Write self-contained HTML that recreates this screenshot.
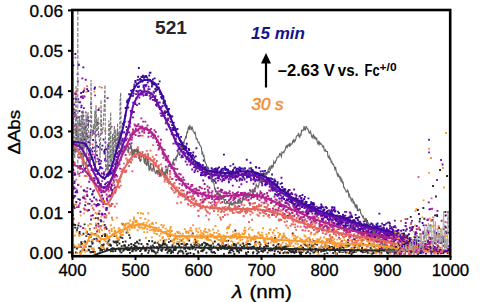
<!DOCTYPE html>
<html><head><meta charset="utf-8"><style>
html,body{margin:0;padding:0;background:#fff;width:480px;height:302px;overflow:hidden}
svg{display:block}
text{font-family:"Liberation Sans",sans-serif;fill:#000}
.tl{stroke:#000;stroke-width:0.3}
</style></head><body>
<svg width="480" height="302" viewBox="0 0 480 302">
<defs><clipPath id="c"><rect x="73" y="11" width="376" height="244"/></clipPath></defs>
<g clip-path="url(#c)">
<path fill="#262626" d="M72.9 223.5h1.9v1.9h-1.9zM73.0 205.5h1.9v1.9h-1.9zM72.9 196.4h1.9v1.9h-1.9zM73.9 246.3h1.9v1.9h-1.9zM74.1 226.7h1.9v1.9h-1.9zM74.3 224.0h1.9v1.9h-1.9zM75.0 251.5h1.9v1.9h-1.9zM75.4 201.1h1.9v1.9h-1.9zM76.0 247.5h1.9v1.9h-1.9zM76.0 229.2h1.9v1.9h-1.9zM76.5 227.2h1.9v1.9h-1.9zM77.1 183.9h1.9v1.9h-1.9zM77.4 224.6h1.9v1.9h-1.9zM77.8 245.9h1.9v1.9h-1.9zM78.6 231.8h1.9v1.9h-1.9zM78.7 230.9h1.9v1.9h-1.9zM78.6 233.3h1.9v1.9h-1.9zM79.5 251.9h1.9v1.9h-1.9zM79.7 250.6h1.9v1.9h-1.9zM80.4 243.2h1.9v1.9h-1.9zM80.3 241.2h1.9v1.9h-1.9zM81.0 242.9h1.9v1.9h-1.9zM81.7 248.7h1.9v1.9h-1.9zM82.5 232.8h1.9v1.9h-1.9zM82.8 247.7h1.9v1.9h-1.9zM83.4 249.0h1.9v1.9h-1.9zM83.6 223.4h1.9v1.9h-1.9zM84.0 240.5h1.9v1.9h-1.9zM84.3 204.3h1.9v1.9h-1.9zM84.5 246.1h1.9v1.9h-1.9zM84.6 241.8h1.9v1.9h-1.9zM85.4 235.2h1.9v1.9h-1.9zM85.9 231.1h1.9v1.9h-1.9zM86.4 195.1h1.9v1.9h-1.9zM86.9 209.5h1.9v1.9h-1.9zM87.2 233.2h1.9v1.9h-1.9zM87.6 248.8h1.9v1.9h-1.9zM88.2 249.3h1.9v1.9h-1.9zM88.2 245.4h1.9v1.9h-1.9zM88.9 228.2h1.9v1.9h-1.9zM89.2 233.8h1.9v1.9h-1.9zM89.6 251.3h1.9v1.9h-1.9zM89.9 245.5h1.9v1.9h-1.9zM90.5 251.1h1.9v1.9h-1.9zM90.8 240.7h1.9v1.9h-1.9zM91.4 242.9h1.9v1.9h-1.9zM91.7 242.1h1.9v1.9h-1.9zM92.1 251.0h1.9v1.9h-1.9zM92.4 250.4h1.9v1.9h-1.9zM93.2 238.2h1.9v1.9h-1.9zM93.8 251.8h1.9v1.9h-1.9zM93.7 251.4h1.9v1.9h-1.9zM93.9 251.2h1.9v1.9h-1.9zM94.4 232.9h1.9v1.9h-1.9zM94.8 217.2h1.9v1.9h-1.9zM95.5 237.7h1.9v1.9h-1.9zM95.9 238.7h1.9v1.9h-1.9zM96.4 239.5h1.9v1.9h-1.9zM97.1 217.3h1.9v1.9h-1.9zM97.4 222.8h1.9v1.9h-1.9zM97.6 229.2h1.9v1.9h-1.9zM98.2 247.0h1.9v1.9h-1.9zM98.6 240.6h1.9v1.9h-1.9zM99.3 249.6h1.9v1.9h-1.9zM99.6 247.8h1.9v1.9h-1.9zM99.6 225.3h1.9v1.9h-1.9zM100.2 220.3h1.9v1.9h-1.9zM101.1 249.1h1.9v1.9h-1.9zM100.9 244.3h1.9v1.9h-1.9zM101.1 235.0h1.9v1.9h-1.9zM102.0 244.2h1.9v1.9h-1.9zM102.3 246.2h1.9v1.9h-1.9zM102.8 243.5h1.9v1.9h-1.9zM102.9 248.2h1.9v1.9h-1.9zM103.7 224.1h1.9v1.9h-1.9zM104.1 235.2h1.9v1.9h-1.9zM104.1 233.3h1.9v1.9h-1.9zM104.8 226.5h1.9v1.9h-1.9zM105.0 234.3h1.9v1.9h-1.9zM105.6 227.8h1.9v1.9h-1.9zM105.7 248.4h1.9v1.9h-1.9zM106.4 247.6h1.9v1.9h-1.9zM106.6 242.5h1.9v1.9h-1.9zM107.5 240.4h1.9v1.9h-1.9zM108.0 243.9h1.9v1.9h-1.9zM108.4 238.7h1.9v1.9h-1.9zM108.5 243.7h1.9v1.9h-1.9zM109.2 243.6h1.9v1.9h-1.9zM109.7 244.9h1.9v1.9h-1.9zM109.9 250.4h1.9v1.9h-1.9zM110.1 244.4h1.9v1.9h-1.9zM110.4 248.3h1.9v1.9h-1.9zM111.2 202.9h1.9v1.9h-1.9zM111.5 247.3h1.9v1.9h-1.9zM111.9 250.3h1.9v1.9h-1.9zM112.0 250.3h1.9v1.9h-1.9zM112.6 240.5h1.9v1.9h-1.9zM113.0 247.4h1.9v1.9h-1.9zM113.4 241.3h1.9v1.9h-1.9zM113.6 235.0h1.9v1.9h-1.9zM114.4 250.1h1.9v1.9h-1.9zM115.2 240.6h1.9v1.9h-1.9zM115.2 240.5h1.9v1.9h-1.9zM115.4 241.9h1.9v1.9h-1.9zM116.2 244.3h1.9v1.9h-1.9zM116.1 241.0h1.9v1.9h-1.9zM116.7 240.6h1.9v1.9h-1.9zM117.6 238.8h1.9v1.9h-1.9zM117.6 247.5h1.9v1.9h-1.9zM118.4 248.8h1.9v1.9h-1.9zM118.4 242.6h1.9v1.9h-1.9zM119.3 250.5h1.9v1.9h-1.9zM119.5 236.3h1.9v1.9h-1.9zM119.8 248.3h1.9v1.9h-1.9zM120.5 251.7h1.9v1.9h-1.9zM120.7 245.3h1.9v1.9h-1.9zM121.4 237.2h1.9v1.9h-1.9zM122.0 240.9h1.9v1.9h-1.9zM121.8 223.3h1.9v1.9h-1.9zM122.3 249.8h1.9v1.9h-1.9zM122.9 244.5h1.9v1.9h-1.9zM123.0 248.9h1.9v1.9h-1.9zM123.9 244.3h1.9v1.9h-1.9zM123.9 245.4h1.9v1.9h-1.9zM124.6 240.5h1.9v1.9h-1.9zM125.1 246.8h1.9v1.9h-1.9zM125.1 248.4h1.9v1.9h-1.9zM125.7 231.6h1.9v1.9h-1.9zM125.9 248.0h1.9v1.9h-1.9zM126.6 246.6h1.9v1.9h-1.9zM127.3 248.7h1.9v1.9h-1.9zM126.9 249.2h1.9v1.9h-1.9zM128.3 234.2h1.9v1.9h-1.9zM127.9 244.3h1.9v1.9h-1.9zM128.6 249.1h1.9v1.9h-1.9zM129.0 251.9h1.9v1.9h-1.9zM129.2 236.8h1.9v1.9h-1.9zM130.3 243.0h1.9v1.9h-1.9zM130.3 247.5h1.9v1.9h-1.9zM130.6 245.7h1.9v1.9h-1.9zM131.1 250.4h1.9v1.9h-1.9zM131.9 249.9h1.9v1.9h-1.9zM132.0 248.0h1.9v1.9h-1.9zM132.8 244.1h1.9v1.9h-1.9zM133.0 247.4h1.9v1.9h-1.9zM133.4 248.3h1.9v1.9h-1.9zM133.8 244.9h1.9v1.9h-1.9zM133.9 246.0h1.9v1.9h-1.9zM134.2 242.3h1.9v1.9h-1.9zM134.8 249.5h1.9v1.9h-1.9zM135.6 245.5h1.9v1.9h-1.9zM135.5 249.3h1.9v1.9h-1.9zM136.0 240.7h1.9v1.9h-1.9zM136.3 241.5h1.9v1.9h-1.9zM137.2 248.1h1.9v1.9h-1.9zM137.9 242.7h1.9v1.9h-1.9zM138.2 246.8h1.9v1.9h-1.9zM138.7 239.3h1.9v1.9h-1.9zM139.2 250.1h1.9v1.9h-1.9zM139.8 249.3h1.9v1.9h-1.9zM140.2 248.4h1.9v1.9h-1.9zM140.5 243.0h1.9v1.9h-1.9zM140.8 252.9h1.9v1.9h-1.9zM142.3 245.5h1.9v1.9h-1.9zM142.0 247.5h1.9v1.9h-1.9zM142.3 245.6h1.9v1.9h-1.9zM143.1 247.7h1.9v1.9h-1.9zM143.6 247.1h1.9v1.9h-1.9zM143.7 247.9h1.9v1.9h-1.9zM144.2 249.7h1.9v1.9h-1.9zM144.6 249.8h1.9v1.9h-1.9zM145.0 246.9h1.9v1.9h-1.9zM145.5 248.7h1.9v1.9h-1.9zM145.9 246.6h1.9v1.9h-1.9zM146.3 243.0h1.9v1.9h-1.9zM146.7 243.6h1.9v1.9h-1.9zM147.3 251.9h1.9v1.9h-1.9zM147.9 249.8h1.9v1.9h-1.9zM148.1 240.0h1.9v1.9h-1.9zM148.6 247.3h1.9v1.9h-1.9zM148.8 247.2h1.9v1.9h-1.9zM149.9 245.4h1.9v1.9h-1.9zM149.9 247.5h1.9v1.9h-1.9zM150.6 248.8h1.9v1.9h-1.9zM151.1 250.3h1.9v1.9h-1.9zM151.3 240.3h1.9v1.9h-1.9zM151.9 244.5h1.9v1.9h-1.9zM152.3 250.4h1.9v1.9h-1.9zM152.6 249.4h1.9v1.9h-1.9zM152.9 245.9h1.9v1.9h-1.9zM153.5 242.2h1.9v1.9h-1.9zM153.7 251.0h1.9v1.9h-1.9zM154.2 241.5h1.9v1.9h-1.9zM154.8 252.5h1.9v1.9h-1.9zM155.9 245.9h1.9v1.9h-1.9zM156.0 247.2h1.9v1.9h-1.9zM156.5 251.3h1.9v1.9h-1.9zM156.7 241.9h1.9v1.9h-1.9zM157.5 247.9h1.9v1.9h-1.9zM157.3 249.2h1.9v1.9h-1.9zM158.0 243.7h1.9v1.9h-1.9zM158.7 243.9h1.9v1.9h-1.9zM158.9 244.5h1.9v1.9h-1.9zM158.9 246.5h1.9v1.9h-1.9zM159.8 245.1h1.9v1.9h-1.9zM160.2 249.1h1.9v1.9h-1.9zM161.1 244.4h1.9v1.9h-1.9zM160.9 249.9h1.9v1.9h-1.9zM161.5 248.1h1.9v1.9h-1.9zM161.8 243.3h1.9v1.9h-1.9zM162.5 241.5h1.9v1.9h-1.9zM162.5 243.7h1.9v1.9h-1.9zM162.7 239.9h1.9v1.9h-1.9zM163.6 243.6h1.9v1.9h-1.9zM163.7 239.4h1.9v1.9h-1.9zM164.2 242.8h1.9v1.9h-1.9zM164.7 249.1h1.9v1.9h-1.9zM165.7 244.2h1.9v1.9h-1.9zM165.9 248.0h1.9v1.9h-1.9zM166.5 251.9h1.9v1.9h-1.9zM166.3 246.0h1.9v1.9h-1.9zM166.9 246.8h1.9v1.9h-1.9zM167.2 250.3h1.9v1.9h-1.9zM168.2 248.6h1.9v1.9h-1.9zM168.0 241.2h1.9v1.9h-1.9zM168.7 250.1h1.9v1.9h-1.9zM169.0 235.2h1.9v1.9h-1.9zM169.7 248.6h1.9v1.9h-1.9zM170.1 252.0h1.9v1.9h-1.9zM170.0 240.1h1.9v1.9h-1.9zM170.7 240.0h1.9v1.9h-1.9zM170.8 250.2h1.9v1.9h-1.9zM171.5 245.8h1.9v1.9h-1.9zM171.6 244.3h1.9v1.9h-1.9zM172.1 251.3h1.9v1.9h-1.9zM172.8 249.1h1.9v1.9h-1.9zM173.2 247.4h1.9v1.9h-1.9zM173.3 238.4h1.9v1.9h-1.9zM174.0 247.6h1.9v1.9h-1.9zM174.4 245.6h1.9v1.9h-1.9zM174.5 249.0h1.9v1.9h-1.9zM175.0 247.7h1.9v1.9h-1.9zM176.1 242.7h1.9v1.9h-1.9zM176.9 252.4h1.9v1.9h-1.9zM177.4 243.1h1.9v1.9h-1.9zM177.8 250.6h1.9v1.9h-1.9zM178.2 244.5h1.9v1.9h-1.9zM178.8 250.7h1.9v1.9h-1.9zM179.1 246.4h1.9v1.9h-1.9zM179.6 249.4h1.9v1.9h-1.9zM179.7 246.4h1.9v1.9h-1.9zM180.5 239.6h1.9v1.9h-1.9zM180.5 243.0h1.9v1.9h-1.9zM181.2 250.3h1.9v1.9h-1.9zM181.6 250.8h1.9v1.9h-1.9zM182.1 242.7h1.9v1.9h-1.9zM182.4 252.5h1.9v1.9h-1.9zM183.3 247.8h1.9v1.9h-1.9zM183.3 243.8h1.9v1.9h-1.9zM184.0 243.8h1.9v1.9h-1.9zM184.1 247.8h1.9v1.9h-1.9zM184.9 250.3h1.9v1.9h-1.9zM184.9 244.5h1.9v1.9h-1.9zM185.7 243.1h1.9v1.9h-1.9zM185.8 253.0h1.9v1.9h-1.9zM186.3 243.2h1.9v1.9h-1.9zM186.5 247.2h1.9v1.9h-1.9zM187.1 252.4h1.9v1.9h-1.9zM187.6 247.5h1.9v1.9h-1.9zM187.5 247.5h1.9v1.9h-1.9zM188.3 239.5h1.9v1.9h-1.9zM188.8 247.9h1.9v1.9h-1.9zM188.8 248.3h1.9v1.9h-1.9zM189.4 252.0h1.9v1.9h-1.9zM189.9 243.7h1.9v1.9h-1.9zM191.1 245.3h1.9v1.9h-1.9zM191.4 247.8h1.9v1.9h-1.9zM191.8 232.6h1.9v1.9h-1.9zM192.1 246.9h1.9v1.9h-1.9zM192.9 246.0h1.9v1.9h-1.9zM192.8 253.0h1.9v1.9h-1.9zM193.5 243.9h1.9v1.9h-1.9zM194.2 239.0h1.9v1.9h-1.9zM194.0 242.0h1.9v1.9h-1.9zM194.5 248.5h1.9v1.9h-1.9zM195.0 241.0h1.9v1.9h-1.9zM195.6 244.2h1.9v1.9h-1.9zM195.6 241.2h1.9v1.9h-1.9zM196.4 243.4h1.9v1.9h-1.9zM196.6 244.4h1.9v1.9h-1.9zM197.1 250.5h1.9v1.9h-1.9zM197.4 251.9h1.9v1.9h-1.9zM197.7 243.6h1.9v1.9h-1.9zM198.4 245.3h1.9v1.9h-1.9zM198.9 246.7h1.9v1.9h-1.9zM198.9 244.2h1.9v1.9h-1.9zM199.8 246.8h1.9v1.9h-1.9zM200.2 250.2h1.9v1.9h-1.9zM201.0 249.5h1.9v1.9h-1.9zM201.1 244.0h1.9v1.9h-1.9zM201.6 250.3h1.9v1.9h-1.9zM201.3 242.9h1.9v1.9h-1.9zM202.4 248.8h1.9v1.9h-1.9zM202.7 249.0h1.9v1.9h-1.9zM203.1 241.7h1.9v1.9h-1.9zM203.4 247.5h1.9v1.9h-1.9zM203.6 246.8h1.9v1.9h-1.9zM204.5 242.3h1.9v1.9h-1.9zM203.9 245.6h1.9v1.9h-1.9zM205.2 244.1h1.9v1.9h-1.9zM205.5 251.8h1.9v1.9h-1.9zM206.3 243.0h1.9v1.9h-1.9zM206.4 237.2h1.9v1.9h-1.9zM206.9 243.7h1.9v1.9h-1.9zM206.9 246.9h1.9v1.9h-1.9zM207.7 247.9h1.9v1.9h-1.9zM208.2 244.6h1.9v1.9h-1.9zM208.1 247.7h1.9v1.9h-1.9zM208.7 248.5h1.9v1.9h-1.9zM209.3 246.2h1.9v1.9h-1.9zM209.9 245.3h1.9v1.9h-1.9zM210.1 244.4h1.9v1.9h-1.9zM210.5 250.8h1.9v1.9h-1.9zM210.4 248.7h1.9v1.9h-1.9zM211.1 246.9h1.9v1.9h-1.9zM211.6 251.7h1.9v1.9h-1.9zM212.1 242.7h1.9v1.9h-1.9zM212.6 245.6h1.9v1.9h-1.9zM213.1 251.1h1.9v1.9h-1.9zM214.2 252.2h1.9v1.9h-1.9zM213.9 240.6h1.9v1.9h-1.9zM214.9 246.4h1.9v1.9h-1.9zM215.6 236.4h1.9v1.9h-1.9zM216.0 247.1h1.9v1.9h-1.9zM216.6 248.3h1.9v1.9h-1.9zM217.1 243.8h1.9v1.9h-1.9zM217.3 249.0h1.9v1.9h-1.9zM217.6 243.2h1.9v1.9h-1.9zM217.7 243.4h1.9v1.9h-1.9zM218.8 244.8h1.9v1.9h-1.9zM219.1 245.5h1.9v1.9h-1.9zM219.5 246.7h1.9v1.9h-1.9zM220.1 247.5h1.9v1.9h-1.9zM220.3 248.1h1.9v1.9h-1.9zM221.2 246.0h1.9v1.9h-1.9zM221.7 242.2h1.9v1.9h-1.9zM221.5 244.1h1.9v1.9h-1.9zM222.2 247.1h1.9v1.9h-1.9zM223.0 245.4h1.9v1.9h-1.9zM223.0 252.9h1.9v1.9h-1.9zM223.5 247.9h1.9v1.9h-1.9zM224.3 247.8h1.9v1.9h-1.9zM224.3 244.6h1.9v1.9h-1.9zM224.4 245.5h1.9v1.9h-1.9zM225.5 244.0h1.9v1.9h-1.9zM225.5 240.1h1.9v1.9h-1.9zM226.3 248.1h1.9v1.9h-1.9zM226.7 246.3h1.9v1.9h-1.9zM227.3 239.8h1.9v1.9h-1.9zM227.5 247.1h1.9v1.9h-1.9zM228.1 245.2h1.9v1.9h-1.9zM227.9 251.9h1.9v1.9h-1.9zM228.6 250.2h1.9v1.9h-1.9zM229.1 246.3h1.9v1.9h-1.9zM229.7 251.7h1.9v1.9h-1.9zM229.6 248.5h1.9v1.9h-1.9zM230.5 249.2h1.9v1.9h-1.9zM230.8 247.0h1.9v1.9h-1.9zM231.6 248.8h1.9v1.9h-1.9zM230.8 244.8h1.9v1.9h-1.9zM232.5 250.7h1.9v1.9h-1.9zM232.2 243.8h1.9v1.9h-1.9zM233.0 242.9h1.9v1.9h-1.9zM233.2 244.5h1.9v1.9h-1.9zM233.4 253.0h1.9v1.9h-1.9zM234.2 247.5h1.9v1.9h-1.9zM234.4 229.6h1.9v1.9h-1.9zM234.9 243.6h1.9v1.9h-1.9zM235.4 245.5h1.9v1.9h-1.9zM235.8 248.6h1.9v1.9h-1.9zM236.3 250.3h1.9v1.9h-1.9zM236.2 249.2h1.9v1.9h-1.9zM237.2 242.4h1.9v1.9h-1.9zM237.6 246.7h1.9v1.9h-1.9zM237.7 249.9h1.9v1.9h-1.9zM238.1 251.7h1.9v1.9h-1.9zM238.7 247.7h1.9v1.9h-1.9zM238.9 248.8h1.9v1.9h-1.9zM239.4 244.3h1.9v1.9h-1.9zM239.8 248.6h1.9v1.9h-1.9zM240.4 249.5h1.9v1.9h-1.9zM241.2 247.1h1.9v1.9h-1.9zM241.0 245.9h1.9v1.9h-1.9zM242.3 242.4h1.9v1.9h-1.9zM242.1 242.7h1.9v1.9h-1.9zM243.0 244.7h1.9v1.9h-1.9zM243.4 246.3h1.9v1.9h-1.9zM243.5 246.9h1.9v1.9h-1.9zM244.9 251.8h1.9v1.9h-1.9zM245.5 253.0h1.9v1.9h-1.9zM245.2 243.9h1.9v1.9h-1.9zM245.6 244.5h1.9v1.9h-1.9zM245.8 246.1h1.9v1.9h-1.9zM246.6 242.7h1.9v1.9h-1.9zM247.2 251.1h1.9v1.9h-1.9zM247.2 248.1h1.9v1.9h-1.9zM248.0 243.1h1.9v1.9h-1.9zM248.0 246.5h1.9v1.9h-1.9zM248.7 246.4h1.9v1.9h-1.9zM249.3 243.4h1.9v1.9h-1.9zM250.1 247.6h1.9v1.9h-1.9zM250.0 246.5h1.9v1.9h-1.9zM250.4 246.4h1.9v1.9h-1.9zM251.6 246.1h1.9v1.9h-1.9zM252.2 247.1h1.9v1.9h-1.9zM252.0 252.3h1.9v1.9h-1.9zM252.4 251.2h1.9v1.9h-1.9zM252.9 245.6h1.9v1.9h-1.9zM253.5 246.5h1.9v1.9h-1.9zM254.1 241.9h1.9v1.9h-1.9zM254.9 247.9h1.9v1.9h-1.9zM254.8 240.7h1.9v1.9h-1.9zM255.9 247.2h1.9v1.9h-1.9zM255.7 249.5h1.9v1.9h-1.9zM256.2 252.7h1.9v1.9h-1.9zM256.8 246.8h1.9v1.9h-1.9zM257.2 250.6h1.9v1.9h-1.9zM257.8 251.3h1.9v1.9h-1.9zM257.8 248.0h1.9v1.9h-1.9zM258.6 241.4h1.9v1.9h-1.9zM259.0 245.8h1.9v1.9h-1.9zM259.1 247.1h1.9v1.9h-1.9zM259.5 243.5h1.9v1.9h-1.9zM259.7 247.5h1.9v1.9h-1.9zM260.5 250.2h1.9v1.9h-1.9zM260.4 249.8h1.9v1.9h-1.9zM261.9 250.9h1.9v1.9h-1.9zM262.6 249.3h1.9v1.9h-1.9zM262.6 249.4h1.9v1.9h-1.9zM263.2 246.0h1.9v1.9h-1.9zM263.7 249.6h1.9v1.9h-1.9zM264.0 247.9h1.9v1.9h-1.9zM264.2 249.0h1.9v1.9h-1.9zM264.7 243.6h1.9v1.9h-1.9zM265.1 244.5h1.9v1.9h-1.9zM265.5 245.5h1.9v1.9h-1.9zM266.7 251.7h1.9v1.9h-1.9zM267.0 245.2h1.9v1.9h-1.9zM267.3 242.4h1.9v1.9h-1.9zM268.0 249.3h1.9v1.9h-1.9zM268.8 237.8h1.9v1.9h-1.9zM269.6 249.6h1.9v1.9h-1.9zM269.3 249.7h1.9v1.9h-1.9zM269.6 247.5h1.9v1.9h-1.9zM270.0 249.3h1.9v1.9h-1.9zM270.7 248.1h1.9v1.9h-1.9zM271.5 239.6h1.9v1.9h-1.9zM271.5 249.3h1.9v1.9h-1.9zM272.5 244.3h1.9v1.9h-1.9zM273.4 247.2h1.9v1.9h-1.9zM273.4 253.0h1.9v1.9h-1.9zM274.1 237.1h1.9v1.9h-1.9zM273.8 250.3h1.9v1.9h-1.9zM274.8 248.4h1.9v1.9h-1.9zM274.8 246.1h1.9v1.9h-1.9zM275.7 245.7h1.9v1.9h-1.9zM276.2 244.8h1.9v1.9h-1.9zM276.7 244.6h1.9v1.9h-1.9zM276.6 247.4h1.9v1.9h-1.9zM277.1 250.7h1.9v1.9h-1.9zM277.6 243.1h1.9v1.9h-1.9zM278.0 246.6h1.9v1.9h-1.9zM278.9 251.4h1.9v1.9h-1.9zM278.9 252.0h1.9v1.9h-1.9zM279.8 246.1h1.9v1.9h-1.9zM279.7 245.2h1.9v1.9h-1.9zM280.3 248.6h1.9v1.9h-1.9zM280.4 248.6h1.9v1.9h-1.9zM281.0 249.0h1.9v1.9h-1.9zM282.0 246.5h1.9v1.9h-1.9zM282.5 252.1h1.9v1.9h-1.9zM282.8 247.2h1.9v1.9h-1.9zM283.5 245.7h1.9v1.9h-1.9zM283.7 245.8h1.9v1.9h-1.9zM283.9 246.6h1.9v1.9h-1.9zM283.9 251.2h1.9v1.9h-1.9zM285.1 245.6h1.9v1.9h-1.9zM285.2 251.5h1.9v1.9h-1.9zM285.9 247.8h1.9v1.9h-1.9zM286.4 251.7h1.9v1.9h-1.9zM286.5 251.5h1.9v1.9h-1.9zM287.2 245.4h1.9v1.9h-1.9zM287.3 251.8h1.9v1.9h-1.9zM287.9 249.1h1.9v1.9h-1.9zM288.4 248.9h1.9v1.9h-1.9zM289.1 250.1h1.9v1.9h-1.9zM289.1 244.8h1.9v1.9h-1.9zM289.4 248.7h1.9v1.9h-1.9zM289.9 250.7h1.9v1.9h-1.9zM290.4 251.4h1.9v1.9h-1.9zM290.8 249.0h1.9v1.9h-1.9zM290.9 249.6h1.9v1.9h-1.9zM291.8 232.6h1.9v1.9h-1.9zM291.9 248.9h1.9v1.9h-1.9zM292.1 251.2h1.9v1.9h-1.9zM293.0 250.7h1.9v1.9h-1.9zM293.5 252.0h1.9v1.9h-1.9zM293.8 247.6h1.9v1.9h-1.9zM294.5 247.7h1.9v1.9h-1.9zM294.6 250.0h1.9v1.9h-1.9zM294.9 248.1h1.9v1.9h-1.9zM295.2 249.0h1.9v1.9h-1.9zM295.5 251.2h1.9v1.9h-1.9zM296.5 247.3h1.9v1.9h-1.9zM297.1 248.2h1.9v1.9h-1.9zM297.3 248.1h1.9v1.9h-1.9zM298.1 250.8h1.9v1.9h-1.9zM298.7 248.6h1.9v1.9h-1.9zM299.8 251.3h1.9v1.9h-1.9zM299.0 252.5h1.9v1.9h-1.9zM300.1 253.0h1.9v1.9h-1.9zM300.0 244.8h1.9v1.9h-1.9zM300.8 246.3h1.9v1.9h-1.9zM301.5 251.0h1.9v1.9h-1.9zM302.1 246.7h1.9v1.9h-1.9zM302.5 249.9h1.9v1.9h-1.9zM303.7 243.6h1.9v1.9h-1.9zM303.7 248.8h1.9v1.9h-1.9zM305.4 244.6h1.9v1.9h-1.9zM305.1 252.2h1.9v1.9h-1.9zM306.5 251.1h1.9v1.9h-1.9zM306.6 244.9h1.9v1.9h-1.9zM306.8 250.8h1.9v1.9h-1.9zM307.0 250.8h1.9v1.9h-1.9zM307.6 246.4h1.9v1.9h-1.9zM308.1 248.5h1.9v1.9h-1.9zM308.4 243.8h1.9v1.9h-1.9zM309.3 247.6h1.9v1.9h-1.9zM309.2 252.5h1.9v1.9h-1.9zM309.8 249.4h1.9v1.9h-1.9zM310.4 246.3h1.9v1.9h-1.9zM310.7 249.9h1.9v1.9h-1.9zM311.1 244.2h1.9v1.9h-1.9zM311.8 244.2h1.9v1.9h-1.9zM312.3 245.5h1.9v1.9h-1.9zM312.5 251.6h1.9v1.9h-1.9zM312.8 239.9h1.9v1.9h-1.9zM313.4 251.3h1.9v1.9h-1.9zM314.6 247.9h1.9v1.9h-1.9zM314.1 242.8h1.9v1.9h-1.9zM314.3 247.7h1.9v1.9h-1.9zM315.2 248.1h1.9v1.9h-1.9zM315.2 250.1h1.9v1.9h-1.9zM316.2 243.7h1.9v1.9h-1.9zM316.4 248.9h1.9v1.9h-1.9zM316.4 249.4h1.9v1.9h-1.9zM317.2 250.8h1.9v1.9h-1.9zM318.1 249.1h1.9v1.9h-1.9zM319.0 248.7h1.9v1.9h-1.9zM319.3 241.2h1.9v1.9h-1.9zM320.4 245.4h1.9v1.9h-1.9zM320.2 250.6h1.9v1.9h-1.9zM320.7 246.4h1.9v1.9h-1.9zM321.8 249.8h1.9v1.9h-1.9zM322.9 250.2h1.9v1.9h-1.9zM323.0 248.7h1.9v1.9h-1.9zM323.1 246.8h1.9v1.9h-1.9zM323.6 246.1h1.9v1.9h-1.9zM323.6 252.9h1.9v1.9h-1.9zM324.3 244.2h1.9v1.9h-1.9zM324.5 249.0h1.9v1.9h-1.9zM325.1 249.7h1.9v1.9h-1.9zM326.4 247.5h1.9v1.9h-1.9zM326.4 252.2h1.9v1.9h-1.9zM327.1 248.4h1.9v1.9h-1.9zM327.4 238.6h1.9v1.9h-1.9zM328.2 247.0h1.9v1.9h-1.9zM328.0 245.2h1.9v1.9h-1.9zM328.8 241.2h1.9v1.9h-1.9zM328.9 246.2h1.9v1.9h-1.9zM329.3 246.2h1.9v1.9h-1.9zM329.7 246.8h1.9v1.9h-1.9zM331.1 246.0h1.9v1.9h-1.9zM331.2 249.2h1.9v1.9h-1.9zM331.6 247.0h1.9v1.9h-1.9zM332.2 252.0h1.9v1.9h-1.9zM332.5 247.4h1.9v1.9h-1.9zM332.8 246.8h1.9v1.9h-1.9zM333.5 247.6h1.9v1.9h-1.9zM334.1 250.4h1.9v1.9h-1.9zM334.2 244.8h1.9v1.9h-1.9zM334.8 252.4h1.9v1.9h-1.9zM335.7 252.8h1.9v1.9h-1.9zM336.1 252.7h1.9v1.9h-1.9zM336.6 248.6h1.9v1.9h-1.9zM336.3 247.8h1.9v1.9h-1.9zM337.7 248.6h1.9v1.9h-1.9zM338.3 250.7h1.9v1.9h-1.9zM338.5 248.6h1.9v1.9h-1.9zM339.0 246.8h1.9v1.9h-1.9zM338.8 251.1h1.9v1.9h-1.9zM339.2 249.2h1.9v1.9h-1.9zM339.4 249.8h1.9v1.9h-1.9zM340.3 248.6h1.9v1.9h-1.9zM341.2 250.8h1.9v1.9h-1.9zM341.3 246.0h1.9v1.9h-1.9zM342.0 250.5h1.9v1.9h-1.9zM342.7 246.9h1.9v1.9h-1.9zM342.6 250.8h1.9v1.9h-1.9zM343.3 249.7h1.9v1.9h-1.9zM344.8 244.9h1.9v1.9h-1.9zM345.0 251.3h1.9v1.9h-1.9zM345.7 249.8h1.9v1.9h-1.9zM345.4 251.5h1.9v1.9h-1.9zM346.8 245.3h1.9v1.9h-1.9zM347.0 241.7h1.9v1.9h-1.9zM348.1 244.5h1.9v1.9h-1.9zM348.3 252.2h1.9v1.9h-1.9zM348.7 243.7h1.9v1.9h-1.9zM349.0 250.9h1.9v1.9h-1.9zM350.2 250.1h1.9v1.9h-1.9zM350.6 253.0h1.9v1.9h-1.9zM350.8 247.6h1.9v1.9h-1.9zM351.5 251.5h1.9v1.9h-1.9zM351.7 246.7h1.9v1.9h-1.9zM351.9 251.6h1.9v1.9h-1.9zM352.8 243.5h1.9v1.9h-1.9zM352.9 246.8h1.9v1.9h-1.9zM353.3 251.0h1.9v1.9h-1.9zM353.9 246.4h1.9v1.9h-1.9zM354.4 251.0h1.9v1.9h-1.9zM354.4 249.7h1.9v1.9h-1.9zM355.0 250.8h1.9v1.9h-1.9zM356.6 248.7h1.9v1.9h-1.9zM356.5 249.4h1.9v1.9h-1.9zM357.2 248.8h1.9v1.9h-1.9zM357.6 247.8h1.9v1.9h-1.9zM357.8 243.4h1.9v1.9h-1.9zM358.6 244.6h1.9v1.9h-1.9zM358.8 245.2h1.9v1.9h-1.9zM359.9 250.4h1.9v1.9h-1.9zM361.0 250.2h1.9v1.9h-1.9zM361.1 247.1h1.9v1.9h-1.9zM361.6 251.4h1.9v1.9h-1.9zM362.1 242.9h1.9v1.9h-1.9zM362.7 250.9h1.9v1.9h-1.9zM363.6 250.5h1.9v1.9h-1.9zM364.4 250.9h1.9v1.9h-1.9zM364.4 249.2h1.9v1.9h-1.9zM365.3 249.6h1.9v1.9h-1.9zM365.7 249.7h1.9v1.9h-1.9zM365.9 250.0h1.9v1.9h-1.9zM367.3 244.6h1.9v1.9h-1.9zM366.8 251.8h1.9v1.9h-1.9zM367.3 249.3h1.9v1.9h-1.9zM368.2 243.7h1.9v1.9h-1.9zM368.6 242.7h1.9v1.9h-1.9zM368.6 243.8h1.9v1.9h-1.9zM369.7 246.9h1.9v1.9h-1.9zM370.0 249.2h1.9v1.9h-1.9zM370.4 248.7h1.9v1.9h-1.9zM371.0 248.7h1.9v1.9h-1.9zM371.3 252.8h1.9v1.9h-1.9zM371.8 250.3h1.9v1.9h-1.9zM372.6 252.0h1.9v1.9h-1.9zM372.6 242.5h1.9v1.9h-1.9zM373.0 245.7h1.9v1.9h-1.9zM373.4 245.7h1.9v1.9h-1.9zM374.8 248.2h1.9v1.9h-1.9zM375.4 251.3h1.9v1.9h-1.9zM375.4 250.2h1.9v1.9h-1.9zM376.1 244.6h1.9v1.9h-1.9zM376.4 250.0h1.9v1.9h-1.9zM377.1 249.1h1.9v1.9h-1.9zM378.0 250.5h1.9v1.9h-1.9zM378.8 243.7h1.9v1.9h-1.9zM379.0 248.3h1.9v1.9h-1.9zM379.0 247.5h1.9v1.9h-1.9zM379.4 252.3h1.9v1.9h-1.9zM380.4 252.1h1.9v1.9h-1.9zM381.0 247.1h1.9v1.9h-1.9zM381.2 245.4h1.9v1.9h-1.9zM381.5 248.6h1.9v1.9h-1.9zM382.1 248.6h1.9v1.9h-1.9zM382.5 249.4h1.9v1.9h-1.9zM384.4 249.0h1.9v1.9h-1.9zM384.7 243.0h1.9v1.9h-1.9zM384.5 247.5h1.9v1.9h-1.9zM384.6 244.4h1.9v1.9h-1.9zM385.5 249.9h1.9v1.9h-1.9zM386.0 240.3h1.9v1.9h-1.9zM386.1 251.6h1.9v1.9h-1.9zM386.5 247.8h1.9v1.9h-1.9zM386.9 249.5h1.9v1.9h-1.9zM387.2 252.3h1.9v1.9h-1.9zM387.9 247.1h1.9v1.9h-1.9zM388.0 247.4h1.9v1.9h-1.9zM388.6 251.1h1.9v1.9h-1.9zM388.7 251.0h1.9v1.9h-1.9zM389.6 248.7h1.9v1.9h-1.9zM389.5 251.0h1.9v1.9h-1.9zM390.1 246.0h1.9v1.9h-1.9zM390.7 245.4h1.9v1.9h-1.9zM391.2 248.5h1.9v1.9h-1.9zM391.8 247.9h1.9v1.9h-1.9zM392.2 245.5h1.9v1.9h-1.9zM392.1 243.4h1.9v1.9h-1.9zM393.0 248.4h1.9v1.9h-1.9zM393.5 252.8h1.9v1.9h-1.9zM393.5 250.7h1.9v1.9h-1.9z"/>
<path fill="#f99b2c" d="M72.5 252.2h1.9v1.9h-1.9zM73.4 244.4h1.9v1.9h-1.9zM73.9 234.5h1.9v1.9h-1.9zM74.8 245.6h1.9v1.9h-1.9zM75.6 230.7h1.9v1.9h-1.9zM76.4 252.0h1.9v1.9h-1.9zM77.8 245.8h1.9v1.9h-1.9zM77.8 243.5h1.9v1.9h-1.9zM78.1 234.1h1.9v1.9h-1.9zM78.4 235.2h1.9v1.9h-1.9zM79.1 245.1h1.9v1.9h-1.9zM79.7 214.5h1.9v1.9h-1.9zM81.3 234.2h1.9v1.9h-1.9zM81.8 244.0h1.9v1.9h-1.9zM82.4 240.9h1.9v1.9h-1.9zM83.1 212.4h1.9v1.9h-1.9zM83.3 246.6h1.9v1.9h-1.9zM84.2 250.8h1.9v1.9h-1.9zM84.3 227.7h1.9v1.9h-1.9zM84.3 246.2h1.9v1.9h-1.9zM85.4 232.0h1.9v1.9h-1.9zM85.6 230.2h1.9v1.9h-1.9zM86.0 250.2h1.9v1.9h-1.9zM86.2 241.8h1.9v1.9h-1.9zM87.2 224.6h1.9v1.9h-1.9zM87.9 235.9h1.9v1.9h-1.9zM88.2 240.1h1.9v1.9h-1.9zM89.0 222.9h1.9v1.9h-1.9zM89.1 228.8h1.9v1.9h-1.9zM90.2 223.2h1.9v1.9h-1.9zM90.5 231.9h1.9v1.9h-1.9zM91.3 238.9h1.9v1.9h-1.9zM90.9 247.8h1.9v1.9h-1.9zM91.8 239.5h1.9v1.9h-1.9zM92.2 248.1h1.9v1.9h-1.9zM92.5 247.3h1.9v1.9h-1.9zM92.7 217.4h1.9v1.9h-1.9zM93.1 248.8h1.9v1.9h-1.9zM93.0 233.9h1.9v1.9h-1.9zM93.9 251.9h1.9v1.9h-1.9zM94.6 212.1h1.9v1.9h-1.9zM95.0 222.4h1.9v1.9h-1.9zM95.4 227.1h1.9v1.9h-1.9zM95.9 224.6h1.9v1.9h-1.9zM95.9 212.9h1.9v1.9h-1.9zM96.9 234.6h1.9v1.9h-1.9zM96.9 239.4h1.9v1.9h-1.9zM97.5 235.4h1.9v1.9h-1.9zM97.8 229.1h1.9v1.9h-1.9zM98.4 231.0h1.9v1.9h-1.9zM99.0 241.9h1.9v1.9h-1.9zM99.6 239.1h1.9v1.9h-1.9zM99.6 227.7h1.9v1.9h-1.9zM100.0 245.6h1.9v1.9h-1.9zM100.3 215.7h1.9v1.9h-1.9zM101.0 229.4h1.9v1.9h-1.9zM102.0 245.9h1.9v1.9h-1.9zM102.3 224.4h1.9v1.9h-1.9zM102.3 233.4h1.9v1.9h-1.9zM102.7 247.3h1.9v1.9h-1.9zM103.6 239.6h1.9v1.9h-1.9zM104.1 228.1h1.9v1.9h-1.9zM104.7 238.2h1.9v1.9h-1.9zM105.0 240.5h1.9v1.9h-1.9zM106.0 235.8h1.9v1.9h-1.9zM106.2 233.7h1.9v1.9h-1.9zM107.0 243.3h1.9v1.9h-1.9zM106.8 235.4h1.9v1.9h-1.9zM107.9 235.6h1.9v1.9h-1.9zM107.9 237.5h1.9v1.9h-1.9zM108.8 235.9h1.9v1.9h-1.9zM108.9 236.0h1.9v1.9h-1.9zM108.8 232.2h1.9v1.9h-1.9zM109.9 224.3h1.9v1.9h-1.9zM110.5 234.7h1.9v1.9h-1.9zM110.7 228.0h1.9v1.9h-1.9zM110.7 230.1h1.9v1.9h-1.9zM111.6 219.0h1.9v1.9h-1.9zM111.8 233.0h1.9v1.9h-1.9zM112.6 233.4h1.9v1.9h-1.9zM112.8 234.3h1.9v1.9h-1.9zM113.2 226.8h1.9v1.9h-1.9zM113.5 230.9h1.9v1.9h-1.9zM114.1 229.8h1.9v1.9h-1.9zM114.4 231.0h1.9v1.9h-1.9zM115.2 235.1h1.9v1.9h-1.9zM115.7 234.3h1.9v1.9h-1.9zM116.0 237.2h1.9v1.9h-1.9zM115.9 216.8h1.9v1.9h-1.9zM116.4 236.5h1.9v1.9h-1.9zM116.8 237.5h1.9v1.9h-1.9zM117.4 238.5h1.9v1.9h-1.9zM117.7 229.8h1.9v1.9h-1.9zM117.8 227.3h1.9v1.9h-1.9zM118.8 232.2h1.9v1.9h-1.9zM119.1 228.5h1.9v1.9h-1.9zM119.5 234.1h1.9v1.9h-1.9zM119.6 231.8h1.9v1.9h-1.9zM120.1 231.6h1.9v1.9h-1.9zM120.5 234.6h1.9v1.9h-1.9zM120.8 222.5h1.9v1.9h-1.9zM121.2 233.9h1.9v1.9h-1.9zM121.9 234.2h1.9v1.9h-1.9zM122.2 230.8h1.9v1.9h-1.9zM122.8 224.1h1.9v1.9h-1.9zM123.5 227.5h1.9v1.9h-1.9zM123.5 225.6h1.9v1.9h-1.9zM124.1 228.4h1.9v1.9h-1.9zM124.5 224.5h1.9v1.9h-1.9zM125.0 227.4h1.9v1.9h-1.9zM124.7 223.1h1.9v1.9h-1.9zM126.1 222.5h1.9v1.9h-1.9zM126.3 230.3h1.9v1.9h-1.9zM126.4 228.9h1.9v1.9h-1.9zM127.1 231.7h1.9v1.9h-1.9zM127.3 225.2h1.9v1.9h-1.9zM127.9 222.4h1.9v1.9h-1.9zM128.7 224.3h1.9v1.9h-1.9zM128.8 228.5h1.9v1.9h-1.9zM129.2 219.5h1.9v1.9h-1.9zM129.9 224.9h1.9v1.9h-1.9zM130.5 223.5h1.9v1.9h-1.9zM130.2 225.4h1.9v1.9h-1.9zM130.9 226.8h1.9v1.9h-1.9zM131.6 223.9h1.9v1.9h-1.9zM131.6 226.4h1.9v1.9h-1.9zM131.9 220.9h1.9v1.9h-1.9zM132.3 222.6h1.9v1.9h-1.9zM133.1 216.6h1.9v1.9h-1.9zM133.0 218.6h1.9v1.9h-1.9zM133.6 226.9h1.9v1.9h-1.9zM134.0 225.5h1.9v1.9h-1.9zM134.9 219.7h1.9v1.9h-1.9zM134.4 221.1h1.9v1.9h-1.9zM135.8 220.1h1.9v1.9h-1.9zM135.3 221.3h1.9v1.9h-1.9zM136.2 224.3h1.9v1.9h-1.9zM136.9 212.1h1.9v1.9h-1.9zM136.7 229.3h1.9v1.9h-1.9zM137.3 222.7h1.9v1.9h-1.9zM137.9 226.0h1.9v1.9h-1.9zM139.0 226.8h1.9v1.9h-1.9zM138.6 224.2h1.9v1.9h-1.9zM138.8 223.8h1.9v1.9h-1.9zM139.6 217.0h1.9v1.9h-1.9zM139.9 212.3h1.9v1.9h-1.9zM140.1 223.3h1.9v1.9h-1.9zM140.7 226.2h1.9v1.9h-1.9zM141.4 223.1h1.9v1.9h-1.9zM141.6 227.6h1.9v1.9h-1.9zM142.0 212.8h1.9v1.9h-1.9zM142.6 221.9h1.9v1.9h-1.9zM143.2 231.2h1.9v1.9h-1.9zM143.5 224.6h1.9v1.9h-1.9zM143.5 227.3h1.9v1.9h-1.9zM144.3 218.0h1.9v1.9h-1.9zM144.5 226.3h1.9v1.9h-1.9zM145.0 236.8h1.9v1.9h-1.9zM145.2 224.3h1.9v1.9h-1.9zM145.8 221.7h1.9v1.9h-1.9zM146.4 228.3h1.9v1.9h-1.9zM146.4 231.2h1.9v1.9h-1.9zM147.3 212.3h1.9v1.9h-1.9zM147.5 219.6h1.9v1.9h-1.9zM148.1 225.7h1.9v1.9h-1.9zM148.7 223.5h1.9v1.9h-1.9zM149.0 226.4h1.9v1.9h-1.9zM149.2 229.2h1.9v1.9h-1.9zM149.7 226.0h1.9v1.9h-1.9zM150.6 228.7h1.9v1.9h-1.9zM151.0 222.9h1.9v1.9h-1.9zM150.9 236.4h1.9v1.9h-1.9zM151.4 221.7h1.9v1.9h-1.9zM152.1 222.8h1.9v1.9h-1.9zM152.5 229.6h1.9v1.9h-1.9zM152.7 228.7h1.9v1.9h-1.9zM153.3 232.2h1.9v1.9h-1.9zM153.8 229.3h1.9v1.9h-1.9zM154.3 226.7h1.9v1.9h-1.9zM154.3 230.1h1.9v1.9h-1.9zM154.7 226.7h1.9v1.9h-1.9zM155.1 221.9h1.9v1.9h-1.9zM155.6 233.1h1.9v1.9h-1.9zM155.6 227.1h1.9v1.9h-1.9zM156.2 232.9h1.9v1.9h-1.9zM156.6 229.7h1.9v1.9h-1.9zM157.4 230.1h1.9v1.9h-1.9zM157.3 240.8h1.9v1.9h-1.9zM157.9 226.8h1.9v1.9h-1.9zM158.7 234.8h1.9v1.9h-1.9zM158.8 229.4h1.9v1.9h-1.9zM159.5 239.2h1.9v1.9h-1.9zM159.8 228.9h1.9v1.9h-1.9zM160.2 232.5h1.9v1.9h-1.9zM160.3 229.9h1.9v1.9h-1.9zM160.5 224.0h1.9v1.9h-1.9zM161.4 237.1h1.9v1.9h-1.9zM161.9 226.3h1.9v1.9h-1.9zM162.2 236.3h1.9v1.9h-1.9zM162.5 231.4h1.9v1.9h-1.9zM162.9 224.4h1.9v1.9h-1.9zM164.1 230.9h1.9v1.9h-1.9zM164.4 239.4h1.9v1.9h-1.9zM164.9 231.7h1.9v1.9h-1.9zM164.7 227.7h1.9v1.9h-1.9zM165.4 238.7h1.9v1.9h-1.9zM165.7 230.8h1.9v1.9h-1.9zM165.8 233.4h1.9v1.9h-1.9zM166.6 229.4h1.9v1.9h-1.9zM166.8 234.0h1.9v1.9h-1.9zM167.0 235.2h1.9v1.9h-1.9zM167.8 230.3h1.9v1.9h-1.9zM168.1 238.0h1.9v1.9h-1.9zM168.6 235.3h1.9v1.9h-1.9zM169.3 231.9h1.9v1.9h-1.9zM169.3 227.8h1.9v1.9h-1.9zM169.6 229.9h1.9v1.9h-1.9zM169.8 226.1h1.9v1.9h-1.9zM171.0 239.5h1.9v1.9h-1.9zM170.9 230.1h1.9v1.9h-1.9zM171.4 233.7h1.9v1.9h-1.9zM171.5 234.2h1.9v1.9h-1.9zM172.4 242.4h1.9v1.9h-1.9zM172.8 239.3h1.9v1.9h-1.9zM173.5 241.8h1.9v1.9h-1.9zM173.8 237.7h1.9v1.9h-1.9zM174.3 232.8h1.9v1.9h-1.9zM174.2 236.1h1.9v1.9h-1.9zM175.1 235.1h1.9v1.9h-1.9zM175.1 236.5h1.9v1.9h-1.9zM175.7 237.0h1.9v1.9h-1.9zM176.4 240.7h1.9v1.9h-1.9zM176.3 230.8h1.9v1.9h-1.9zM176.7 238.0h1.9v1.9h-1.9zM177.0 232.0h1.9v1.9h-1.9zM178.0 231.2h1.9v1.9h-1.9zM178.2 241.1h1.9v1.9h-1.9zM178.6 236.1h1.9v1.9h-1.9zM179.1 238.8h1.9v1.9h-1.9zM179.3 232.7h1.9v1.9h-1.9zM179.8 235.7h1.9v1.9h-1.9zM180.5 235.6h1.9v1.9h-1.9zM180.2 235.5h1.9v1.9h-1.9zM181.5 239.5h1.9v1.9h-1.9zM181.7 235.3h1.9v1.9h-1.9zM181.8 232.8h1.9v1.9h-1.9zM182.3 238.0h1.9v1.9h-1.9zM182.9 242.9h1.9v1.9h-1.9zM183.8 228.2h1.9v1.9h-1.9zM183.3 241.4h1.9v1.9h-1.9zM184.1 236.2h1.9v1.9h-1.9zM184.5 236.6h1.9v1.9h-1.9zM185.0 230.4h1.9v1.9h-1.9zM185.3 231.9h1.9v1.9h-1.9zM185.9 235.4h1.9v1.9h-1.9zM186.1 237.0h1.9v1.9h-1.9zM186.5 238.8h1.9v1.9h-1.9zM186.9 231.1h1.9v1.9h-1.9zM187.7 232.2h1.9v1.9h-1.9zM187.9 237.4h1.9v1.9h-1.9zM188.2 234.8h1.9v1.9h-1.9zM188.7 229.7h1.9v1.9h-1.9zM189.1 235.7h1.9v1.9h-1.9zM189.3 229.4h1.9v1.9h-1.9zM189.7 227.1h1.9v1.9h-1.9zM190.6 229.8h1.9v1.9h-1.9zM190.8 234.0h1.9v1.9h-1.9zM191.4 233.5h1.9v1.9h-1.9zM191.6 235.8h1.9v1.9h-1.9zM192.1 224.2h1.9v1.9h-1.9zM192.7 241.7h1.9v1.9h-1.9zM193.6 239.4h1.9v1.9h-1.9zM193.4 241.9h1.9v1.9h-1.9zM193.8 237.1h1.9v1.9h-1.9zM194.4 236.7h1.9v1.9h-1.9zM194.6 235.9h1.9v1.9h-1.9zM195.3 227.7h1.9v1.9h-1.9zM195.4 229.8h1.9v1.9h-1.9zM196.3 234.3h1.9v1.9h-1.9zM195.8 239.7h1.9v1.9h-1.9zM196.9 236.9h1.9v1.9h-1.9zM197.0 240.3h1.9v1.9h-1.9zM197.2 231.3h1.9v1.9h-1.9zM197.4 243.9h1.9v1.9h-1.9zM198.4 227.4h1.9v1.9h-1.9zM199.3 234.0h1.9v1.9h-1.9zM199.2 236.9h1.9v1.9h-1.9zM199.7 229.7h1.9v1.9h-1.9zM200.1 234.6h1.9v1.9h-1.9zM200.4 231.8h1.9v1.9h-1.9zM201.1 237.0h1.9v1.9h-1.9zM201.2 234.8h1.9v1.9h-1.9zM202.4 236.0h1.9v1.9h-1.9zM202.0 232.4h1.9v1.9h-1.9zM202.5 233.2h1.9v1.9h-1.9zM202.8 233.5h1.9v1.9h-1.9zM203.1 230.3h1.9v1.9h-1.9zM204.2 230.7h1.9v1.9h-1.9zM204.3 228.0h1.9v1.9h-1.9zM204.2 236.8h1.9v1.9h-1.9zM205.1 231.2h1.9v1.9h-1.9zM205.5 238.5h1.9v1.9h-1.9zM206.0 238.0h1.9v1.9h-1.9zM206.5 231.4h1.9v1.9h-1.9zM206.9 234.3h1.9v1.9h-1.9zM207.0 237.7h1.9v1.9h-1.9zM207.4 239.2h1.9v1.9h-1.9zM207.8 228.7h1.9v1.9h-1.9zM208.7 229.9h1.9v1.9h-1.9zM209.1 239.0h1.9v1.9h-1.9zM209.2 233.3h1.9v1.9h-1.9zM210.0 233.8h1.9v1.9h-1.9zM210.1 239.7h1.9v1.9h-1.9zM210.8 235.5h1.9v1.9h-1.9zM210.6 235.6h1.9v1.9h-1.9zM211.8 234.0h1.9v1.9h-1.9zM212.1 241.3h1.9v1.9h-1.9zM212.1 228.5h1.9v1.9h-1.9zM213.1 231.8h1.9v1.9h-1.9zM213.4 237.0h1.9v1.9h-1.9zM213.9 236.5h1.9v1.9h-1.9zM214.5 225.0h1.9v1.9h-1.9zM214.7 236.5h1.9v1.9h-1.9zM215.3 236.5h1.9v1.9h-1.9zM215.6 231.9h1.9v1.9h-1.9zM215.9 244.9h1.9v1.9h-1.9zM216.5 238.4h1.9v1.9h-1.9zM216.9 213.9h1.9v1.9h-1.9zM217.2 229.8h1.9v1.9h-1.9zM217.3 234.5h1.9v1.9h-1.9zM218.2 232.9h1.9v1.9h-1.9zM218.1 239.1h1.9v1.9h-1.9zM219.0 233.7h1.9v1.9h-1.9zM219.4 236.2h1.9v1.9h-1.9zM219.7 239.9h1.9v1.9h-1.9zM220.0 238.5h1.9v1.9h-1.9zM220.7 240.9h1.9v1.9h-1.9zM220.8 236.9h1.9v1.9h-1.9zM221.5 243.1h1.9v1.9h-1.9zM221.8 239.6h1.9v1.9h-1.9zM222.5 238.0h1.9v1.9h-1.9zM222.7 234.4h1.9v1.9h-1.9zM223.1 240.1h1.9v1.9h-1.9zM223.5 239.5h1.9v1.9h-1.9zM224.3 235.5h1.9v1.9h-1.9zM224.1 238.2h1.9v1.9h-1.9zM224.9 236.7h1.9v1.9h-1.9zM225.2 247.3h1.9v1.9h-1.9zM226.1 240.3h1.9v1.9h-1.9zM226.0 227.5h1.9v1.9h-1.9zM226.2 231.8h1.9v1.9h-1.9zM226.9 225.9h1.9v1.9h-1.9zM227.1 243.6h1.9v1.9h-1.9zM227.7 227.1h1.9v1.9h-1.9zM228.0 236.2h1.9v1.9h-1.9zM228.2 225.8h1.9v1.9h-1.9zM229.2 223.8h1.9v1.9h-1.9zM229.2 237.1h1.9v1.9h-1.9zM230.4 240.2h1.9v1.9h-1.9zM230.5 236.6h1.9v1.9h-1.9zM231.0 244.1h1.9v1.9h-1.9zM230.5 234.8h1.9v1.9h-1.9zM231.7 241.0h1.9v1.9h-1.9zM232.3 230.8h1.9v1.9h-1.9zM232.1 234.0h1.9v1.9h-1.9zM232.7 236.6h1.9v1.9h-1.9zM233.6 234.9h1.9v1.9h-1.9zM234.1 233.1h1.9v1.9h-1.9zM233.8 234.8h1.9v1.9h-1.9zM234.6 234.2h1.9v1.9h-1.9zM235.2 234.8h1.9v1.9h-1.9zM235.6 232.6h1.9v1.9h-1.9zM235.8 237.8h1.9v1.9h-1.9zM236.8 241.9h1.9v1.9h-1.9zM236.8 236.2h1.9v1.9h-1.9zM237.0 237.2h1.9v1.9h-1.9zM237.7 241.6h1.9v1.9h-1.9zM237.5 233.5h1.9v1.9h-1.9zM238.1 232.5h1.9v1.9h-1.9zM238.8 234.0h1.9v1.9h-1.9zM239.4 239.3h1.9v1.9h-1.9zM239.1 236.9h1.9v1.9h-1.9zM239.5 234.5h1.9v1.9h-1.9zM240.5 243.2h1.9v1.9h-1.9zM241.5 238.5h1.9v1.9h-1.9zM241.7 236.2h1.9v1.9h-1.9zM241.4 232.6h1.9v1.9h-1.9zM242.1 233.3h1.9v1.9h-1.9zM243.0 229.5h1.9v1.9h-1.9zM243.1 233.0h1.9v1.9h-1.9zM243.1 247.6h1.9v1.9h-1.9zM244.0 231.8h1.9v1.9h-1.9zM243.9 226.8h1.9v1.9h-1.9zM244.6 229.7h1.9v1.9h-1.9zM245.0 244.8h1.9v1.9h-1.9zM245.1 241.4h1.9v1.9h-1.9zM245.4 236.4h1.9v1.9h-1.9zM246.1 240.2h1.9v1.9h-1.9zM246.7 237.8h1.9v1.9h-1.9zM247.4 239.9h1.9v1.9h-1.9zM247.0 240.2h1.9v1.9h-1.9zM247.8 228.2h1.9v1.9h-1.9zM248.0 233.4h1.9v1.9h-1.9zM248.6 235.2h1.9v1.9h-1.9zM249.5 238.5h1.9v1.9h-1.9zM249.3 226.7h1.9v1.9h-1.9zM250.0 239.0h1.9v1.9h-1.9zM250.0 239.8h1.9v1.9h-1.9zM250.7 238.0h1.9v1.9h-1.9zM251.4 229.1h1.9v1.9h-1.9zM251.9 237.9h1.9v1.9h-1.9zM252.7 238.8h1.9v1.9h-1.9zM252.5 236.8h1.9v1.9h-1.9zM253.4 236.0h1.9v1.9h-1.9zM253.9 243.3h1.9v1.9h-1.9zM253.7 234.9h1.9v1.9h-1.9zM254.5 242.4h1.9v1.9h-1.9zM255.2 244.3h1.9v1.9h-1.9zM254.6 238.2h1.9v1.9h-1.9zM255.5 235.5h1.9v1.9h-1.9zM255.8 236.1h1.9v1.9h-1.9zM256.9 241.5h1.9v1.9h-1.9zM256.4 235.8h1.9v1.9h-1.9zM257.2 232.0h1.9v1.9h-1.9zM257.8 231.6h1.9v1.9h-1.9zM257.8 232.5h1.9v1.9h-1.9zM258.5 243.1h1.9v1.9h-1.9zM259.0 236.5h1.9v1.9h-1.9zM259.1 234.1h1.9v1.9h-1.9zM260.4 246.7h1.9v1.9h-1.9zM260.5 237.1h1.9v1.9h-1.9zM260.3 234.7h1.9v1.9h-1.9zM261.0 231.7h1.9v1.9h-1.9zM261.5 234.3h1.9v1.9h-1.9zM261.7 235.6h1.9v1.9h-1.9zM262.1 227.3h1.9v1.9h-1.9zM262.9 239.6h1.9v1.9h-1.9zM263.1 238.2h1.9v1.9h-1.9zM263.4 241.4h1.9v1.9h-1.9zM264.1 239.4h1.9v1.9h-1.9zM264.4 238.4h1.9v1.9h-1.9zM264.6 241.4h1.9v1.9h-1.9zM265.3 233.4h1.9v1.9h-1.9zM265.5 243.2h1.9v1.9h-1.9zM266.0 235.4h1.9v1.9h-1.9zM266.1 235.5h1.9v1.9h-1.9zM266.8 238.3h1.9v1.9h-1.9zM267.7 232.7h1.9v1.9h-1.9zM267.9 232.0h1.9v1.9h-1.9zM269.0 228.8h1.9v1.9h-1.9zM269.4 238.3h1.9v1.9h-1.9zM269.6 228.6h1.9v1.9h-1.9zM269.9 241.5h1.9v1.9h-1.9zM270.0 238.3h1.9v1.9h-1.9zM270.6 236.2h1.9v1.9h-1.9zM271.2 237.2h1.9v1.9h-1.9zM271.8 231.4h1.9v1.9h-1.9zM271.9 239.6h1.9v1.9h-1.9zM272.5 241.5h1.9v1.9h-1.9zM272.3 232.4h1.9v1.9h-1.9zM273.1 229.2h1.9v1.9h-1.9zM273.6 239.1h1.9v1.9h-1.9zM274.1 234.7h1.9v1.9h-1.9zM274.2 240.8h1.9v1.9h-1.9zM274.7 239.0h1.9v1.9h-1.9zM275.5 227.1h1.9v1.9h-1.9zM275.5 237.6h1.9v1.9h-1.9zM275.9 240.8h1.9v1.9h-1.9zM276.9 239.3h1.9v1.9h-1.9zM277.3 231.7h1.9v1.9h-1.9zM277.0 244.9h1.9v1.9h-1.9zM277.8 236.0h1.9v1.9h-1.9zM278.3 239.8h1.9v1.9h-1.9zM278.3 234.3h1.9v1.9h-1.9zM279.1 233.1h1.9v1.9h-1.9zM279.5 250.2h1.9v1.9h-1.9zM280.0 245.4h1.9v1.9h-1.9zM280.4 243.4h1.9v1.9h-1.9zM280.7 237.6h1.9v1.9h-1.9zM281.1 236.6h1.9v1.9h-1.9zM281.8 241.7h1.9v1.9h-1.9zM281.6 235.5h1.9v1.9h-1.9zM282.6 236.5h1.9v1.9h-1.9zM282.8 234.1h1.9v1.9h-1.9zM282.7 232.4h1.9v1.9h-1.9zM283.4 235.5h1.9v1.9h-1.9zM283.9 235.2h1.9v1.9h-1.9zM284.6 250.6h1.9v1.9h-1.9zM285.1 242.7h1.9v1.9h-1.9zM285.1 237.0h1.9v1.9h-1.9zM285.7 237.3h1.9v1.9h-1.9zM286.6 244.3h1.9v1.9h-1.9zM286.8 244.0h1.9v1.9h-1.9zM287.1 226.8h1.9v1.9h-1.9zM288.1 241.3h1.9v1.9h-1.9zM287.7 238.4h1.9v1.9h-1.9zM288.1 244.5h1.9v1.9h-1.9zM288.9 242.5h1.9v1.9h-1.9zM288.8 240.2h1.9v1.9h-1.9zM289.3 245.1h1.9v1.9h-1.9zM290.4 248.3h1.9v1.9h-1.9zM290.2 242.7h1.9v1.9h-1.9zM290.6 242.1h1.9v1.9h-1.9zM291.6 234.6h1.9v1.9h-1.9zM291.7 240.4h1.9v1.9h-1.9zM291.9 240.2h1.9v1.9h-1.9zM292.5 245.1h1.9v1.9h-1.9zM292.7 233.7h1.9v1.9h-1.9zM293.0 237.6h1.9v1.9h-1.9zM294.0 238.9h1.9v1.9h-1.9zM294.2 237.5h1.9v1.9h-1.9zM294.1 234.9h1.9v1.9h-1.9zM294.6 242.5h1.9v1.9h-1.9zM295.3 237.1h1.9v1.9h-1.9zM295.6 239.7h1.9v1.9h-1.9zM296.1 240.5h1.9v1.9h-1.9zM296.5 236.1h1.9v1.9h-1.9zM296.9 243.3h1.9v1.9h-1.9zM297.6 248.4h1.9v1.9h-1.9zM298.3 249.5h1.9v1.9h-1.9zM297.9 246.2h1.9v1.9h-1.9zM298.6 246.3h1.9v1.9h-1.9zM299.5 245.7h1.9v1.9h-1.9zM299.3 237.7h1.9v1.9h-1.9zM299.8 238.4h1.9v1.9h-1.9zM300.5 240.9h1.9v1.9h-1.9zM300.4 245.8h1.9v1.9h-1.9zM301.5 238.9h1.9v1.9h-1.9zM301.7 250.2h1.9v1.9h-1.9zM302.5 243.1h1.9v1.9h-1.9zM302.5 242.2h1.9v1.9h-1.9zM303.1 240.5h1.9v1.9h-1.9zM303.5 234.5h1.9v1.9h-1.9zM303.8 249.2h1.9v1.9h-1.9zM304.2 241.2h1.9v1.9h-1.9zM304.5 235.5h1.9v1.9h-1.9zM304.8 239.1h1.9v1.9h-1.9zM305.4 239.2h1.9v1.9h-1.9zM306.1 243.4h1.9v1.9h-1.9zM305.9 238.6h1.9v1.9h-1.9zM306.5 237.5h1.9v1.9h-1.9zM307.1 246.5h1.9v1.9h-1.9zM307.3 244.6h1.9v1.9h-1.9zM308.0 237.0h1.9v1.9h-1.9zM308.5 236.8h1.9v1.9h-1.9zM308.9 241.9h1.9v1.9h-1.9zM308.9 239.6h1.9v1.9h-1.9zM309.7 233.4h1.9v1.9h-1.9zM311.1 247.0h1.9v1.9h-1.9zM311.3 243.3h1.9v1.9h-1.9zM311.6 238.2h1.9v1.9h-1.9zM312.2 246.4h1.9v1.9h-1.9zM312.9 233.5h1.9v1.9h-1.9zM313.2 240.6h1.9v1.9h-1.9zM313.6 245.5h1.9v1.9h-1.9zM314.3 233.0h1.9v1.9h-1.9zM314.2 241.9h1.9v1.9h-1.9zM315.1 241.0h1.9v1.9h-1.9zM315.2 239.7h1.9v1.9h-1.9zM315.9 250.7h1.9v1.9h-1.9zM316.3 239.5h1.9v1.9h-1.9zM316.2 240.8h1.9v1.9h-1.9zM316.4 238.2h1.9v1.9h-1.9zM317.5 252.8h1.9v1.9h-1.9zM317.7 239.7h1.9v1.9h-1.9zM318.2 246.4h1.9v1.9h-1.9zM318.3 238.4h1.9v1.9h-1.9zM318.6 238.5h1.9v1.9h-1.9zM318.8 248.6h1.9v1.9h-1.9zM319.8 236.6h1.9v1.9h-1.9zM320.3 246.0h1.9v1.9h-1.9zM321.0 240.2h1.9v1.9h-1.9zM321.0 242.8h1.9v1.9h-1.9zM321.5 239.8h1.9v1.9h-1.9zM321.9 241.2h1.9v1.9h-1.9zM322.2 240.7h1.9v1.9h-1.9zM323.1 246.5h1.9v1.9h-1.9zM323.2 236.5h1.9v1.9h-1.9zM323.7 245.0h1.9v1.9h-1.9zM323.9 245.7h1.9v1.9h-1.9zM324.4 241.4h1.9v1.9h-1.9zM324.5 242.9h1.9v1.9h-1.9zM325.5 238.0h1.9v1.9h-1.9zM326.2 230.7h1.9v1.9h-1.9zM326.1 244.6h1.9v1.9h-1.9zM326.4 245.5h1.9v1.9h-1.9zM326.9 238.4h1.9v1.9h-1.9zM327.2 245.4h1.9v1.9h-1.9zM327.9 248.1h1.9v1.9h-1.9zM328.1 239.1h1.9v1.9h-1.9zM328.9 239.1h1.9v1.9h-1.9zM329.0 250.0h1.9v1.9h-1.9zM329.9 248.3h1.9v1.9h-1.9zM329.7 236.5h1.9v1.9h-1.9zM330.5 247.1h1.9v1.9h-1.9zM330.4 240.8h1.9v1.9h-1.9zM330.5 241.0h1.9v1.9h-1.9zM331.5 236.9h1.9v1.9h-1.9zM331.6 243.1h1.9v1.9h-1.9zM332.6 243.5h1.9v1.9h-1.9zM332.6 239.9h1.9v1.9h-1.9zM333.3 243.4h1.9v1.9h-1.9zM333.4 238.2h1.9v1.9h-1.9zM334.1 241.6h1.9v1.9h-1.9zM334.5 245.0h1.9v1.9h-1.9zM335.2 245.4h1.9v1.9h-1.9zM335.4 244.3h1.9v1.9h-1.9zM335.3 252.8h1.9v1.9h-1.9zM335.6 243.7h1.9v1.9h-1.9zM336.4 238.7h1.9v1.9h-1.9zM337.2 243.0h1.9v1.9h-1.9zM337.3 245.8h1.9v1.9h-1.9zM338.1 242.5h1.9v1.9h-1.9zM338.2 244.7h1.9v1.9h-1.9zM338.6 248.8h1.9v1.9h-1.9zM339.1 238.1h1.9v1.9h-1.9zM339.5 245.3h1.9v1.9h-1.9zM339.9 244.3h1.9v1.9h-1.9zM340.5 240.3h1.9v1.9h-1.9zM340.6 250.1h1.9v1.9h-1.9zM341.1 244.6h1.9v1.9h-1.9zM341.7 244.3h1.9v1.9h-1.9zM341.8 250.2h1.9v1.9h-1.9zM342.7 244.2h1.9v1.9h-1.9zM342.9 236.9h1.9v1.9h-1.9zM342.8 236.1h1.9v1.9h-1.9zM343.5 239.2h1.9v1.9h-1.9zM344.4 246.3h1.9v1.9h-1.9zM344.6 245.5h1.9v1.9h-1.9zM344.9 234.9h1.9v1.9h-1.9zM345.2 240.6h1.9v1.9h-1.9zM346.1 250.4h1.9v1.9h-1.9zM346.2 246.2h1.9v1.9h-1.9zM346.8 251.4h1.9v1.9h-1.9zM347.2 243.0h1.9v1.9h-1.9zM347.7 239.8h1.9v1.9h-1.9zM347.7 243.4h1.9v1.9h-1.9zM348.3 235.2h1.9v1.9h-1.9zM349.7 247.5h1.9v1.9h-1.9zM349.5 243.6h1.9v1.9h-1.9zM349.8 239.4h1.9v1.9h-1.9zM350.7 242.5h1.9v1.9h-1.9zM351.4 243.0h1.9v1.9h-1.9zM351.8 247.1h1.9v1.9h-1.9zM352.0 249.1h1.9v1.9h-1.9zM352.7 244.0h1.9v1.9h-1.9zM353.2 242.3h1.9v1.9h-1.9zM353.5 245.0h1.9v1.9h-1.9zM353.8 238.8h1.9v1.9h-1.9zM354.3 242.4h1.9v1.9h-1.9zM355.0 250.7h1.9v1.9h-1.9zM355.2 240.1h1.9v1.9h-1.9zM355.5 243.8h1.9v1.9h-1.9zM356.2 240.8h1.9v1.9h-1.9zM356.3 236.8h1.9v1.9h-1.9zM356.4 246.4h1.9v1.9h-1.9zM357.5 247.1h1.9v1.9h-1.9zM357.8 244.8h1.9v1.9h-1.9zM358.3 247.4h1.9v1.9h-1.9zM358.3 244.5h1.9v1.9h-1.9zM359.0 242.2h1.9v1.9h-1.9zM359.2 238.9h1.9v1.9h-1.9zM359.5 239.1h1.9v1.9h-1.9zM360.3 238.6h1.9v1.9h-1.9zM360.8 240.9h1.9v1.9h-1.9zM360.9 241.5h1.9v1.9h-1.9zM361.5 244.8h1.9v1.9h-1.9zM361.3 238.1h1.9v1.9h-1.9zM362.7 248.8h1.9v1.9h-1.9zM362.7 231.2h1.9v1.9h-1.9zM363.0 231.0h1.9v1.9h-1.9zM363.5 250.1h1.9v1.9h-1.9zM363.8 243.8h1.9v1.9h-1.9zM364.0 247.9h1.9v1.9h-1.9zM364.7 248.9h1.9v1.9h-1.9zM365.3 248.9h1.9v1.9h-1.9zM365.4 247.5h1.9v1.9h-1.9zM366.2 240.1h1.9v1.9h-1.9zM366.6 245.8h1.9v1.9h-1.9zM366.9 244.1h1.9v1.9h-1.9zM367.0 249.3h1.9v1.9h-1.9zM367.6 241.1h1.9v1.9h-1.9zM368.2 244.1h1.9v1.9h-1.9zM368.9 252.2h1.9v1.9h-1.9zM368.9 249.0h1.9v1.9h-1.9zM369.2 244.1h1.9v1.9h-1.9zM369.9 242.6h1.9v1.9h-1.9zM370.1 238.6h1.9v1.9h-1.9zM370.6 244.6h1.9v1.9h-1.9zM371.0 249.3h1.9v1.9h-1.9zM371.6 245.1h1.9v1.9h-1.9zM371.9 250.2h1.9v1.9h-1.9zM373.3 243.1h1.9v1.9h-1.9zM373.1 242.0h1.9v1.9h-1.9zM374.0 250.1h1.9v1.9h-1.9zM374.4 246.8h1.9v1.9h-1.9zM374.2 250.5h1.9v1.9h-1.9zM375.2 248.3h1.9v1.9h-1.9zM374.9 252.0h1.9v1.9h-1.9zM375.7 251.6h1.9v1.9h-1.9zM376.8 243.5h1.9v1.9h-1.9zM377.1 248.0h1.9v1.9h-1.9zM377.5 245.2h1.9v1.9h-1.9zM377.9 246.0h1.9v1.9h-1.9zM378.6 239.7h1.9v1.9h-1.9zM379.4 241.1h1.9v1.9h-1.9zM379.5 252.5h1.9v1.9h-1.9zM379.6 249.4h1.9v1.9h-1.9zM380.1 241.4h1.9v1.9h-1.9zM380.9 240.1h1.9v1.9h-1.9zM381.6 248.6h1.9v1.9h-1.9zM381.2 242.4h1.9v1.9h-1.9zM381.5 249.1h1.9v1.9h-1.9zM382.6 242.3h1.9v1.9h-1.9zM382.4 246.3h1.9v1.9h-1.9zM383.0 242.4h1.9v1.9h-1.9zM383.9 244.3h1.9v1.9h-1.9zM383.9 250.2h1.9v1.9h-1.9zM384.3 245.9h1.9v1.9h-1.9zM384.7 244.0h1.9v1.9h-1.9zM385.0 248.2h1.9v1.9h-1.9zM385.5 236.1h1.9v1.9h-1.9zM386.1 247.1h1.9v1.9h-1.9zM386.8 247.8h1.9v1.9h-1.9zM386.4 244.7h1.9v1.9h-1.9zM387.4 235.7h1.9v1.9h-1.9zM387.4 239.4h1.9v1.9h-1.9zM388.4 237.9h1.9v1.9h-1.9zM388.4 235.9h1.9v1.9h-1.9zM389.3 252.7h1.9v1.9h-1.9zM389.3 252.9h1.9v1.9h-1.9zM390.1 244.0h1.9v1.9h-1.9zM390.4 245.9h1.9v1.9h-1.9zM390.3 243.7h1.9v1.9h-1.9zM391.0 248.1h1.9v1.9h-1.9zM391.5 242.3h1.9v1.9h-1.9zM392.3 234.3h1.9v1.9h-1.9zM392.8 240.9h1.9v1.9h-1.9zM392.6 243.9h1.9v1.9h-1.9zM393.4 244.1h1.9v1.9h-1.9zM393.9 237.9h1.9v1.9h-1.9zM98.7 85.9h1.9v1.9h-1.9zM75.4 91.1h1.9v1.9h-1.9zM72.1 153.0h1.9v1.9h-1.9zM77.8 172.4h1.9v1.9h-1.9zM74.5 100.9h1.9v1.9h-1.9zM93.4 90.7h1.9v1.9h-1.9zM85.5 90.8h1.9v1.9h-1.9zM103.4 200.0h1.9v1.9h-1.9z"/>
<path fill="#e3655f" d="M72.4 144.4h1.9v1.9h-1.9zM72.9 217.8h1.9v1.9h-1.9zM73.1 203.7h1.9v1.9h-1.9zM73.5 161.2h1.9v1.9h-1.9zM73.7 129.0h1.9v1.9h-1.9zM74.5 56.7h1.9v1.9h-1.9zM74.9 203.7h1.9v1.9h-1.9zM75.3 178.7h1.9v1.9h-1.9zM75.7 147.2h1.9v1.9h-1.9zM76.3 128.5h1.9v1.9h-1.9zM76.9 139.2h1.9v1.9h-1.9zM77.2 136.9h1.9v1.9h-1.9zM77.8 222.2h1.9v1.9h-1.9zM77.8 153.2h1.9v1.9h-1.9zM77.7 136.8h1.9v1.9h-1.9zM78.5 175.0h1.9v1.9h-1.9zM79.2 152.1h1.9v1.9h-1.9zM79.3 139.8h1.9v1.9h-1.9zM79.9 144.4h1.9v1.9h-1.9zM80.2 185.7h1.9v1.9h-1.9zM80.7 152.6h1.9v1.9h-1.9zM81.0 157.0h1.9v1.9h-1.9zM81.7 160.9h1.9v1.9h-1.9zM81.9 152.7h1.9v1.9h-1.9zM82.5 143.1h1.9v1.9h-1.9zM83.2 154.0h1.9v1.9h-1.9zM83.5 195.2h1.9v1.9h-1.9zM83.8 174.9h1.9v1.9h-1.9zM84.7 201.2h1.9v1.9h-1.9zM85.3 243.4h1.9v1.9h-1.9zM85.8 209.3h1.9v1.9h-1.9zM85.7 175.2h1.9v1.9h-1.9zM86.6 172.8h1.9v1.9h-1.9zM87.1 169.9h1.9v1.9h-1.9zM87.5 158.6h1.9v1.9h-1.9zM87.9 153.0h1.9v1.9h-1.9zM88.5 156.7h1.9v1.9h-1.9zM88.9 177.9h1.9v1.9h-1.9zM89.2 136.0h1.9v1.9h-1.9zM89.4 157.8h1.9v1.9h-1.9zM90.0 236.1h1.9v1.9h-1.9zM90.7 204.7h1.9v1.9h-1.9zM91.7 143.4h1.9v1.9h-1.9zM91.3 177.9h1.9v1.9h-1.9zM91.8 207.3h1.9v1.9h-1.9zM92.2 180.3h1.9v1.9h-1.9zM92.0 167.9h1.9v1.9h-1.9zM92.9 208.8h1.9v1.9h-1.9zM93.5 227.0h1.9v1.9h-1.9zM93.8 179.6h1.9v1.9h-1.9zM94.2 173.2h1.9v1.9h-1.9zM94.8 153.9h1.9v1.9h-1.9zM95.3 160.8h1.9v1.9h-1.9zM95.7 239.2h1.9v1.9h-1.9zM95.9 150.4h1.9v1.9h-1.9zM96.3 199.7h1.9v1.9h-1.9zM96.8 177.2h1.9v1.9h-1.9zM97.4 204.3h1.9v1.9h-1.9zM97.5 218.6h1.9v1.9h-1.9zM98.3 190.0h1.9v1.9h-1.9zM98.5 210.1h1.9v1.9h-1.9zM99.4 189.5h1.9v1.9h-1.9zM99.9 225.1h1.9v1.9h-1.9zM100.1 186.9h1.9v1.9h-1.9zM100.8 86.7h1.9v1.9h-1.9zM101.2 200.6h1.9v1.9h-1.9zM101.9 199.1h1.9v1.9h-1.9zM101.9 213.7h1.9v1.9h-1.9zM102.2 205.7h1.9v1.9h-1.9zM102.6 220.7h1.9v1.9h-1.9zM103.0 213.5h1.9v1.9h-1.9zM103.7 191.1h1.9v1.9h-1.9zM103.7 226.9h1.9v1.9h-1.9zM104.7 207.3h1.9v1.9h-1.9zM104.3 130.1h1.9v1.9h-1.9zM105.3 214.4h1.9v1.9h-1.9zM105.4 216.6h1.9v1.9h-1.9zM106.0 208.4h1.9v1.9h-1.9zM106.7 203.4h1.9v1.9h-1.9zM106.7 195.6h1.9v1.9h-1.9zM107.6 190.5h1.9v1.9h-1.9zM108.0 212.3h1.9v1.9h-1.9zM108.5 189.6h1.9v1.9h-1.9zM108.2 229.7h1.9v1.9h-1.9zM108.7 205.7h1.9v1.9h-1.9zM108.8 203.8h1.9v1.9h-1.9zM109.7 198.2h1.9v1.9h-1.9zM110.2 205.0h1.9v1.9h-1.9zM110.2 194.3h1.9v1.9h-1.9zM111.2 191.4h1.9v1.9h-1.9zM111.0 216.8h1.9v1.9h-1.9zM111.6 202.9h1.9v1.9h-1.9zM112.5 177.7h1.9v1.9h-1.9zM112.5 182.1h1.9v1.9h-1.9zM113.2 181.0h1.9v1.9h-1.9zM112.9 187.8h1.9v1.9h-1.9zM113.9 205.6h1.9v1.9h-1.9zM114.0 168.6h1.9v1.9h-1.9zM115.0 189.5h1.9v1.9h-1.9zM115.2 179.1h1.9v1.9h-1.9zM115.7 202.7h1.9v1.9h-1.9zM116.2 180.9h1.9v1.9h-1.9zM116.6 185.6h1.9v1.9h-1.9zM116.5 179.4h1.9v1.9h-1.9zM117.3 180.0h1.9v1.9h-1.9zM117.9 185.8h1.9v1.9h-1.9zM118.3 186.7h1.9v1.9h-1.9zM118.3 178.6h1.9v1.9h-1.9zM119.3 180.7h1.9v1.9h-1.9zM119.7 175.9h1.9v1.9h-1.9zM119.9 184.7h1.9v1.9h-1.9zM120.3 174.6h1.9v1.9h-1.9zM120.5 170.7h1.9v1.9h-1.9zM121.0 168.3h1.9v1.9h-1.9zM121.7 170.0h1.9v1.9h-1.9zM122.1 170.1h1.9v1.9h-1.9zM122.8 170.1h1.9v1.9h-1.9zM123.2 166.7h1.9v1.9h-1.9zM123.0 162.7h1.9v1.9h-1.9zM123.4 170.9h1.9v1.9h-1.9zM123.8 171.1h1.9v1.9h-1.9zM125.1 169.9h1.9v1.9h-1.9zM124.8 171.1h1.9v1.9h-1.9zM125.3 157.6h1.9v1.9h-1.9zM125.4 169.4h1.9v1.9h-1.9zM126.4 160.2h1.9v1.9h-1.9zM126.5 161.8h1.9v1.9h-1.9zM127.2 161.8h1.9v1.9h-1.9zM126.8 158.7h1.9v1.9h-1.9zM127.3 161.2h1.9v1.9h-1.9zM128.1 165.1h1.9v1.9h-1.9zM128.7 153.6h1.9v1.9h-1.9zM128.9 160.7h1.9v1.9h-1.9zM129.7 161.1h1.9v1.9h-1.9zM129.6 151.5h1.9v1.9h-1.9zM130.1 161.6h1.9v1.9h-1.9zM131.3 158.8h1.9v1.9h-1.9zM131.4 170.3h1.9v1.9h-1.9zM131.5 149.0h1.9v1.9h-1.9zM131.8 154.5h1.9v1.9h-1.9zM132.6 151.7h1.9v1.9h-1.9zM132.9 153.2h1.9v1.9h-1.9zM132.9 151.6h1.9v1.9h-1.9zM133.8 156.1h1.9v1.9h-1.9zM134.6 155.2h1.9v1.9h-1.9zM134.3 154.1h1.9v1.9h-1.9zM135.2 155.7h1.9v1.9h-1.9zM135.0 156.1h1.9v1.9h-1.9zM135.7 150.5h1.9v1.9h-1.9zM136.2 148.2h1.9v1.9h-1.9zM136.8 146.2h1.9v1.9h-1.9zM137.2 148.2h1.9v1.9h-1.9zM137.5 152.1h1.9v1.9h-1.9zM137.9 157.0h1.9v1.9h-1.9zM138.4 155.1h1.9v1.9h-1.9zM138.7 151.7h1.9v1.9h-1.9zM139.2 151.4h1.9v1.9h-1.9zM139.6 153.2h1.9v1.9h-1.9zM139.9 159.2h1.9v1.9h-1.9zM140.4 155.3h1.9v1.9h-1.9zM140.5 153.0h1.9v1.9h-1.9zM141.6 134.7h1.9v1.9h-1.9zM141.6 151.0h1.9v1.9h-1.9zM142.1 155.4h1.9v1.9h-1.9zM142.6 154.1h1.9v1.9h-1.9zM143.1 154.2h1.9v1.9h-1.9zM143.5 154.8h1.9v1.9h-1.9zM143.7 153.6h1.9v1.9h-1.9zM144.6 153.8h1.9v1.9h-1.9zM144.7 153.8h1.9v1.9h-1.9zM144.8 157.8h1.9v1.9h-1.9zM145.1 162.9h1.9v1.9h-1.9zM145.9 149.9h1.9v1.9h-1.9zM145.9 158.4h1.9v1.9h-1.9zM146.7 157.4h1.9v1.9h-1.9zM147.1 155.1h1.9v1.9h-1.9zM147.2 153.1h1.9v1.9h-1.9zM147.7 160.8h1.9v1.9h-1.9zM147.9 158.3h1.9v1.9h-1.9zM148.4 157.3h1.9v1.9h-1.9zM149.2 157.5h1.9v1.9h-1.9zM149.5 149.7h1.9v1.9h-1.9zM150.2 159.6h1.9v1.9h-1.9zM150.7 163.1h1.9v1.9h-1.9zM151.7 155.8h1.9v1.9h-1.9zM151.5 167.9h1.9v1.9h-1.9zM152.2 163.7h1.9v1.9h-1.9zM152.7 159.2h1.9v1.9h-1.9zM152.2 144.2h1.9v1.9h-1.9zM152.9 159.1h1.9v1.9h-1.9zM153.4 162.5h1.9v1.9h-1.9zM153.5 158.1h1.9v1.9h-1.9zM154.5 165.3h1.9v1.9h-1.9zM155.0 161.9h1.9v1.9h-1.9zM155.2 164.4h1.9v1.9h-1.9zM155.4 154.0h1.9v1.9h-1.9zM155.9 160.0h1.9v1.9h-1.9zM156.9 173.0h1.9v1.9h-1.9zM156.6 171.3h1.9v1.9h-1.9zM157.3 171.7h1.9v1.9h-1.9zM157.6 166.5h1.9v1.9h-1.9zM158.0 164.5h1.9v1.9h-1.9zM158.5 175.2h1.9v1.9h-1.9zM159.2 169.7h1.9v1.9h-1.9zM159.2 171.0h1.9v1.9h-1.9zM159.6 174.5h1.9v1.9h-1.9zM160.1 163.4h1.9v1.9h-1.9zM160.6 172.1h1.9v1.9h-1.9zM161.0 167.2h1.9v1.9h-1.9zM161.1 168.4h1.9v1.9h-1.9zM161.8 171.9h1.9v1.9h-1.9zM162.6 172.1h1.9v1.9h-1.9zM163.2 173.6h1.9v1.9h-1.9zM163.3 176.2h1.9v1.9h-1.9zM163.7 180.7h1.9v1.9h-1.9zM163.8 178.7h1.9v1.9h-1.9zM164.4 175.9h1.9v1.9h-1.9zM164.7 177.9h1.9v1.9h-1.9zM165.4 171.3h1.9v1.9h-1.9zM165.7 174.5h1.9v1.9h-1.9zM165.7 178.5h1.9v1.9h-1.9zM166.2 176.5h1.9v1.9h-1.9zM166.8 177.9h1.9v1.9h-1.9zM166.6 181.0h1.9v1.9h-1.9zM168.0 182.6h1.9v1.9h-1.9zM168.4 178.4h1.9v1.9h-1.9zM168.8 173.4h1.9v1.9h-1.9zM169.2 176.1h1.9v1.9h-1.9zM169.2 181.1h1.9v1.9h-1.9zM169.4 171.7h1.9v1.9h-1.9zM170.3 186.8h1.9v1.9h-1.9zM170.9 178.1h1.9v1.9h-1.9zM171.1 188.2h1.9v1.9h-1.9zM171.7 184.9h1.9v1.9h-1.9zM172.0 183.5h1.9v1.9h-1.9zM172.5 189.7h1.9v1.9h-1.9zM172.4 183.2h1.9v1.9h-1.9zM173.4 185.2h1.9v1.9h-1.9zM173.6 182.1h1.9v1.9h-1.9zM173.4 191.9h1.9v1.9h-1.9zM173.8 186.7h1.9v1.9h-1.9zM174.7 190.9h1.9v1.9h-1.9zM175.3 189.3h1.9v1.9h-1.9zM175.9 186.5h1.9v1.9h-1.9zM176.3 202.3h1.9v1.9h-1.9zM176.6 189.5h1.9v1.9h-1.9zM177.2 195.7h1.9v1.9h-1.9zM177.0 189.7h1.9v1.9h-1.9zM177.9 193.1h1.9v1.9h-1.9zM178.2 187.1h1.9v1.9h-1.9zM178.4 192.0h1.9v1.9h-1.9zM178.9 194.0h1.9v1.9h-1.9zM180.1 189.7h1.9v1.9h-1.9zM180.2 194.4h1.9v1.9h-1.9zM180.0 201.5h1.9v1.9h-1.9zM180.7 192.5h1.9v1.9h-1.9zM180.9 189.2h1.9v1.9h-1.9zM181.6 195.3h1.9v1.9h-1.9zM181.6 194.5h1.9v1.9h-1.9zM182.5 192.9h1.9v1.9h-1.9zM182.7 194.8h1.9v1.9h-1.9zM183.0 192.7h1.9v1.9h-1.9zM184.4 194.2h1.9v1.9h-1.9zM184.1 198.7h1.9v1.9h-1.9zM184.4 196.0h1.9v1.9h-1.9zM185.1 196.7h1.9v1.9h-1.9zM185.4 198.3h1.9v1.9h-1.9zM185.6 193.8h1.9v1.9h-1.9zM186.5 197.6h1.9v1.9h-1.9zM186.8 196.0h1.9v1.9h-1.9zM187.1 202.9h1.9v1.9h-1.9zM187.4 203.9h1.9v1.9h-1.9zM188.0 191.4h1.9v1.9h-1.9zM188.0 199.9h1.9v1.9h-1.9zM189.0 199.4h1.9v1.9h-1.9zM189.1 195.6h1.9v1.9h-1.9zM189.9 204.8h1.9v1.9h-1.9zM190.0 201.9h1.9v1.9h-1.9zM190.5 195.5h1.9v1.9h-1.9zM190.9 196.0h1.9v1.9h-1.9zM190.9 198.0h1.9v1.9h-1.9zM192.0 195.0h1.9v1.9h-1.9zM192.1 198.8h1.9v1.9h-1.9zM192.5 198.8h1.9v1.9h-1.9zM192.5 204.2h1.9v1.9h-1.9zM193.3 192.5h1.9v1.9h-1.9zM193.7 205.7h1.9v1.9h-1.9zM194.6 202.2h1.9v1.9h-1.9zM194.5 200.4h1.9v1.9h-1.9zM194.8 202.4h1.9v1.9h-1.9zM195.4 199.8h1.9v1.9h-1.9zM196.0 203.0h1.9v1.9h-1.9zM196.4 202.8h1.9v1.9h-1.9zM196.9 209.8h1.9v1.9h-1.9zM197.0 203.7h1.9v1.9h-1.9zM197.7 215.1h1.9v1.9h-1.9zM197.8 209.7h1.9v1.9h-1.9zM198.1 203.3h1.9v1.9h-1.9zM199.0 203.0h1.9v1.9h-1.9zM198.8 205.1h1.9v1.9h-1.9zM199.4 207.6h1.9v1.9h-1.9zM199.9 205.9h1.9v1.9h-1.9zM200.2 201.5h1.9v1.9h-1.9zM201.0 207.0h1.9v1.9h-1.9zM201.8 204.7h1.9v1.9h-1.9zM201.8 198.5h1.9v1.9h-1.9zM202.1 205.7h1.9v1.9h-1.9zM202.6 201.2h1.9v1.9h-1.9zM203.3 199.5h1.9v1.9h-1.9zM203.5 193.0h1.9v1.9h-1.9zM203.9 206.5h1.9v1.9h-1.9zM204.7 208.6h1.9v1.9h-1.9zM204.3 206.0h1.9v1.9h-1.9zM205.5 205.5h1.9v1.9h-1.9zM205.2 214.7h1.9v1.9h-1.9zM206.0 205.7h1.9v1.9h-1.9zM205.7 210.2h1.9v1.9h-1.9zM206.6 211.3h1.9v1.9h-1.9zM206.9 211.5h1.9v1.9h-1.9zM207.9 201.4h1.9v1.9h-1.9zM207.9 218.5h1.9v1.9h-1.9zM208.8 212.5h1.9v1.9h-1.9zM208.8 207.4h1.9v1.9h-1.9zM209.1 207.7h1.9v1.9h-1.9zM209.8 205.4h1.9v1.9h-1.9zM210.1 207.0h1.9v1.9h-1.9zM210.6 205.9h1.9v1.9h-1.9zM211.1 204.6h1.9v1.9h-1.9zM211.3 206.1h1.9v1.9h-1.9zM211.9 207.5h1.9v1.9h-1.9zM211.6 200.9h1.9v1.9h-1.9zM213.0 210.0h1.9v1.9h-1.9zM213.1 207.6h1.9v1.9h-1.9zM213.3 206.6h1.9v1.9h-1.9zM214.3 204.9h1.9v1.9h-1.9zM214.4 205.4h1.9v1.9h-1.9zM214.6 204.4h1.9v1.9h-1.9zM215.1 201.9h1.9v1.9h-1.9zM215.7 206.6h1.9v1.9h-1.9zM215.6 203.9h1.9v1.9h-1.9zM216.2 207.6h1.9v1.9h-1.9zM216.7 201.5h1.9v1.9h-1.9zM217.3 210.3h1.9v1.9h-1.9zM217.8 207.5h1.9v1.9h-1.9zM218.3 199.8h1.9v1.9h-1.9zM218.5 208.3h1.9v1.9h-1.9zM218.6 207.1h1.9v1.9h-1.9zM219.4 216.6h1.9v1.9h-1.9zM219.6 202.1h1.9v1.9h-1.9zM220.0 218.6h1.9v1.9h-1.9zM220.1 211.2h1.9v1.9h-1.9zM220.8 208.6h1.9v1.9h-1.9zM221.2 210.2h1.9v1.9h-1.9zM221.6 206.5h1.9v1.9h-1.9zM222.1 216.0h1.9v1.9h-1.9zM223.1 210.9h1.9v1.9h-1.9zM223.2 206.8h1.9v1.9h-1.9zM223.6 208.4h1.9v1.9h-1.9zM223.9 214.0h1.9v1.9h-1.9zM224.6 205.9h1.9v1.9h-1.9zM224.5 209.3h1.9v1.9h-1.9zM225.2 208.8h1.9v1.9h-1.9zM225.8 208.5h1.9v1.9h-1.9zM226.1 208.4h1.9v1.9h-1.9zM226.7 213.6h1.9v1.9h-1.9zM226.7 207.1h1.9v1.9h-1.9zM227.6 206.5h1.9v1.9h-1.9zM227.8 205.3h1.9v1.9h-1.9zM228.0 205.4h1.9v1.9h-1.9zM228.2 202.2h1.9v1.9h-1.9zM229.0 209.9h1.9v1.9h-1.9zM228.9 207.2h1.9v1.9h-1.9zM229.7 207.5h1.9v1.9h-1.9zM230.1 207.7h1.9v1.9h-1.9zM230.8 208.9h1.9v1.9h-1.9zM231.4 210.3h1.9v1.9h-1.9zM231.3 209.5h1.9v1.9h-1.9zM231.8 211.9h1.9v1.9h-1.9zM232.7 212.0h1.9v1.9h-1.9zM232.7 202.7h1.9v1.9h-1.9zM233.5 207.0h1.9v1.9h-1.9zM233.3 208.7h1.9v1.9h-1.9zM234.1 204.8h1.9v1.9h-1.9zM234.5 206.8h1.9v1.9h-1.9zM235.0 208.8h1.9v1.9h-1.9zM235.4 211.2h1.9v1.9h-1.9zM235.8 206.7h1.9v1.9h-1.9zM236.4 205.7h1.9v1.9h-1.9zM236.8 206.0h1.9v1.9h-1.9zM237.1 211.5h1.9v1.9h-1.9zM237.7 205.0h1.9v1.9h-1.9zM237.8 210.9h1.9v1.9h-1.9zM238.4 202.1h1.9v1.9h-1.9zM238.8 211.9h1.9v1.9h-1.9zM239.4 211.5h1.9v1.9h-1.9zM239.7 211.2h1.9v1.9h-1.9zM239.8 209.7h1.9v1.9h-1.9zM240.2 210.4h1.9v1.9h-1.9zM240.8 203.9h1.9v1.9h-1.9zM241.0 210.3h1.9v1.9h-1.9zM241.6 209.3h1.9v1.9h-1.9zM242.3 207.1h1.9v1.9h-1.9zM242.7 215.1h1.9v1.9h-1.9zM242.8 215.3h1.9v1.9h-1.9zM243.4 204.3h1.9v1.9h-1.9zM244.0 210.5h1.9v1.9h-1.9zM244.5 208.8h1.9v1.9h-1.9zM245.0 212.4h1.9v1.9h-1.9zM245.5 209.8h1.9v1.9h-1.9zM245.6 199.1h1.9v1.9h-1.9zM246.2 207.2h1.9v1.9h-1.9zM246.1 209.9h1.9v1.9h-1.9zM246.2 211.2h1.9v1.9h-1.9zM246.7 209.0h1.9v1.9h-1.9zM247.4 207.5h1.9v1.9h-1.9zM248.1 221.1h1.9v1.9h-1.9zM248.6 210.3h1.9v1.9h-1.9zM249.0 204.0h1.9v1.9h-1.9zM249.5 202.5h1.9v1.9h-1.9zM249.4 213.7h1.9v1.9h-1.9zM249.9 210.3h1.9v1.9h-1.9zM250.5 210.3h1.9v1.9h-1.9zM251.1 218.8h1.9v1.9h-1.9zM251.6 211.9h1.9v1.9h-1.9zM251.8 202.7h1.9v1.9h-1.9zM252.2 206.1h1.9v1.9h-1.9zM252.8 208.0h1.9v1.9h-1.9zM253.0 202.4h1.9v1.9h-1.9zM253.8 209.2h1.9v1.9h-1.9zM254.0 202.0h1.9v1.9h-1.9zM253.7 206.1h1.9v1.9h-1.9zM254.8 206.7h1.9v1.9h-1.9zM255.2 207.3h1.9v1.9h-1.9zM256.0 205.9h1.9v1.9h-1.9zM256.0 205.3h1.9v1.9h-1.9zM256.5 213.8h1.9v1.9h-1.9zM256.9 209.7h1.9v1.9h-1.9zM257.1 205.7h1.9v1.9h-1.9zM257.7 214.8h1.9v1.9h-1.9zM258.0 203.6h1.9v1.9h-1.9zM258.6 205.4h1.9v1.9h-1.9zM258.8 211.8h1.9v1.9h-1.9zM259.4 212.4h1.9v1.9h-1.9zM259.7 209.2h1.9v1.9h-1.9zM259.8 205.0h1.9v1.9h-1.9zM260.4 204.3h1.9v1.9h-1.9zM260.8 201.4h1.9v1.9h-1.9zM261.6 196.3h1.9v1.9h-1.9zM261.8 210.5h1.9v1.9h-1.9zM262.3 211.5h1.9v1.9h-1.9zM262.7 214.9h1.9v1.9h-1.9zM262.8 202.3h1.9v1.9h-1.9zM263.6 212.4h1.9v1.9h-1.9zM263.6 206.0h1.9v1.9h-1.9zM264.4 210.2h1.9v1.9h-1.9zM265.0 206.6h1.9v1.9h-1.9zM265.2 213.1h1.9v1.9h-1.9zM265.6 202.2h1.9v1.9h-1.9zM266.1 208.4h1.9v1.9h-1.9zM266.4 205.8h1.9v1.9h-1.9zM267.2 203.8h1.9v1.9h-1.9zM267.1 214.9h1.9v1.9h-1.9zM267.9 213.9h1.9v1.9h-1.9zM268.4 216.4h1.9v1.9h-1.9zM268.1 214.1h1.9v1.9h-1.9zM269.1 208.1h1.9v1.9h-1.9zM269.4 210.0h1.9v1.9h-1.9zM269.9 211.3h1.9v1.9h-1.9zM270.1 210.9h1.9v1.9h-1.9zM271.0 214.1h1.9v1.9h-1.9zM270.9 211.2h1.9v1.9h-1.9zM271.5 210.1h1.9v1.9h-1.9zM271.9 209.2h1.9v1.9h-1.9zM272.6 212.2h1.9v1.9h-1.9zM272.7 210.5h1.9v1.9h-1.9zM273.4 205.0h1.9v1.9h-1.9zM273.4 214.0h1.9v1.9h-1.9zM274.1 211.7h1.9v1.9h-1.9zM274.2 210.8h1.9v1.9h-1.9zM275.1 215.9h1.9v1.9h-1.9zM275.2 208.7h1.9v1.9h-1.9zM275.8 209.4h1.9v1.9h-1.9zM276.3 214.0h1.9v1.9h-1.9zM276.0 202.9h1.9v1.9h-1.9zM276.6 211.3h1.9v1.9h-1.9zM277.3 203.5h1.9v1.9h-1.9zM277.9 218.8h1.9v1.9h-1.9zM278.2 219.6h1.9v1.9h-1.9zM278.9 209.6h1.9v1.9h-1.9zM278.9 218.4h1.9v1.9h-1.9zM279.5 210.7h1.9v1.9h-1.9zM279.3 218.7h1.9v1.9h-1.9zM280.4 219.0h1.9v1.9h-1.9zM280.9 209.3h1.9v1.9h-1.9zM281.2 214.7h1.9v1.9h-1.9zM281.8 216.3h1.9v1.9h-1.9zM281.9 212.0h1.9v1.9h-1.9zM282.3 213.7h1.9v1.9h-1.9zM282.9 217.1h1.9v1.9h-1.9zM282.9 214.9h1.9v1.9h-1.9zM283.8 220.9h1.9v1.9h-1.9zM284.3 217.5h1.9v1.9h-1.9zM284.1 217.6h1.9v1.9h-1.9zM284.8 216.4h1.9v1.9h-1.9zM285.4 224.6h1.9v1.9h-1.9zM286.1 220.4h1.9v1.9h-1.9zM286.3 211.4h1.9v1.9h-1.9zM286.7 215.2h1.9v1.9h-1.9zM287.0 217.2h1.9v1.9h-1.9zM287.4 217.1h1.9v1.9h-1.9zM287.5 215.0h1.9v1.9h-1.9zM288.3 211.5h1.9v1.9h-1.9zM288.4 213.6h1.9v1.9h-1.9zM289.6 224.9h1.9v1.9h-1.9zM289.5 214.5h1.9v1.9h-1.9zM290.2 216.3h1.9v1.9h-1.9zM290.9 216.8h1.9v1.9h-1.9zM290.7 223.3h1.9v1.9h-1.9zM291.5 219.3h1.9v1.9h-1.9zM291.5 214.9h1.9v1.9h-1.9zM292.0 223.4h1.9v1.9h-1.9zM292.4 220.8h1.9v1.9h-1.9zM293.0 215.5h1.9v1.9h-1.9zM293.4 218.4h1.9v1.9h-1.9zM293.7 205.2h1.9v1.9h-1.9zM294.1 226.4h1.9v1.9h-1.9zM294.2 223.6h1.9v1.9h-1.9zM295.4 220.3h1.9v1.9h-1.9zM295.2 228.9h1.9v1.9h-1.9zM295.7 217.0h1.9v1.9h-1.9zM295.9 220.5h1.9v1.9h-1.9zM297.0 214.8h1.9v1.9h-1.9zM296.7 225.6h1.9v1.9h-1.9zM297.8 221.3h1.9v1.9h-1.9zM298.0 221.7h1.9v1.9h-1.9zM298.4 219.1h1.9v1.9h-1.9zM298.4 217.2h1.9v1.9h-1.9zM298.9 221.5h1.9v1.9h-1.9zM299.7 225.8h1.9v1.9h-1.9zM300.0 217.5h1.9v1.9h-1.9zM300.4 217.2h1.9v1.9h-1.9zM300.6 221.4h1.9v1.9h-1.9zM301.5 229.2h1.9v1.9h-1.9zM301.6 220.0h1.9v1.9h-1.9zM301.9 229.3h1.9v1.9h-1.9zM302.8 221.0h1.9v1.9h-1.9zM303.0 222.3h1.9v1.9h-1.9zM303.2 220.2h1.9v1.9h-1.9zM303.6 221.6h1.9v1.9h-1.9zM304.4 229.7h1.9v1.9h-1.9zM304.8 226.8h1.9v1.9h-1.9zM305.2 226.3h1.9v1.9h-1.9zM305.7 220.5h1.9v1.9h-1.9zM306.0 226.8h1.9v1.9h-1.9zM306.2 220.2h1.9v1.9h-1.9zM307.0 225.8h1.9v1.9h-1.9zM306.7 223.0h1.9v1.9h-1.9zM307.7 223.5h1.9v1.9h-1.9zM307.7 230.1h1.9v1.9h-1.9zM308.5 226.1h1.9v1.9h-1.9zM309.0 226.3h1.9v1.9h-1.9zM309.0 239.1h1.9v1.9h-1.9zM309.5 223.6h1.9v1.9h-1.9zM310.0 224.6h1.9v1.9h-1.9zM310.3 231.8h1.9v1.9h-1.9zM311.5 223.2h1.9v1.9h-1.9zM311.5 227.0h1.9v1.9h-1.9zM311.6 218.2h1.9v1.9h-1.9zM312.7 221.3h1.9v1.9h-1.9zM312.9 220.6h1.9v1.9h-1.9zM313.0 229.1h1.9v1.9h-1.9zM313.7 224.8h1.9v1.9h-1.9zM314.3 222.6h1.9v1.9h-1.9zM314.5 220.1h1.9v1.9h-1.9zM314.4 222.5h1.9v1.9h-1.9zM315.4 227.8h1.9v1.9h-1.9zM315.5 231.2h1.9v1.9h-1.9zM315.7 228.5h1.9v1.9h-1.9zM316.6 231.6h1.9v1.9h-1.9zM317.4 217.0h1.9v1.9h-1.9zM317.3 230.2h1.9v1.9h-1.9zM317.6 227.8h1.9v1.9h-1.9zM318.2 230.0h1.9v1.9h-1.9zM318.8 225.7h1.9v1.9h-1.9zM318.7 226.5h1.9v1.9h-1.9zM319.7 227.1h1.9v1.9h-1.9zM319.4 225.7h1.9v1.9h-1.9zM320.4 228.1h1.9v1.9h-1.9zM320.9 225.0h1.9v1.9h-1.9zM320.9 224.2h1.9v1.9h-1.9zM321.9 228.9h1.9v1.9h-1.9zM322.0 232.2h1.9v1.9h-1.9zM322.6 229.4h1.9v1.9h-1.9zM322.8 222.8h1.9v1.9h-1.9zM322.8 226.6h1.9v1.9h-1.9zM323.0 229.6h1.9v1.9h-1.9zM324.2 224.2h1.9v1.9h-1.9zM324.5 233.2h1.9v1.9h-1.9zM324.7 221.5h1.9v1.9h-1.9zM325.8 239.8h1.9v1.9h-1.9zM325.4 232.6h1.9v1.9h-1.9zM326.3 230.3h1.9v1.9h-1.9zM326.3 225.6h1.9v1.9h-1.9zM326.8 228.4h1.9v1.9h-1.9zM327.7 231.1h1.9v1.9h-1.9zM328.3 228.0h1.9v1.9h-1.9zM328.1 221.3h1.9v1.9h-1.9zM328.7 234.9h1.9v1.9h-1.9zM328.7 227.9h1.9v1.9h-1.9zM329.0 233.9h1.9v1.9h-1.9zM329.6 237.6h1.9v1.9h-1.9zM330.6 239.2h1.9v1.9h-1.9zM330.8 229.4h1.9v1.9h-1.9zM331.1 224.8h1.9v1.9h-1.9zM331.4 236.0h1.9v1.9h-1.9zM332.1 228.9h1.9v1.9h-1.9zM332.5 229.7h1.9v1.9h-1.9zM332.9 233.0h1.9v1.9h-1.9zM333.4 228.1h1.9v1.9h-1.9zM333.6 230.3h1.9v1.9h-1.9zM333.4 225.7h1.9v1.9h-1.9zM335.0 230.2h1.9v1.9h-1.9zM334.9 233.4h1.9v1.9h-1.9zM335.3 234.6h1.9v1.9h-1.9zM335.8 230.6h1.9v1.9h-1.9zM336.8 224.5h1.9v1.9h-1.9zM336.3 228.4h1.9v1.9h-1.9zM336.9 231.9h1.9v1.9h-1.9zM337.2 231.2h1.9v1.9h-1.9zM337.6 224.1h1.9v1.9h-1.9zM338.1 233.8h1.9v1.9h-1.9zM338.6 232.6h1.9v1.9h-1.9zM338.8 232.7h1.9v1.9h-1.9zM339.6 227.6h1.9v1.9h-1.9zM340.0 244.5h1.9v1.9h-1.9zM340.6 240.9h1.9v1.9h-1.9zM340.7 234.1h1.9v1.9h-1.9zM340.9 232.8h1.9v1.9h-1.9zM341.9 233.0h1.9v1.9h-1.9zM341.3 239.9h1.9v1.9h-1.9zM342.0 235.4h1.9v1.9h-1.9zM342.3 232.2h1.9v1.9h-1.9zM343.4 235.8h1.9v1.9h-1.9zM343.6 229.2h1.9v1.9h-1.9zM344.5 235.2h1.9v1.9h-1.9zM345.0 234.9h1.9v1.9h-1.9zM345.0 234.1h1.9v1.9h-1.9zM344.8 226.6h1.9v1.9h-1.9zM346.2 229.7h1.9v1.9h-1.9zM346.5 231.1h1.9v1.9h-1.9zM346.8 233.6h1.9v1.9h-1.9zM346.5 229.7h1.9v1.9h-1.9zM347.2 239.6h1.9v1.9h-1.9zM348.1 231.6h1.9v1.9h-1.9zM348.5 237.0h1.9v1.9h-1.9zM348.3 236.0h1.9v1.9h-1.9zM349.2 225.3h1.9v1.9h-1.9zM349.7 233.4h1.9v1.9h-1.9zM349.6 233.5h1.9v1.9h-1.9zM350.7 227.1h1.9v1.9h-1.9zM351.0 229.3h1.9v1.9h-1.9zM351.3 240.7h1.9v1.9h-1.9zM351.5 239.1h1.9v1.9h-1.9zM352.7 234.6h1.9v1.9h-1.9zM352.3 242.3h1.9v1.9h-1.9zM352.8 238.2h1.9v1.9h-1.9zM353.4 233.2h1.9v1.9h-1.9zM353.9 242.5h1.9v1.9h-1.9zM354.1 238.2h1.9v1.9h-1.9zM354.4 239.8h1.9v1.9h-1.9zM355.2 237.1h1.9v1.9h-1.9zM355.6 236.3h1.9v1.9h-1.9zM355.7 241.9h1.9v1.9h-1.9zM356.4 236.7h1.9v1.9h-1.9zM356.8 234.3h1.9v1.9h-1.9zM357.1 239.6h1.9v1.9h-1.9zM357.6 232.4h1.9v1.9h-1.9zM358.1 236.2h1.9v1.9h-1.9zM358.4 236.0h1.9v1.9h-1.9zM358.7 237.1h1.9v1.9h-1.9zM359.1 232.7h1.9v1.9h-1.9zM359.9 236.3h1.9v1.9h-1.9zM360.4 236.0h1.9v1.9h-1.9zM361.0 234.4h1.9v1.9h-1.9zM360.8 239.5h1.9v1.9h-1.9zM360.9 235.2h1.9v1.9h-1.9zM361.8 239.3h1.9v1.9h-1.9zM362.4 234.7h1.9v1.9h-1.9zM362.5 232.3h1.9v1.9h-1.9zM362.7 239.1h1.9v1.9h-1.9zM363.2 234.1h1.9v1.9h-1.9zM364.2 237.1h1.9v1.9h-1.9zM364.0 236.3h1.9v1.9h-1.9zM364.9 235.7h1.9v1.9h-1.9zM365.1 231.6h1.9v1.9h-1.9zM365.4 232.7h1.9v1.9h-1.9zM366.0 234.6h1.9v1.9h-1.9zM366.5 235.0h1.9v1.9h-1.9zM367.0 235.0h1.9v1.9h-1.9zM367.6 239.4h1.9v1.9h-1.9zM367.7 235.8h1.9v1.9h-1.9zM368.1 226.8h1.9v1.9h-1.9zM368.7 235.6h1.9v1.9h-1.9zM369.2 237.7h1.9v1.9h-1.9zM369.5 231.7h1.9v1.9h-1.9zM369.7 239.7h1.9v1.9h-1.9zM370.5 230.3h1.9v1.9h-1.9zM371.1 236.9h1.9v1.9h-1.9zM370.7 235.1h1.9v1.9h-1.9zM371.6 239.8h1.9v1.9h-1.9zM371.5 233.1h1.9v1.9h-1.9zM371.9 231.7h1.9v1.9h-1.9zM372.9 237.2h1.9v1.9h-1.9zM373.1 237.9h1.9v1.9h-1.9zM373.5 240.2h1.9v1.9h-1.9zM374.0 236.9h1.9v1.9h-1.9zM374.0 233.9h1.9v1.9h-1.9zM374.5 240.0h1.9v1.9h-1.9zM375.4 233.1h1.9v1.9h-1.9zM375.3 235.3h1.9v1.9h-1.9zM376.7 238.3h1.9v1.9h-1.9zM376.3 233.4h1.9v1.9h-1.9zM377.0 240.9h1.9v1.9h-1.9zM377.3 240.3h1.9v1.9h-1.9zM377.4 239.4h1.9v1.9h-1.9zM377.9 237.0h1.9v1.9h-1.9zM379.1 235.9h1.9v1.9h-1.9zM379.0 244.2h1.9v1.9h-1.9zM379.7 234.8h1.9v1.9h-1.9zM379.8 241.4h1.9v1.9h-1.9zM380.2 231.8h1.9v1.9h-1.9zM380.6 241.6h1.9v1.9h-1.9zM381.4 239.8h1.9v1.9h-1.9zM381.8 239.3h1.9v1.9h-1.9zM381.6 241.2h1.9v1.9h-1.9zM381.8 239.7h1.9v1.9h-1.9zM382.9 239.0h1.9v1.9h-1.9zM383.6 245.4h1.9v1.9h-1.9zM383.3 237.8h1.9v1.9h-1.9zM384.0 241.2h1.9v1.9h-1.9zM384.5 242.4h1.9v1.9h-1.9zM385.0 237.4h1.9v1.9h-1.9zM385.0 239.1h1.9v1.9h-1.9zM385.8 242.8h1.9v1.9h-1.9zM385.9 234.9h1.9v1.9h-1.9zM386.7 245.7h1.9v1.9h-1.9zM387.0 240.3h1.9v1.9h-1.9zM387.6 246.8h1.9v1.9h-1.9zM388.1 249.0h1.9v1.9h-1.9zM388.4 241.6h1.9v1.9h-1.9zM388.5 240.4h1.9v1.9h-1.9zM388.6 241.8h1.9v1.9h-1.9zM389.9 244.3h1.9v1.9h-1.9zM389.5 250.7h1.9v1.9h-1.9zM390.5 242.9h1.9v1.9h-1.9zM390.7 240.4h1.9v1.9h-1.9zM391.0 236.8h1.9v1.9h-1.9zM391.3 233.8h1.9v1.9h-1.9zM391.9 236.4h1.9v1.9h-1.9zM392.5 241.0h1.9v1.9h-1.9zM393.0 234.1h1.9v1.9h-1.9zM393.3 238.5h1.9v1.9h-1.9zM393.7 246.4h1.9v1.9h-1.9zM393.9 237.2h1.9v1.9h-1.9zM84.7 111.2h1.9v1.9h-1.9zM86.2 85.2h1.9v1.9h-1.9zM104.3 152.3h1.9v1.9h-1.9zM82.8 207.5h1.9v1.9h-1.9zM99.3 122.4h1.9v1.9h-1.9zM103.5 202.7h1.9v1.9h-1.9zM74.1 140.0h1.9v1.9h-1.9zM79.7 156.6h1.9v1.9h-1.9zM89.7 136.7h1.9v1.9h-1.9zM90.2 164.9h1.9v1.9h-1.9zM83.6 87.6h1.9v1.9h-1.9zM76.2 133.2h1.9v1.9h-1.9zM92.5 131.1h1.9v1.9h-1.9zM76.0 89.4h1.9v1.9h-1.9zM92.2 132.1h1.9v1.9h-1.9zM84.5 198.3h1.9v1.9h-1.9zM89.9 115.9h1.9v1.9h-1.9zM76.6 165.0h1.9v1.9h-1.9zM98.0 107.6h1.9v1.9h-1.9zM80.7 110.9h1.9v1.9h-1.9zM73.2 174.2h1.9v1.9h-1.9zM80.2 137.5h1.9v1.9h-1.9z"/>
<path fill="#b3238f" d="M72.0 214.1h1.9v1.9h-1.9zM72.7 188.2h1.9v1.9h-1.9zM73.5 148.3h1.9v1.9h-1.9zM73.6 171.7h1.9v1.9h-1.9zM74.1 124.8h1.9v1.9h-1.9zM74.7 150.5h1.9v1.9h-1.9zM74.5 187.4h1.9v1.9h-1.9zM75.1 190.5h1.9v1.9h-1.9zM76.0 126.3h1.9v1.9h-1.9zM76.2 133.0h1.9v1.9h-1.9zM76.2 145.0h1.9v1.9h-1.9zM77.6 166.8h1.9v1.9h-1.9zM78.3 143.0h1.9v1.9h-1.9zM79.0 202.4h1.9v1.9h-1.9zM79.2 167.9h1.9v1.9h-1.9zM79.1 123.3h1.9v1.9h-1.9zM80.2 96.3h1.9v1.9h-1.9zM80.3 246.2h1.9v1.9h-1.9zM80.9 123.4h1.9v1.9h-1.9zM81.4 144.5h1.9v1.9h-1.9zM81.7 95.3h1.9v1.9h-1.9zM82.5 135.3h1.9v1.9h-1.9zM82.2 227.1h1.9v1.9h-1.9zM82.6 144.3h1.9v1.9h-1.9zM83.8 142.5h1.9v1.9h-1.9zM83.8 208.5h1.9v1.9h-1.9zM84.3 154.8h1.9v1.9h-1.9zM84.4 144.8h1.9v1.9h-1.9zM85.0 139.8h1.9v1.9h-1.9zM84.8 190.5h1.9v1.9h-1.9zM86.1 190.5h1.9v1.9h-1.9zM86.3 119.3h1.9v1.9h-1.9zM86.4 186.9h1.9v1.9h-1.9zM87.0 202.7h1.9v1.9h-1.9zM87.7 147.9h1.9v1.9h-1.9zM88.1 153.8h1.9v1.9h-1.9zM88.3 120.3h1.9v1.9h-1.9zM88.3 156.8h1.9v1.9h-1.9zM89.1 198.4h1.9v1.9h-1.9zM89.5 134.3h1.9v1.9h-1.9zM90.2 214.8h1.9v1.9h-1.9zM89.9 164.9h1.9v1.9h-1.9zM90.5 148.6h1.9v1.9h-1.9zM91.3 200.2h1.9v1.9h-1.9zM91.8 153.4h1.9v1.9h-1.9zM92.7 177.0h1.9v1.9h-1.9zM92.8 180.7h1.9v1.9h-1.9zM93.4 203.3h1.9v1.9h-1.9zM93.7 156.2h1.9v1.9h-1.9zM93.1 181.9h1.9v1.9h-1.9zM93.8 167.5h1.9v1.9h-1.9zM94.8 169.3h1.9v1.9h-1.9zM95.1 224.6h1.9v1.9h-1.9zM95.5 205.4h1.9v1.9h-1.9zM96.0 230.6h1.9v1.9h-1.9zM96.4 122.5h1.9v1.9h-1.9zM97.5 178.5h1.9v1.9h-1.9zM97.2 181.3h1.9v1.9h-1.9zM97.6 179.6h1.9v1.9h-1.9zM97.7 225.5h1.9v1.9h-1.9zM98.3 185.0h1.9v1.9h-1.9zM98.6 213.2h1.9v1.9h-1.9zM99.7 195.6h1.9v1.9h-1.9zM99.5 186.7h1.9v1.9h-1.9zM100.2 160.0h1.9v1.9h-1.9zM100.6 200.3h1.9v1.9h-1.9zM101.2 180.2h1.9v1.9h-1.9zM100.9 189.4h1.9v1.9h-1.9zM102.2 175.9h1.9v1.9h-1.9zM101.9 201.2h1.9v1.9h-1.9zM102.3 197.6h1.9v1.9h-1.9zM103.2 201.0h1.9v1.9h-1.9zM103.1 171.3h1.9v1.9h-1.9zM103.6 216.3h1.9v1.9h-1.9zM104.1 213.1h1.9v1.9h-1.9zM104.8 226.3h1.9v1.9h-1.9zM105.4 208.7h1.9v1.9h-1.9zM105.3 188.1h1.9v1.9h-1.9zM105.7 193.6h1.9v1.9h-1.9zM106.8 181.1h1.9v1.9h-1.9zM106.8 167.6h1.9v1.9h-1.9zM107.5 186.3h1.9v1.9h-1.9zM107.7 181.2h1.9v1.9h-1.9zM108.0 195.7h1.9v1.9h-1.9zM108.7 156.2h1.9v1.9h-1.9zM108.8 186.0h1.9v1.9h-1.9zM109.3 169.0h1.9v1.9h-1.9zM109.7 172.9h1.9v1.9h-1.9zM110.2 186.5h1.9v1.9h-1.9zM110.6 125.7h1.9v1.9h-1.9zM111.1 163.7h1.9v1.9h-1.9zM111.3 167.7h1.9v1.9h-1.9zM111.5 190.2h1.9v1.9h-1.9zM112.5 173.8h1.9v1.9h-1.9zM112.9 169.2h1.9v1.9h-1.9zM113.4 184.2h1.9v1.9h-1.9zM113.8 176.3h1.9v1.9h-1.9zM114.0 174.8h1.9v1.9h-1.9zM114.3 191.5h1.9v1.9h-1.9zM114.9 162.4h1.9v1.9h-1.9zM115.3 159.0h1.9v1.9h-1.9zM115.7 139.1h1.9v1.9h-1.9zM116.2 175.3h1.9v1.9h-1.9zM116.3 161.3h1.9v1.9h-1.9zM116.9 164.7h1.9v1.9h-1.9zM117.2 163.3h1.9v1.9h-1.9zM117.6 163.0h1.9v1.9h-1.9zM118.6 150.0h1.9v1.9h-1.9zM118.3 161.3h1.9v1.9h-1.9zM119.2 167.7h1.9v1.9h-1.9zM119.7 158.9h1.9v1.9h-1.9zM120.0 157.3h1.9v1.9h-1.9zM120.4 156.2h1.9v1.9h-1.9zM120.5 153.3h1.9v1.9h-1.9zM121.0 147.2h1.9v1.9h-1.9zM121.1 153.4h1.9v1.9h-1.9zM121.7 153.0h1.9v1.9h-1.9zM121.9 149.3h1.9v1.9h-1.9zM122.8 151.2h1.9v1.9h-1.9zM123.2 146.6h1.9v1.9h-1.9zM123.8 145.6h1.9v1.9h-1.9zM124.1 146.6h1.9v1.9h-1.9zM124.2 149.4h1.9v1.9h-1.9zM124.6 154.0h1.9v1.9h-1.9zM125.2 139.0h1.9v1.9h-1.9zM125.8 144.4h1.9v1.9h-1.9zM126.4 137.7h1.9v1.9h-1.9zM126.7 145.6h1.9v1.9h-1.9zM126.9 144.4h1.9v1.9h-1.9zM127.6 147.0h1.9v1.9h-1.9zM127.6 146.6h1.9v1.9h-1.9zM128.4 143.1h1.9v1.9h-1.9zM128.8 138.7h1.9v1.9h-1.9zM129.3 134.7h1.9v1.9h-1.9zM129.4 133.9h1.9v1.9h-1.9zM130.2 133.6h1.9v1.9h-1.9zM130.6 142.2h1.9v1.9h-1.9zM130.7 138.8h1.9v1.9h-1.9zM131.2 136.6h1.9v1.9h-1.9zM131.5 131.8h1.9v1.9h-1.9zM132.0 128.5h1.9v1.9h-1.9zM132.6 133.0h1.9v1.9h-1.9zM132.5 130.1h1.9v1.9h-1.9zM133.7 123.6h1.9v1.9h-1.9zM134.1 124.7h1.9v1.9h-1.9zM134.6 129.3h1.9v1.9h-1.9zM134.7 134.1h1.9v1.9h-1.9zM134.9 127.6h1.9v1.9h-1.9zM136.0 125.1h1.9v1.9h-1.9zM135.6 125.2h1.9v1.9h-1.9zM136.1 129.7h1.9v1.9h-1.9zM136.5 124.4h1.9v1.9h-1.9zM137.3 129.7h1.9v1.9h-1.9zM137.5 135.1h1.9v1.9h-1.9zM137.4 123.2h1.9v1.9h-1.9zM138.4 125.5h1.9v1.9h-1.9zM138.4 131.8h1.9v1.9h-1.9zM139.5 125.7h1.9v1.9h-1.9zM139.5 134.7h1.9v1.9h-1.9zM139.7 126.7h1.9v1.9h-1.9zM140.5 127.5h1.9v1.9h-1.9zM140.4 117.4h1.9v1.9h-1.9zM141.2 130.5h1.9v1.9h-1.9zM141.4 125.5h1.9v1.9h-1.9zM142.2 120.7h1.9v1.9h-1.9zM142.5 128.3h1.9v1.9h-1.9zM143.3 129.5h1.9v1.9h-1.9zM143.3 131.8h1.9v1.9h-1.9zM143.3 128.7h1.9v1.9h-1.9zM144.1 127.4h1.9v1.9h-1.9zM144.4 120.7h1.9v1.9h-1.9zM144.6 127.4h1.9v1.9h-1.9zM145.2 126.8h1.9v1.9h-1.9zM145.9 127.5h1.9v1.9h-1.9zM146.4 128.4h1.9v1.9h-1.9zM146.6 124.6h1.9v1.9h-1.9zM146.9 128.7h1.9v1.9h-1.9zM147.5 135.8h1.9v1.9h-1.9zM148.3 129.0h1.9v1.9h-1.9zM147.6 132.0h1.9v1.9h-1.9zM149.3 131.7h1.9v1.9h-1.9zM149.4 130.9h1.9v1.9h-1.9zM149.5 128.9h1.9v1.9h-1.9zM150.3 135.4h1.9v1.9h-1.9zM150.2 127.9h1.9v1.9h-1.9zM151.3 131.8h1.9v1.9h-1.9zM151.4 134.1h1.9v1.9h-1.9zM151.3 132.6h1.9v1.9h-1.9zM152.1 136.9h1.9v1.9h-1.9zM153.0 133.7h1.9v1.9h-1.9zM152.9 135.8h1.9v1.9h-1.9zM153.5 129.3h1.9v1.9h-1.9zM154.1 134.5h1.9v1.9h-1.9zM154.5 137.7h1.9v1.9h-1.9zM154.8 137.4h1.9v1.9h-1.9zM154.8 131.0h1.9v1.9h-1.9zM155.8 141.2h1.9v1.9h-1.9zM156.3 139.0h1.9v1.9h-1.9zM156.4 140.3h1.9v1.9h-1.9zM156.9 144.2h1.9v1.9h-1.9zM157.3 135.5h1.9v1.9h-1.9zM157.6 148.7h1.9v1.9h-1.9zM158.1 147.3h1.9v1.9h-1.9zM158.7 144.3h1.9v1.9h-1.9zM158.6 146.1h1.9v1.9h-1.9zM159.2 146.2h1.9v1.9h-1.9zM159.4 142.3h1.9v1.9h-1.9zM160.0 138.8h1.9v1.9h-1.9zM160.7 146.8h1.9v1.9h-1.9zM160.9 147.8h1.9v1.9h-1.9zM161.7 151.8h1.9v1.9h-1.9zM161.6 152.8h1.9v1.9h-1.9zM161.9 148.6h1.9v1.9h-1.9zM162.5 156.9h1.9v1.9h-1.9zM162.9 153.0h1.9v1.9h-1.9zM163.2 154.9h1.9v1.9h-1.9zM163.7 148.9h1.9v1.9h-1.9zM164.8 159.2h1.9v1.9h-1.9zM164.8 158.5h1.9v1.9h-1.9zM164.9 165.8h1.9v1.9h-1.9zM165.3 157.1h1.9v1.9h-1.9zM166.0 159.5h1.9v1.9h-1.9zM166.7 156.7h1.9v1.9h-1.9zM167.3 161.1h1.9v1.9h-1.9zM167.4 154.9h1.9v1.9h-1.9zM168.0 164.9h1.9v1.9h-1.9zM168.3 161.1h1.9v1.9h-1.9zM168.9 169.9h1.9v1.9h-1.9zM168.9 164.4h1.9v1.9h-1.9zM169.1 165.1h1.9v1.9h-1.9zM170.2 166.8h1.9v1.9h-1.9zM170.3 163.9h1.9v1.9h-1.9zM170.6 167.3h1.9v1.9h-1.9zM171.4 166.0h1.9v1.9h-1.9zM171.5 177.9h1.9v1.9h-1.9zM172.2 161.7h1.9v1.9h-1.9zM172.7 167.1h1.9v1.9h-1.9zM172.9 169.7h1.9v1.9h-1.9zM173.1 163.6h1.9v1.9h-1.9zM173.5 172.7h1.9v1.9h-1.9zM174.1 167.8h1.9v1.9h-1.9zM174.5 175.6h1.9v1.9h-1.9zM174.9 173.6h1.9v1.9h-1.9zM175.3 179.1h1.9v1.9h-1.9zM175.5 175.1h1.9v1.9h-1.9zM176.0 175.9h1.9v1.9h-1.9zM176.3 168.1h1.9v1.9h-1.9zM177.4 178.2h1.9v1.9h-1.9zM177.3 176.8h1.9v1.9h-1.9zM178.2 172.8h1.9v1.9h-1.9zM178.0 176.6h1.9v1.9h-1.9zM178.3 179.0h1.9v1.9h-1.9zM178.6 182.9h1.9v1.9h-1.9zM179.8 173.5h1.9v1.9h-1.9zM180.1 177.7h1.9v1.9h-1.9zM180.3 180.2h1.9v1.9h-1.9zM181.2 184.4h1.9v1.9h-1.9zM181.4 179.5h1.9v1.9h-1.9zM181.7 182.8h1.9v1.9h-1.9zM182.2 176.6h1.9v1.9h-1.9zM182.4 178.9h1.9v1.9h-1.9zM182.6 189.7h1.9v1.9h-1.9zM183.3 178.9h1.9v1.9h-1.9zM183.7 183.4h1.9v1.9h-1.9zM184.1 184.3h1.9v1.9h-1.9zM184.7 185.3h1.9v1.9h-1.9zM184.8 182.7h1.9v1.9h-1.9zM185.3 186.1h1.9v1.9h-1.9zM185.5 187.2h1.9v1.9h-1.9zM186.2 192.4h1.9v1.9h-1.9zM186.4 191.2h1.9v1.9h-1.9zM187.0 196.6h1.9v1.9h-1.9zM187.2 183.0h1.9v1.9h-1.9zM188.0 187.4h1.9v1.9h-1.9zM188.1 186.7h1.9v1.9h-1.9zM188.8 191.6h1.9v1.9h-1.9zM189.1 188.5h1.9v1.9h-1.9zM189.7 185.8h1.9v1.9h-1.9zM189.8 188.6h1.9v1.9h-1.9zM190.5 183.9h1.9v1.9h-1.9zM190.8 190.5h1.9v1.9h-1.9zM191.2 184.8h1.9v1.9h-1.9zM191.4 183.9h1.9v1.9h-1.9zM192.2 192.6h1.9v1.9h-1.9zM192.1 188.7h1.9v1.9h-1.9zM193.1 192.4h1.9v1.9h-1.9zM193.4 197.6h1.9v1.9h-1.9zM193.7 190.6h1.9v1.9h-1.9zM193.7 187.9h1.9v1.9h-1.9zM194.7 192.3h1.9v1.9h-1.9zM194.9 187.9h1.9v1.9h-1.9zM195.4 187.6h1.9v1.9h-1.9zM195.6 189.7h1.9v1.9h-1.9zM196.4 193.5h1.9v1.9h-1.9zM196.5 192.3h1.9v1.9h-1.9zM197.2 189.3h1.9v1.9h-1.9zM197.4 195.0h1.9v1.9h-1.9zM197.4 192.7h1.9v1.9h-1.9zM198.0 189.3h1.9v1.9h-1.9zM198.6 186.1h1.9v1.9h-1.9zM199.3 186.6h1.9v1.9h-1.9zM199.5 191.8h1.9v1.9h-1.9zM199.7 198.9h1.9v1.9h-1.9zM200.8 192.7h1.9v1.9h-1.9zM201.0 187.4h1.9v1.9h-1.9zM201.4 195.5h1.9v1.9h-1.9zM201.8 201.6h1.9v1.9h-1.9zM202.1 200.4h1.9v1.9h-1.9zM202.3 192.0h1.9v1.9h-1.9zM203.1 191.8h1.9v1.9h-1.9zM203.8 188.1h1.9v1.9h-1.9zM203.7 198.1h1.9v1.9h-1.9zM204.4 198.6h1.9v1.9h-1.9zM204.5 191.6h1.9v1.9h-1.9zM204.9 194.7h1.9v1.9h-1.9zM205.4 196.2h1.9v1.9h-1.9zM206.2 197.4h1.9v1.9h-1.9zM206.5 185.6h1.9v1.9h-1.9zM207.0 188.9h1.9v1.9h-1.9zM207.3 190.8h1.9v1.9h-1.9zM207.4 193.6h1.9v1.9h-1.9zM208.1 197.0h1.9v1.9h-1.9zM208.5 186.8h1.9v1.9h-1.9zM208.4 191.6h1.9v1.9h-1.9zM209.7 201.9h1.9v1.9h-1.9zM209.7 194.9h1.9v1.9h-1.9zM210.4 196.4h1.9v1.9h-1.9zM210.7 191.9h1.9v1.9h-1.9zM210.7 194.2h1.9v1.9h-1.9zM211.2 198.0h1.9v1.9h-1.9zM211.4 190.3h1.9v1.9h-1.9zM211.8 195.9h1.9v1.9h-1.9zM213.0 195.8h1.9v1.9h-1.9zM213.3 203.7h1.9v1.9h-1.9zM213.3 199.2h1.9v1.9h-1.9zM213.9 201.3h1.9v1.9h-1.9zM214.2 194.3h1.9v1.9h-1.9zM214.7 198.1h1.9v1.9h-1.9zM214.8 190.3h1.9v1.9h-1.9zM216.2 193.0h1.9v1.9h-1.9zM216.2 196.7h1.9v1.9h-1.9zM216.8 187.0h1.9v1.9h-1.9zM216.4 198.0h1.9v1.9h-1.9zM217.1 198.4h1.9v1.9h-1.9zM217.2 196.8h1.9v1.9h-1.9zM217.9 198.2h1.9v1.9h-1.9zM218.3 190.3h1.9v1.9h-1.9zM219.2 197.5h1.9v1.9h-1.9zM218.9 193.7h1.9v1.9h-1.9zM220.6 191.1h1.9v1.9h-1.9zM220.3 190.5h1.9v1.9h-1.9zM220.7 196.8h1.9v1.9h-1.9zM221.3 189.1h1.9v1.9h-1.9zM221.4 201.0h1.9v1.9h-1.9zM222.0 196.7h1.9v1.9h-1.9zM222.6 192.2h1.9v1.9h-1.9zM222.9 192.3h1.9v1.9h-1.9zM223.2 196.2h1.9v1.9h-1.9zM223.3 192.5h1.9v1.9h-1.9zM223.9 191.3h1.9v1.9h-1.9zM224.4 198.9h1.9v1.9h-1.9zM224.9 192.6h1.9v1.9h-1.9zM225.3 191.5h1.9v1.9h-1.9zM225.9 192.9h1.9v1.9h-1.9zM226.3 201.0h1.9v1.9h-1.9zM226.7 195.1h1.9v1.9h-1.9zM226.9 194.9h1.9v1.9h-1.9zM227.5 192.0h1.9v1.9h-1.9zM227.9 199.3h1.9v1.9h-1.9zM228.1 199.6h1.9v1.9h-1.9zM228.7 190.3h1.9v1.9h-1.9zM229.0 192.7h1.9v1.9h-1.9zM229.4 198.1h1.9v1.9h-1.9zM229.9 196.7h1.9v1.9h-1.9zM230.1 196.5h1.9v1.9h-1.9zM230.7 195.2h1.9v1.9h-1.9zM230.9 195.0h1.9v1.9h-1.9zM231.8 191.8h1.9v1.9h-1.9zM232.3 199.2h1.9v1.9h-1.9zM232.5 197.0h1.9v1.9h-1.9zM232.6 197.2h1.9v1.9h-1.9zM233.2 196.3h1.9v1.9h-1.9zM233.4 198.3h1.9v1.9h-1.9zM233.7 193.0h1.9v1.9h-1.9zM234.5 197.2h1.9v1.9h-1.9zM234.9 195.3h1.9v1.9h-1.9zM235.2 192.7h1.9v1.9h-1.9zM236.0 192.1h1.9v1.9h-1.9zM236.2 195.0h1.9v1.9h-1.9zM236.4 193.5h1.9v1.9h-1.9zM237.4 195.5h1.9v1.9h-1.9zM237.2 191.2h1.9v1.9h-1.9zM238.1 199.0h1.9v1.9h-1.9zM238.5 205.4h1.9v1.9h-1.9zM238.3 186.2h1.9v1.9h-1.9zM238.9 194.6h1.9v1.9h-1.9zM239.4 197.4h1.9v1.9h-1.9zM239.9 192.1h1.9v1.9h-1.9zM240.5 201.7h1.9v1.9h-1.9zM240.9 191.9h1.9v1.9h-1.9zM241.1 193.1h1.9v1.9h-1.9zM241.8 198.3h1.9v1.9h-1.9zM242.2 192.2h1.9v1.9h-1.9zM242.4 196.4h1.9v1.9h-1.9zM243.0 195.0h1.9v1.9h-1.9zM243.3 193.2h1.9v1.9h-1.9zM243.8 191.8h1.9v1.9h-1.9zM244.4 192.2h1.9v1.9h-1.9zM244.4 194.5h1.9v1.9h-1.9zM244.8 197.3h1.9v1.9h-1.9zM245.5 193.6h1.9v1.9h-1.9zM245.8 196.3h1.9v1.9h-1.9zM245.7 193.0h1.9v1.9h-1.9zM247.0 193.1h1.9v1.9h-1.9zM247.3 199.7h1.9v1.9h-1.9zM247.5 192.2h1.9v1.9h-1.9zM247.8 198.8h1.9v1.9h-1.9zM248.4 195.7h1.9v1.9h-1.9zM248.5 202.2h1.9v1.9h-1.9zM249.0 189.3h1.9v1.9h-1.9zM249.6 193.5h1.9v1.9h-1.9zM250.1 197.5h1.9v1.9h-1.9zM250.5 194.0h1.9v1.9h-1.9zM251.0 196.1h1.9v1.9h-1.9zM251.7 189.2h1.9v1.9h-1.9zM252.1 194.7h1.9v1.9h-1.9zM252.1 192.8h1.9v1.9h-1.9zM252.9 196.2h1.9v1.9h-1.9zM252.5 196.3h1.9v1.9h-1.9zM253.6 190.0h1.9v1.9h-1.9zM253.9 190.4h1.9v1.9h-1.9zM254.2 187.2h1.9v1.9h-1.9zM254.1 195.2h1.9v1.9h-1.9zM255.2 194.4h1.9v1.9h-1.9zM255.7 194.0h1.9v1.9h-1.9zM256.2 192.6h1.9v1.9h-1.9zM256.2 196.0h1.9v1.9h-1.9zM256.5 198.0h1.9v1.9h-1.9zM257.1 194.5h1.9v1.9h-1.9zM257.5 195.2h1.9v1.9h-1.9zM258.1 195.5h1.9v1.9h-1.9zM258.6 199.4h1.9v1.9h-1.9zM258.8 193.4h1.9v1.9h-1.9zM259.5 190.5h1.9v1.9h-1.9zM259.4 192.2h1.9v1.9h-1.9zM260.2 197.3h1.9v1.9h-1.9zM260.5 192.0h1.9v1.9h-1.9zM261.3 194.3h1.9v1.9h-1.9zM261.4 194.0h1.9v1.9h-1.9zM261.3 196.2h1.9v1.9h-1.9zM262.1 193.9h1.9v1.9h-1.9zM262.4 195.7h1.9v1.9h-1.9zM263.5 193.0h1.9v1.9h-1.9zM263.6 201.6h1.9v1.9h-1.9zM264.0 210.4h1.9v1.9h-1.9zM264.1 198.9h1.9v1.9h-1.9zM264.5 198.5h1.9v1.9h-1.9zM265.1 196.2h1.9v1.9h-1.9zM265.6 200.0h1.9v1.9h-1.9zM266.1 192.5h1.9v1.9h-1.9zM266.3 191.9h1.9v1.9h-1.9zM266.7 195.0h1.9v1.9h-1.9zM267.3 194.9h1.9v1.9h-1.9zM267.7 208.3h1.9v1.9h-1.9zM268.0 197.5h1.9v1.9h-1.9zM268.3 189.5h1.9v1.9h-1.9zM268.9 198.5h1.9v1.9h-1.9zM269.6 189.9h1.9v1.9h-1.9zM269.9 202.1h1.9v1.9h-1.9zM270.2 197.8h1.9v1.9h-1.9zM270.6 201.6h1.9v1.9h-1.9zM270.8 200.3h1.9v1.9h-1.9zM271.7 213.5h1.9v1.9h-1.9zM271.3 200.6h1.9v1.9h-1.9zM272.0 207.6h1.9v1.9h-1.9zM272.8 200.7h1.9v1.9h-1.9zM273.5 195.9h1.9v1.9h-1.9zM273.5 195.4h1.9v1.9h-1.9zM274.3 208.7h1.9v1.9h-1.9zM274.7 198.4h1.9v1.9h-1.9zM275.0 203.4h1.9v1.9h-1.9zM275.3 203.7h1.9v1.9h-1.9zM275.5 203.5h1.9v1.9h-1.9zM275.8 199.2h1.9v1.9h-1.9zM276.5 201.7h1.9v1.9h-1.9zM277.1 201.7h1.9v1.9h-1.9zM277.0 209.3h1.9v1.9h-1.9zM277.7 207.1h1.9v1.9h-1.9zM278.5 200.4h1.9v1.9h-1.9zM278.4 204.7h1.9v1.9h-1.9zM278.9 201.4h1.9v1.9h-1.9zM279.2 205.2h1.9v1.9h-1.9zM279.7 203.3h1.9v1.9h-1.9zM279.9 204.9h1.9v1.9h-1.9zM280.8 199.8h1.9v1.9h-1.9zM281.0 205.7h1.9v1.9h-1.9zM281.3 205.7h1.9v1.9h-1.9zM281.7 204.2h1.9v1.9h-1.9zM282.2 208.3h1.9v1.9h-1.9zM283.0 204.6h1.9v1.9h-1.9zM282.9 207.2h1.9v1.9h-1.9zM283.7 213.1h1.9v1.9h-1.9zM283.8 206.4h1.9v1.9h-1.9zM284.7 209.3h1.9v1.9h-1.9zM285.0 210.4h1.9v1.9h-1.9zM285.3 204.7h1.9v1.9h-1.9zM285.9 202.0h1.9v1.9h-1.9zM285.8 209.2h1.9v1.9h-1.9zM286.7 214.8h1.9v1.9h-1.9zM287.1 202.7h1.9v1.9h-1.9zM287.5 203.2h1.9v1.9h-1.9zM287.6 208.3h1.9v1.9h-1.9zM288.2 204.2h1.9v1.9h-1.9zM288.7 206.2h1.9v1.9h-1.9zM288.9 212.9h1.9v1.9h-1.9zM289.4 207.6h1.9v1.9h-1.9zM290.0 208.0h1.9v1.9h-1.9zM290.3 209.0h1.9v1.9h-1.9zM291.0 211.7h1.9v1.9h-1.9zM291.1 211.6h1.9v1.9h-1.9zM291.6 212.0h1.9v1.9h-1.9zM291.9 202.1h1.9v1.9h-1.9zM292.3 204.6h1.9v1.9h-1.9zM292.7 206.1h1.9v1.9h-1.9zM293.5 214.6h1.9v1.9h-1.9zM293.4 207.8h1.9v1.9h-1.9zM294.1 205.8h1.9v1.9h-1.9zM294.9 207.8h1.9v1.9h-1.9zM294.9 209.7h1.9v1.9h-1.9zM295.5 219.6h1.9v1.9h-1.9zM295.8 213.1h1.9v1.9h-1.9zM296.0 211.5h1.9v1.9h-1.9zM296.7 208.1h1.9v1.9h-1.9zM297.4 203.4h1.9v1.9h-1.9zM297.1 208.9h1.9v1.9h-1.9zM297.6 214.5h1.9v1.9h-1.9zM298.2 210.5h1.9v1.9h-1.9zM298.8 207.2h1.9v1.9h-1.9zM298.8 218.0h1.9v1.9h-1.9zM299.7 211.0h1.9v1.9h-1.9zM299.8 216.3h1.9v1.9h-1.9zM300.6 212.1h1.9v1.9h-1.9zM301.1 211.2h1.9v1.9h-1.9zM301.2 216.3h1.9v1.9h-1.9zM301.6 219.0h1.9v1.9h-1.9zM301.9 210.8h1.9v1.9h-1.9zM302.4 211.5h1.9v1.9h-1.9zM303.0 216.0h1.9v1.9h-1.9zM303.4 225.4h1.9v1.9h-1.9zM303.9 213.9h1.9v1.9h-1.9zM304.6 211.2h1.9v1.9h-1.9zM304.3 218.5h1.9v1.9h-1.9zM305.3 212.9h1.9v1.9h-1.9zM305.9 214.0h1.9v1.9h-1.9zM306.1 212.4h1.9v1.9h-1.9zM306.2 210.2h1.9v1.9h-1.9zM306.4 211.8h1.9v1.9h-1.9zM307.2 216.9h1.9v1.9h-1.9zM307.5 211.7h1.9v1.9h-1.9zM308.1 210.1h1.9v1.9h-1.9zM308.4 216.4h1.9v1.9h-1.9zM308.6 218.5h1.9v1.9h-1.9zM309.3 218.5h1.9v1.9h-1.9zM310.0 221.7h1.9v1.9h-1.9zM310.3 216.5h1.9v1.9h-1.9zM310.8 220.5h1.9v1.9h-1.9zM310.8 216.8h1.9v1.9h-1.9zM311.2 216.7h1.9v1.9h-1.9zM311.9 217.4h1.9v1.9h-1.9zM311.9 225.7h1.9v1.9h-1.9zM312.3 215.5h1.9v1.9h-1.9zM312.8 219.7h1.9v1.9h-1.9zM313.4 215.6h1.9v1.9h-1.9zM314.0 216.8h1.9v1.9h-1.9zM314.1 219.9h1.9v1.9h-1.9zM315.0 219.2h1.9v1.9h-1.9zM315.5 221.5h1.9v1.9h-1.9zM315.6 214.4h1.9v1.9h-1.9zM315.9 215.7h1.9v1.9h-1.9zM316.5 218.9h1.9v1.9h-1.9zM316.8 214.1h1.9v1.9h-1.9zM316.9 212.5h1.9v1.9h-1.9zM317.6 210.4h1.9v1.9h-1.9zM318.4 222.9h1.9v1.9h-1.9zM318.8 225.0h1.9v1.9h-1.9zM319.1 221.2h1.9v1.9h-1.9zM319.3 223.6h1.9v1.9h-1.9zM319.8 214.5h1.9v1.9h-1.9zM320.4 215.6h1.9v1.9h-1.9zM320.8 220.1h1.9v1.9h-1.9zM321.1 215.2h1.9v1.9h-1.9zM321.0 224.1h1.9v1.9h-1.9zM322.2 220.7h1.9v1.9h-1.9zM322.2 227.2h1.9v1.9h-1.9zM322.4 212.6h1.9v1.9h-1.9zM323.2 225.7h1.9v1.9h-1.9zM323.7 213.5h1.9v1.9h-1.9zM323.9 216.4h1.9v1.9h-1.9zM324.5 225.0h1.9v1.9h-1.9zM324.8 220.3h1.9v1.9h-1.9zM325.5 224.7h1.9v1.9h-1.9zM325.6 216.0h1.9v1.9h-1.9zM326.3 226.4h1.9v1.9h-1.9zM326.5 227.9h1.9v1.9h-1.9zM326.5 222.0h1.9v1.9h-1.9zM327.1 222.1h1.9v1.9h-1.9zM328.1 222.1h1.9v1.9h-1.9zM327.9 226.4h1.9v1.9h-1.9zM328.2 218.9h1.9v1.9h-1.9zM328.9 224.1h1.9v1.9h-1.9zM329.9 224.3h1.9v1.9h-1.9zM330.1 225.8h1.9v1.9h-1.9zM330.0 218.8h1.9v1.9h-1.9zM330.5 220.8h1.9v1.9h-1.9zM331.0 221.6h1.9v1.9h-1.9zM331.2 229.3h1.9v1.9h-1.9zM331.9 226.3h1.9v1.9h-1.9zM332.2 228.4h1.9v1.9h-1.9zM332.6 221.8h1.9v1.9h-1.9zM333.4 225.0h1.9v1.9h-1.9zM333.8 222.6h1.9v1.9h-1.9zM334.0 218.2h1.9v1.9h-1.9zM334.5 215.8h1.9v1.9h-1.9zM334.7 219.0h1.9v1.9h-1.9zM335.6 225.4h1.9v1.9h-1.9zM335.6 224.1h1.9v1.9h-1.9zM336.4 222.9h1.9v1.9h-1.9zM336.8 226.2h1.9v1.9h-1.9zM337.0 223.0h1.9v1.9h-1.9zM337.0 222.5h1.9v1.9h-1.9zM337.9 228.2h1.9v1.9h-1.9zM338.1 236.7h1.9v1.9h-1.9zM338.4 225.5h1.9v1.9h-1.9zM339.2 217.0h1.9v1.9h-1.9zM339.6 219.8h1.9v1.9h-1.9zM340.2 226.8h1.9v1.9h-1.9zM340.7 222.1h1.9v1.9h-1.9zM340.8 219.2h1.9v1.9h-1.9zM341.1 227.5h1.9v1.9h-1.9zM341.7 221.7h1.9v1.9h-1.9zM341.9 224.5h1.9v1.9h-1.9zM342.4 227.0h1.9v1.9h-1.9zM342.2 227.4h1.9v1.9h-1.9zM342.9 229.5h1.9v1.9h-1.9zM343.9 224.9h1.9v1.9h-1.9zM344.1 229.8h1.9v1.9h-1.9zM344.4 229.1h1.9v1.9h-1.9zM345.2 232.0h1.9v1.9h-1.9zM345.1 226.4h1.9v1.9h-1.9zM345.5 229.3h1.9v1.9h-1.9zM346.2 230.7h1.9v1.9h-1.9zM346.8 222.2h1.9v1.9h-1.9zM347.1 228.1h1.9v1.9h-1.9zM347.1 239.1h1.9v1.9h-1.9zM348.0 227.5h1.9v1.9h-1.9zM348.3 227.0h1.9v1.9h-1.9zM348.5 230.8h1.9v1.9h-1.9zM349.2 231.1h1.9v1.9h-1.9zM349.6 235.9h1.9v1.9h-1.9zM350.0 226.9h1.9v1.9h-1.9zM350.7 223.8h1.9v1.9h-1.9zM350.9 228.7h1.9v1.9h-1.9zM351.4 229.7h1.9v1.9h-1.9zM351.4 224.9h1.9v1.9h-1.9zM352.1 230.1h1.9v1.9h-1.9zM352.7 235.5h1.9v1.9h-1.9zM352.7 229.8h1.9v1.9h-1.9zM353.0 226.4h1.9v1.9h-1.9zM353.6 226.7h1.9v1.9h-1.9zM354.2 226.6h1.9v1.9h-1.9zM354.6 228.6h1.9v1.9h-1.9zM354.5 244.3h1.9v1.9h-1.9zM355.5 230.5h1.9v1.9h-1.9zM355.9 224.4h1.9v1.9h-1.9zM356.4 230.2h1.9v1.9h-1.9zM356.6 230.2h1.9v1.9h-1.9zM356.9 226.0h1.9v1.9h-1.9zM357.5 232.1h1.9v1.9h-1.9zM358.1 229.8h1.9v1.9h-1.9zM358.2 230.6h1.9v1.9h-1.9zM358.8 230.6h1.9v1.9h-1.9zM359.2 229.9h1.9v1.9h-1.9zM359.8 236.0h1.9v1.9h-1.9zM359.7 232.7h1.9v1.9h-1.9zM360.6 234.1h1.9v1.9h-1.9zM360.9 232.8h1.9v1.9h-1.9zM361.4 232.3h1.9v1.9h-1.9zM361.9 228.0h1.9v1.9h-1.9zM362.2 230.3h1.9v1.9h-1.9zM362.8 223.4h1.9v1.9h-1.9zM362.7 234.0h1.9v1.9h-1.9zM363.2 231.0h1.9v1.9h-1.9zM364.0 232.4h1.9v1.9h-1.9zM364.3 228.2h1.9v1.9h-1.9zM365.1 229.6h1.9v1.9h-1.9zM365.4 237.9h1.9v1.9h-1.9zM365.6 244.6h1.9v1.9h-1.9zM365.8 235.3h1.9v1.9h-1.9zM366.2 229.7h1.9v1.9h-1.9zM367.1 238.2h1.9v1.9h-1.9zM367.5 236.8h1.9v1.9h-1.9zM367.8 231.1h1.9v1.9h-1.9zM367.9 232.5h1.9v1.9h-1.9zM368.4 233.9h1.9v1.9h-1.9zM369.0 234.2h1.9v1.9h-1.9zM369.4 228.6h1.9v1.9h-1.9zM370.5 235.5h1.9v1.9h-1.9zM370.0 232.3h1.9v1.9h-1.9zM370.8 238.2h1.9v1.9h-1.9zM370.9 229.9h1.9v1.9h-1.9zM371.2 236.6h1.9v1.9h-1.9zM371.6 235.0h1.9v1.9h-1.9zM372.4 236.2h1.9v1.9h-1.9zM372.7 232.2h1.9v1.9h-1.9zM373.1 235.9h1.9v1.9h-1.9zM373.5 236.6h1.9v1.9h-1.9zM373.8 231.2h1.9v1.9h-1.9zM374.4 236.4h1.9v1.9h-1.9zM374.7 238.9h1.9v1.9h-1.9zM374.9 232.8h1.9v1.9h-1.9zM375.7 240.9h1.9v1.9h-1.9zM376.6 235.9h1.9v1.9h-1.9zM376.3 238.5h1.9v1.9h-1.9zM376.9 238.2h1.9v1.9h-1.9zM377.5 235.3h1.9v1.9h-1.9zM377.8 240.4h1.9v1.9h-1.9zM378.4 228.0h1.9v1.9h-1.9zM378.7 234.2h1.9v1.9h-1.9zM378.7 232.1h1.9v1.9h-1.9zM379.1 231.9h1.9v1.9h-1.9zM379.5 235.1h1.9v1.9h-1.9zM380.4 242.3h1.9v1.9h-1.9zM380.5 236.1h1.9v1.9h-1.9zM380.9 229.5h1.9v1.9h-1.9zM381.2 248.0h1.9v1.9h-1.9zM381.8 238.4h1.9v1.9h-1.9zM382.2 237.3h1.9v1.9h-1.9zM382.5 234.8h1.9v1.9h-1.9zM383.0 236.5h1.9v1.9h-1.9zM383.8 233.0h1.9v1.9h-1.9zM384.2 237.1h1.9v1.9h-1.9zM384.7 236.6h1.9v1.9h-1.9zM384.7 233.1h1.9v1.9h-1.9zM385.5 233.2h1.9v1.9h-1.9zM385.6 229.9h1.9v1.9h-1.9zM386.1 240.6h1.9v1.9h-1.9zM386.6 237.0h1.9v1.9h-1.9zM387.1 235.6h1.9v1.9h-1.9zM387.4 231.9h1.9v1.9h-1.9zM387.5 234.6h1.9v1.9h-1.9zM388.4 235.1h1.9v1.9h-1.9zM388.7 234.7h1.9v1.9h-1.9zM388.9 229.5h1.9v1.9h-1.9zM389.7 234.3h1.9v1.9h-1.9zM390.0 240.6h1.9v1.9h-1.9zM390.5 234.7h1.9v1.9h-1.9zM390.6 245.4h1.9v1.9h-1.9zM391.2 238.7h1.9v1.9h-1.9zM391.5 233.3h1.9v1.9h-1.9zM391.5 250.3h1.9v1.9h-1.9zM392.9 237.6h1.9v1.9h-1.9zM393.0 238.7h1.9v1.9h-1.9zM393.3 233.1h1.9v1.9h-1.9zM393.4 230.6h1.9v1.9h-1.9zM393.9 246.2h1.9v1.9h-1.9zM90.5 169.1h1.9v1.9h-1.9zM77.7 206.2h1.9v1.9h-1.9zM86.1 193.8h1.9v1.9h-1.9zM72.7 149.7h1.9v1.9h-1.9zM75.6 137.6h1.9v1.9h-1.9zM78.0 156.5h1.9v1.9h-1.9zM73.4 142.1h1.9v1.9h-1.9zM77.8 172.9h1.9v1.9h-1.9zM75.8 128.7h1.9v1.9h-1.9zM76.1 206.2h1.9v1.9h-1.9zM72.9 108.5h1.9v1.9h-1.9zM100.4 132.7h1.9v1.9h-1.9zM94.1 94.4h1.9v1.9h-1.9zM73.6 162.5h1.9v1.9h-1.9zM74.0 115.5h1.9v1.9h-1.9zM79.0 165.1h1.9v1.9h-1.9zM74.0 92.5h1.9v1.9h-1.9zM79.8 171.7h1.9v1.9h-1.9zM96.9 157.8h1.9v1.9h-1.9zM77.8 204.4h1.9v1.9h-1.9zM77.5 183.8h1.9v1.9h-1.9zM94.7 170.0h1.9v1.9h-1.9z"/>
<path fill="#6e0ea8" d="M72.5 187.1h1.9v1.9h-1.9zM72.5 64.4h1.9v1.9h-1.9zM73.2 103.5h1.9v1.9h-1.9zM73.5 182.2h1.9v1.9h-1.9zM73.8 180.4h1.9v1.9h-1.9zM74.4 113.6h1.9v1.9h-1.9zM74.9 93.2h1.9v1.9h-1.9zM75.0 98.1h1.9v1.9h-1.9zM76.0 189.6h1.9v1.9h-1.9zM76.3 191.4h1.9v1.9h-1.9zM76.9 80.6h1.9v1.9h-1.9zM77.1 135.4h1.9v1.9h-1.9zM77.6 63.6h1.9v1.9h-1.9zM78.1 148.6h1.9v1.9h-1.9zM78.1 101.3h1.9v1.9h-1.9zM78.4 110.1h1.9v1.9h-1.9zM79.6 225.4h1.9v1.9h-1.9zM79.2 101.3h1.9v1.9h-1.9zM80.1 92.1h1.9v1.9h-1.9zM80.2 95.8h1.9v1.9h-1.9zM80.9 153.0h1.9v1.9h-1.9zM81.4 77.4h1.9v1.9h-1.9zM81.2 132.3h1.9v1.9h-1.9zM82.0 97.2h1.9v1.9h-1.9zM82.9 107.2h1.9v1.9h-1.9zM83.2 138.6h1.9v1.9h-1.9zM83.2 189.5h1.9v1.9h-1.9zM83.6 95.6h1.9v1.9h-1.9zM84.3 145.4h1.9v1.9h-1.9zM84.3 162.2h1.9v1.9h-1.9zM84.8 78.8h1.9v1.9h-1.9zM85.1 133.1h1.9v1.9h-1.9zM85.9 118.4h1.9v1.9h-1.9zM86.2 135.2h1.9v1.9h-1.9zM87.1 124.1h1.9v1.9h-1.9zM87.4 136.7h1.9v1.9h-1.9zM88.0 209.0h1.9v1.9h-1.9zM87.9 164.5h1.9v1.9h-1.9zM88.3 180.8h1.9v1.9h-1.9zM88.5 202.9h1.9v1.9h-1.9zM89.5 188.1h1.9v1.9h-1.9zM89.7 131.7h1.9v1.9h-1.9zM90.1 218.6h1.9v1.9h-1.9zM90.3 158.2h1.9v1.9h-1.9zM90.7 200.4h1.9v1.9h-1.9zM91.5 193.4h1.9v1.9h-1.9zM92.0 146.8h1.9v1.9h-1.9zM92.3 129.7h1.9v1.9h-1.9zM91.9 214.3h1.9v1.9h-1.9zM92.9 132.5h1.9v1.9h-1.9zM93.2 189.4h1.9v1.9h-1.9zM93.8 177.7h1.9v1.9h-1.9zM94.4 157.7h1.9v1.9h-1.9zM94.5 153.8h1.9v1.9h-1.9zM94.9 134.5h1.9v1.9h-1.9zM95.3 198.6h1.9v1.9h-1.9zM95.9 144.8h1.9v1.9h-1.9zM96.2 173.2h1.9v1.9h-1.9zM96.7 204.1h1.9v1.9h-1.9zM97.4 133.4h1.9v1.9h-1.9zM97.8 212.6h1.9v1.9h-1.9zM97.8 172.4h1.9v1.9h-1.9zM98.4 203.7h1.9v1.9h-1.9zM98.9 167.4h1.9v1.9h-1.9zM99.3 166.0h1.9v1.9h-1.9zM99.9 184.6h1.9v1.9h-1.9zM99.8 183.1h1.9v1.9h-1.9zM100.8 172.6h1.9v1.9h-1.9zM100.7 148.5h1.9v1.9h-1.9zM101.4 167.4h1.9v1.9h-1.9zM101.9 198.2h1.9v1.9h-1.9zM102.4 203.2h1.9v1.9h-1.9zM102.6 189.8h1.9v1.9h-1.9zM103.2 185.9h1.9v1.9h-1.9zM103.7 178.1h1.9v1.9h-1.9zM104.3 157.9h1.9v1.9h-1.9zM104.5 141.4h1.9v1.9h-1.9zM104.1 159.4h1.9v1.9h-1.9zM105.4 209.1h1.9v1.9h-1.9zM105.3 182.2h1.9v1.9h-1.9zM105.9 197.6h1.9v1.9h-1.9zM106.3 199.6h1.9v1.9h-1.9zM107.1 186.5h1.9v1.9h-1.9zM107.2 188.4h1.9v1.9h-1.9zM107.7 172.1h1.9v1.9h-1.9zM107.9 172.6h1.9v1.9h-1.9zM108.7 194.6h1.9v1.9h-1.9zM108.6 173.9h1.9v1.9h-1.9zM109.9 187.5h1.9v1.9h-1.9zM109.7 195.3h1.9v1.9h-1.9zM110.6 183.4h1.9v1.9h-1.9zM110.4 188.9h1.9v1.9h-1.9zM111.0 192.5h1.9v1.9h-1.9zM111.4 189.0h1.9v1.9h-1.9zM112.1 169.8h1.9v1.9h-1.9zM112.1 160.9h1.9v1.9h-1.9zM112.7 179.4h1.9v1.9h-1.9zM112.8 154.3h1.9v1.9h-1.9zM113.5 172.1h1.9v1.9h-1.9zM114.1 186.4h1.9v1.9h-1.9zM114.6 167.4h1.9v1.9h-1.9zM115.1 174.1h1.9v1.9h-1.9zM115.3 167.4h1.9v1.9h-1.9zM116.1 151.7h1.9v1.9h-1.9zM116.2 162.1h1.9v1.9h-1.9zM115.9 156.1h1.9v1.9h-1.9zM116.9 132.2h1.9v1.9h-1.9zM117.5 154.5h1.9v1.9h-1.9zM117.5 141.0h1.9v1.9h-1.9zM118.1 145.9h1.9v1.9h-1.9zM118.5 151.0h1.9v1.9h-1.9zM118.6 163.4h1.9v1.9h-1.9zM119.5 151.9h1.9v1.9h-1.9zM119.7 143.2h1.9v1.9h-1.9zM120.2 142.3h1.9v1.9h-1.9zM120.7 150.7h1.9v1.9h-1.9zM121.3 150.5h1.9v1.9h-1.9zM121.7 138.5h1.9v1.9h-1.9zM121.9 137.7h1.9v1.9h-1.9zM122.7 140.7h1.9v1.9h-1.9zM123.4 131.3h1.9v1.9h-1.9zM123.4 140.6h1.9v1.9h-1.9zM123.7 146.3h1.9v1.9h-1.9zM124.1 137.5h1.9v1.9h-1.9zM124.5 139.4h1.9v1.9h-1.9zM124.9 133.2h1.9v1.9h-1.9zM125.7 133.9h1.9v1.9h-1.9zM126.0 132.7h1.9v1.9h-1.9zM126.1 129.0h1.9v1.9h-1.9zM126.4 131.3h1.9v1.9h-1.9zM126.4 129.1h1.9v1.9h-1.9zM127.1 127.7h1.9v1.9h-1.9zM127.7 120.7h1.9v1.9h-1.9zM128.3 131.5h1.9v1.9h-1.9zM129.0 125.6h1.9v1.9h-1.9zM129.1 121.2h1.9v1.9h-1.9zM129.3 122.4h1.9v1.9h-1.9zM129.8 109.9h1.9v1.9h-1.9zM130.3 111.5h1.9v1.9h-1.9zM130.8 112.3h1.9v1.9h-1.9zM132.0 116.4h1.9v1.9h-1.9zM131.5 110.6h1.9v1.9h-1.9zM132.1 94.8h1.9v1.9h-1.9zM132.9 111.0h1.9v1.9h-1.9zM132.2 101.8h1.9v1.9h-1.9zM133.5 102.3h1.9v1.9h-1.9zM133.9 101.2h1.9v1.9h-1.9zM134.4 102.5h1.9v1.9h-1.9zM134.2 103.2h1.9v1.9h-1.9zM135.1 93.2h1.9v1.9h-1.9zM135.4 97.9h1.9v1.9h-1.9zM135.6 97.0h1.9v1.9h-1.9zM136.1 104.2h1.9v1.9h-1.9zM136.6 90.7h1.9v1.9h-1.9zM137.3 92.3h1.9v1.9h-1.9zM137.4 93.7h1.9v1.9h-1.9zM138.0 89.9h1.9v1.9h-1.9zM138.3 102.8h1.9v1.9h-1.9zM138.4 96.5h1.9v1.9h-1.9zM139.3 89.5h1.9v1.9h-1.9zM139.8 92.3h1.9v1.9h-1.9zM139.9 93.6h1.9v1.9h-1.9zM140.7 90.1h1.9v1.9h-1.9zM140.8 92.2h1.9v1.9h-1.9zM141.5 80.2h1.9v1.9h-1.9zM141.7 93.1h1.9v1.9h-1.9zM142.4 94.5h1.9v1.9h-1.9zM142.6 86.1h1.9v1.9h-1.9zM143.2 87.3h1.9v1.9h-1.9zM143.3 89.0h1.9v1.9h-1.9zM143.6 89.9h1.9v1.9h-1.9zM144.6 94.0h1.9v1.9h-1.9zM144.6 92.8h1.9v1.9h-1.9zM144.8 85.3h1.9v1.9h-1.9zM145.9 94.1h1.9v1.9h-1.9zM145.9 93.3h1.9v1.9h-1.9zM146.5 91.5h1.9v1.9h-1.9zM147.4 88.2h1.9v1.9h-1.9zM147.0 90.6h1.9v1.9h-1.9zM147.6 85.7h1.9v1.9h-1.9zM148.6 92.4h1.9v1.9h-1.9zM148.6 88.2h1.9v1.9h-1.9zM148.8 94.9h1.9v1.9h-1.9zM149.3 97.8h1.9v1.9h-1.9zM149.8 96.8h1.9v1.9h-1.9zM150.2 93.6h1.9v1.9h-1.9zM150.4 92.4h1.9v1.9h-1.9zM151.0 84.4h1.9v1.9h-1.9zM151.0 85.7h1.9v1.9h-1.9zM151.5 96.1h1.9v1.9h-1.9zM151.9 98.9h1.9v1.9h-1.9zM152.7 90.8h1.9v1.9h-1.9zM153.1 99.1h1.9v1.9h-1.9zM153.2 91.8h1.9v1.9h-1.9zM153.9 96.4h1.9v1.9h-1.9zM154.4 100.2h1.9v1.9h-1.9zM154.6 95.2h1.9v1.9h-1.9zM155.0 103.8h1.9v1.9h-1.9zM155.9 104.8h1.9v1.9h-1.9zM156.2 102.9h1.9v1.9h-1.9zM156.0 99.1h1.9v1.9h-1.9zM156.8 103.7h1.9v1.9h-1.9zM157.1 102.0h1.9v1.9h-1.9zM158.0 101.6h1.9v1.9h-1.9zM157.9 106.3h1.9v1.9h-1.9zM158.9 108.1h1.9v1.9h-1.9zM158.8 101.6h1.9v1.9h-1.9zM159.6 112.4h1.9v1.9h-1.9zM159.5 105.9h1.9v1.9h-1.9zM160.5 106.9h1.9v1.9h-1.9zM160.3 114.9h1.9v1.9h-1.9zM161.4 110.4h1.9v1.9h-1.9zM161.3 112.9h1.9v1.9h-1.9zM161.6 105.1h1.9v1.9h-1.9zM162.1 114.8h1.9v1.9h-1.9zM162.5 112.8h1.9v1.9h-1.9zM162.9 111.7h1.9v1.9h-1.9zM164.0 114.4h1.9v1.9h-1.9zM164.0 110.3h1.9v1.9h-1.9zM164.3 117.1h1.9v1.9h-1.9zM164.8 122.3h1.9v1.9h-1.9zM165.2 119.5h1.9v1.9h-1.9zM165.7 128.5h1.9v1.9h-1.9zM165.8 121.1h1.9v1.9h-1.9zM166.3 118.3h1.9v1.9h-1.9zM167.0 119.1h1.9v1.9h-1.9zM167.3 117.4h1.9v1.9h-1.9zM167.7 124.4h1.9v1.9h-1.9zM167.9 123.4h1.9v1.9h-1.9zM168.3 125.7h1.9v1.9h-1.9zM169.6 127.0h1.9v1.9h-1.9zM169.6 120.9h1.9v1.9h-1.9zM169.9 129.4h1.9v1.9h-1.9zM170.3 130.4h1.9v1.9h-1.9zM170.9 132.6h1.9v1.9h-1.9zM170.8 133.4h1.9v1.9h-1.9zM171.4 132.3h1.9v1.9h-1.9zM172.3 134.1h1.9v1.9h-1.9zM172.5 142.7h1.9v1.9h-1.9zM172.9 134.8h1.9v1.9h-1.9zM173.2 137.2h1.9v1.9h-1.9zM173.4 133.9h1.9v1.9h-1.9zM174.3 140.5h1.9v1.9h-1.9zM174.2 139.4h1.9v1.9h-1.9zM174.9 142.6h1.9v1.9h-1.9zM174.8 141.8h1.9v1.9h-1.9zM176.0 143.3h1.9v1.9h-1.9zM175.7 135.7h1.9v1.9h-1.9zM176.6 149.8h1.9v1.9h-1.9zM176.9 142.6h1.9v1.9h-1.9zM177.6 147.8h1.9v1.9h-1.9zM177.7 144.8h1.9v1.9h-1.9zM178.3 148.1h1.9v1.9h-1.9zM178.5 148.2h1.9v1.9h-1.9zM178.8 153.5h1.9v1.9h-1.9zM180.0 147.9h1.9v1.9h-1.9zM180.1 140.5h1.9v1.9h-1.9zM180.4 145.7h1.9v1.9h-1.9zM180.4 156.4h1.9v1.9h-1.9zM181.1 154.6h1.9v1.9h-1.9zM181.5 143.3h1.9v1.9h-1.9zM181.9 156.2h1.9v1.9h-1.9zM182.8 150.9h1.9v1.9h-1.9zM183.3 145.2h1.9v1.9h-1.9zM183.3 152.3h1.9v1.9h-1.9zM183.6 153.8h1.9v1.9h-1.9zM184.2 152.2h1.9v1.9h-1.9zM184.5 152.2h1.9v1.9h-1.9zM184.7 160.5h1.9v1.9h-1.9zM185.5 157.5h1.9v1.9h-1.9zM185.9 158.1h1.9v1.9h-1.9zM186.2 163.7h1.9v1.9h-1.9zM186.8 156.0h1.9v1.9h-1.9zM186.6 157.7h1.9v1.9h-1.9zM187.7 159.7h1.9v1.9h-1.9zM187.8 154.1h1.9v1.9h-1.9zM188.1 160.7h1.9v1.9h-1.9zM188.5 157.5h1.9v1.9h-1.9zM189.2 153.5h1.9v1.9h-1.9zM189.4 163.9h1.9v1.9h-1.9zM190.1 162.2h1.9v1.9h-1.9zM190.4 162.5h1.9v1.9h-1.9zM191.1 162.2h1.9v1.9h-1.9zM191.2 168.5h1.9v1.9h-1.9zM191.6 154.2h1.9v1.9h-1.9zM192.2 154.9h1.9v1.9h-1.9zM192.3 160.5h1.9v1.9h-1.9zM192.9 166.4h1.9v1.9h-1.9zM193.5 171.2h1.9v1.9h-1.9zM193.8 163.7h1.9v1.9h-1.9zM194.3 166.1h1.9v1.9h-1.9zM194.2 169.6h1.9v1.9h-1.9zM195.3 161.7h1.9v1.9h-1.9zM195.2 167.9h1.9v1.9h-1.9zM195.9 161.6h1.9v1.9h-1.9zM196.5 163.1h1.9v1.9h-1.9zM196.2 167.4h1.9v1.9h-1.9zM197.1 165.9h1.9v1.9h-1.9zM197.7 165.6h1.9v1.9h-1.9zM197.7 167.3h1.9v1.9h-1.9zM198.1 165.5h1.9v1.9h-1.9zM199.1 163.5h1.9v1.9h-1.9zM199.2 169.1h1.9v1.9h-1.9zM199.5 167.6h1.9v1.9h-1.9zM200.3 174.3h1.9v1.9h-1.9zM200.2 171.9h1.9v1.9h-1.9zM201.1 168.9h1.9v1.9h-1.9zM201.4 171.6h1.9v1.9h-1.9zM201.5 163.9h1.9v1.9h-1.9zM202.1 174.2h1.9v1.9h-1.9zM202.3 179.6h1.9v1.9h-1.9zM203.0 170.9h1.9v1.9h-1.9zM203.3 173.5h1.9v1.9h-1.9zM203.7 183.1h1.9v1.9h-1.9zM204.4 169.9h1.9v1.9h-1.9zM204.3 174.8h1.9v1.9h-1.9zM205.0 174.1h1.9v1.9h-1.9zM205.3 166.8h1.9v1.9h-1.9zM206.0 172.3h1.9v1.9h-1.9zM206.2 173.1h1.9v1.9h-1.9zM206.2 169.6h1.9v1.9h-1.9zM207.1 171.6h1.9v1.9h-1.9zM207.7 176.1h1.9v1.9h-1.9zM208.3 169.9h1.9v1.9h-1.9zM208.2 177.3h1.9v1.9h-1.9zM208.8 177.2h1.9v1.9h-1.9zM209.5 174.5h1.9v1.9h-1.9zM209.6 173.4h1.9v1.9h-1.9zM210.4 175.3h1.9v1.9h-1.9zM210.7 177.7h1.9v1.9h-1.9zM211.2 175.9h1.9v1.9h-1.9zM211.3 171.4h1.9v1.9h-1.9zM212.0 168.5h1.9v1.9h-1.9zM212.0 179.0h1.9v1.9h-1.9zM213.2 179.2h1.9v1.9h-1.9zM213.3 174.0h1.9v1.9h-1.9zM213.9 180.2h1.9v1.9h-1.9zM213.8 172.9h1.9v1.9h-1.9zM214.6 168.2h1.9v1.9h-1.9zM214.9 181.8h1.9v1.9h-1.9zM215.1 173.3h1.9v1.9h-1.9zM215.0 167.4h1.9v1.9h-1.9zM216.7 174.9h1.9v1.9h-1.9zM216.6 177.1h1.9v1.9h-1.9zM216.4 169.8h1.9v1.9h-1.9zM217.0 179.7h1.9v1.9h-1.9zM217.8 174.2h1.9v1.9h-1.9zM218.0 175.9h1.9v1.9h-1.9zM218.3 174.9h1.9v1.9h-1.9zM218.7 170.4h1.9v1.9h-1.9zM219.6 178.6h1.9v1.9h-1.9zM220.0 188.8h1.9v1.9h-1.9zM220.4 171.3h1.9v1.9h-1.9zM221.2 180.4h1.9v1.9h-1.9zM221.3 175.9h1.9v1.9h-1.9zM221.2 174.8h1.9v1.9h-1.9zM222.0 178.5h1.9v1.9h-1.9zM222.1 169.6h1.9v1.9h-1.9zM222.6 178.0h1.9v1.9h-1.9zM223.2 179.2h1.9v1.9h-1.9zM223.7 173.1h1.9v1.9h-1.9zM224.2 176.5h1.9v1.9h-1.9zM224.4 172.0h1.9v1.9h-1.9zM224.5 172.4h1.9v1.9h-1.9zM224.8 177.7h1.9v1.9h-1.9zM225.6 168.6h1.9v1.9h-1.9zM226.0 176.4h1.9v1.9h-1.9zM226.6 171.1h1.9v1.9h-1.9zM227.0 171.6h1.9v1.9h-1.9zM227.6 169.9h1.9v1.9h-1.9zM227.7 178.2h1.9v1.9h-1.9zM227.9 173.0h1.9v1.9h-1.9zM228.7 176.7h1.9v1.9h-1.9zM229.1 173.2h1.9v1.9h-1.9zM229.5 164.9h1.9v1.9h-1.9zM229.8 178.6h1.9v1.9h-1.9zM230.2 172.6h1.9v1.9h-1.9zM230.9 172.8h1.9v1.9h-1.9zM231.3 173.0h1.9v1.9h-1.9zM231.7 172.3h1.9v1.9h-1.9zM231.8 184.7h1.9v1.9h-1.9zM232.8 174.2h1.9v1.9h-1.9zM232.8 176.4h1.9v1.9h-1.9zM233.3 167.2h1.9v1.9h-1.9zM233.8 175.8h1.9v1.9h-1.9zM234.4 176.6h1.9v1.9h-1.9zM234.9 172.7h1.9v1.9h-1.9zM234.5 178.0h1.9v1.9h-1.9zM235.3 175.1h1.9v1.9h-1.9zM235.5 169.9h1.9v1.9h-1.9zM236.4 176.2h1.9v1.9h-1.9zM236.7 171.7h1.9v1.9h-1.9zM237.6 170.2h1.9v1.9h-1.9zM237.3 175.0h1.9v1.9h-1.9zM237.9 174.4h1.9v1.9h-1.9zM238.6 178.6h1.9v1.9h-1.9zM238.6 179.7h1.9v1.9h-1.9zM238.9 173.5h1.9v1.9h-1.9zM239.1 177.5h1.9v1.9h-1.9zM239.6 170.3h1.9v1.9h-1.9zM240.4 183.3h1.9v1.9h-1.9zM240.7 178.3h1.9v1.9h-1.9zM241.2 179.0h1.9v1.9h-1.9zM241.5 175.7h1.9v1.9h-1.9zM242.0 173.7h1.9v1.9h-1.9zM242.8 173.6h1.9v1.9h-1.9zM242.8 176.9h1.9v1.9h-1.9zM243.3 172.9h1.9v1.9h-1.9zM243.7 172.2h1.9v1.9h-1.9zM244.6 170.5h1.9v1.9h-1.9zM244.5 174.4h1.9v1.9h-1.9zM245.0 172.3h1.9v1.9h-1.9zM245.8 180.9h1.9v1.9h-1.9zM246.1 170.4h1.9v1.9h-1.9zM245.9 176.5h1.9v1.9h-1.9zM247.3 175.5h1.9v1.9h-1.9zM246.8 173.4h1.9v1.9h-1.9zM247.8 172.5h1.9v1.9h-1.9zM247.8 173.3h1.9v1.9h-1.9zM248.1 172.4h1.9v1.9h-1.9zM248.5 167.6h1.9v1.9h-1.9zM249.0 172.7h1.9v1.9h-1.9zM250.0 177.6h1.9v1.9h-1.9zM250.0 179.3h1.9v1.9h-1.9zM250.8 171.4h1.9v1.9h-1.9zM250.6 169.1h1.9v1.9h-1.9zM251.8 171.3h1.9v1.9h-1.9zM251.6 174.7h1.9v1.9h-1.9zM252.2 178.5h1.9v1.9h-1.9zM252.6 182.8h1.9v1.9h-1.9zM253.0 177.1h1.9v1.9h-1.9zM253.5 178.3h1.9v1.9h-1.9zM253.8 172.0h1.9v1.9h-1.9zM254.2 180.3h1.9v1.9h-1.9zM254.9 165.9h1.9v1.9h-1.9zM254.8 171.7h1.9v1.9h-1.9zM255.4 178.7h1.9v1.9h-1.9zM255.9 176.2h1.9v1.9h-1.9zM256.8 175.1h1.9v1.9h-1.9zM256.4 179.6h1.9v1.9h-1.9zM257.0 172.9h1.9v1.9h-1.9zM257.7 179.3h1.9v1.9h-1.9zM257.8 178.6h1.9v1.9h-1.9zM258.1 175.1h1.9v1.9h-1.9zM258.8 174.7h1.9v1.9h-1.9zM259.4 173.7h1.9v1.9h-1.9zM259.7 180.6h1.9v1.9h-1.9zM260.2 180.9h1.9v1.9h-1.9zM260.5 174.8h1.9v1.9h-1.9zM260.7 180.3h1.9v1.9h-1.9zM261.1 182.4h1.9v1.9h-1.9zM261.7 177.3h1.9v1.9h-1.9zM262.2 178.1h1.9v1.9h-1.9zM262.7 180.3h1.9v1.9h-1.9zM262.9 173.2h1.9v1.9h-1.9zM263.5 175.1h1.9v1.9h-1.9zM263.8 172.9h1.9v1.9h-1.9zM264.6 181.0h1.9v1.9h-1.9zM264.7 184.3h1.9v1.9h-1.9zM265.1 175.9h1.9v1.9h-1.9zM265.6 181.0h1.9v1.9h-1.9zM266.1 179.0h1.9v1.9h-1.9zM266.3 183.0h1.9v1.9h-1.9zM267.0 177.1h1.9v1.9h-1.9zM267.8 180.4h1.9v1.9h-1.9zM267.8 178.8h1.9v1.9h-1.9zM268.6 177.7h1.9v1.9h-1.9zM268.7 185.8h1.9v1.9h-1.9zM268.9 183.1h1.9v1.9h-1.9zM269.6 179.7h1.9v1.9h-1.9zM269.3 184.7h1.9v1.9h-1.9zM270.5 188.3h1.9v1.9h-1.9zM270.7 183.1h1.9v1.9h-1.9zM270.9 181.0h1.9v1.9h-1.9zM271.0 188.6h1.9v1.9h-1.9zM271.5 186.5h1.9v1.9h-1.9zM272.6 183.5h1.9v1.9h-1.9zM273.2 180.5h1.9v1.9h-1.9zM273.1 188.7h1.9v1.9h-1.9zM273.7 182.5h1.9v1.9h-1.9zM274.2 189.9h1.9v1.9h-1.9zM274.1 189.1h1.9v1.9h-1.9zM274.7 183.7h1.9v1.9h-1.9zM275.7 193.8h1.9v1.9h-1.9zM275.6 194.1h1.9v1.9h-1.9zM275.8 191.1h1.9v1.9h-1.9zM276.6 190.4h1.9v1.9h-1.9zM276.7 195.2h1.9v1.9h-1.9zM277.5 190.1h1.9v1.9h-1.9zM277.9 186.7h1.9v1.9h-1.9zM277.8 193.8h1.9v1.9h-1.9zM279.0 204.9h1.9v1.9h-1.9zM279.5 192.4h1.9v1.9h-1.9zM279.1 192.3h1.9v1.9h-1.9zM279.8 194.6h1.9v1.9h-1.9zM280.7 191.6h1.9v1.9h-1.9zM280.5 176.8h1.9v1.9h-1.9zM281.2 196.5h1.9v1.9h-1.9zM281.8 189.2h1.9v1.9h-1.9zM281.6 189.4h1.9v1.9h-1.9zM282.3 195.4h1.9v1.9h-1.9zM282.3 197.4h1.9v1.9h-1.9zM283.2 188.3h1.9v1.9h-1.9zM283.8 193.4h1.9v1.9h-1.9zM283.8 190.1h1.9v1.9h-1.9zM284.4 202.1h1.9v1.9h-1.9zM284.7 199.9h1.9v1.9h-1.9zM285.6 194.8h1.9v1.9h-1.9zM285.8 191.7h1.9v1.9h-1.9zM286.1 199.4h1.9v1.9h-1.9zM287.0 190.2h1.9v1.9h-1.9zM287.6 198.3h1.9v1.9h-1.9zM287.3 192.2h1.9v1.9h-1.9zM288.2 196.5h1.9v1.9h-1.9zM287.9 188.9h1.9v1.9h-1.9zM288.8 198.6h1.9v1.9h-1.9zM289.4 193.1h1.9v1.9h-1.9zM289.7 196.7h1.9v1.9h-1.9zM290.2 196.3h1.9v1.9h-1.9zM289.9 198.5h1.9v1.9h-1.9zM290.6 192.0h1.9v1.9h-1.9zM291.2 202.3h1.9v1.9h-1.9zM291.6 199.1h1.9v1.9h-1.9zM291.5 200.4h1.9v1.9h-1.9zM292.4 197.8h1.9v1.9h-1.9zM292.8 198.9h1.9v1.9h-1.9zM293.1 203.9h1.9v1.9h-1.9zM293.2 188.5h1.9v1.9h-1.9zM294.3 193.5h1.9v1.9h-1.9zM294.7 193.4h1.9v1.9h-1.9zM294.6 197.8h1.9v1.9h-1.9zM295.1 196.5h1.9v1.9h-1.9zM295.5 204.5h1.9v1.9h-1.9zM296.2 198.0h1.9v1.9h-1.9zM296.3 204.9h1.9v1.9h-1.9zM296.9 197.9h1.9v1.9h-1.9zM297.4 203.2h1.9v1.9h-1.9zM297.8 202.6h1.9v1.9h-1.9zM298.4 195.7h1.9v1.9h-1.9zM298.8 204.8h1.9v1.9h-1.9zM298.8 207.8h1.9v1.9h-1.9zM299.8 203.2h1.9v1.9h-1.9zM299.9 202.6h1.9v1.9h-1.9zM300.3 197.1h1.9v1.9h-1.9zM300.8 205.6h1.9v1.9h-1.9zM301.5 200.5h1.9v1.9h-1.9zM301.4 202.6h1.9v1.9h-1.9zM302.0 204.9h1.9v1.9h-1.9zM302.6 202.8h1.9v1.9h-1.9zM303.0 204.3h1.9v1.9h-1.9zM303.4 207.1h1.9v1.9h-1.9zM303.7 202.7h1.9v1.9h-1.9zM304.4 206.9h1.9v1.9h-1.9zM304.6 204.3h1.9v1.9h-1.9zM305.0 205.5h1.9v1.9h-1.9zM305.4 210.2h1.9v1.9h-1.9zM305.9 209.0h1.9v1.9h-1.9zM306.5 212.8h1.9v1.9h-1.9zM306.9 207.7h1.9v1.9h-1.9zM307.0 207.1h1.9v1.9h-1.9zM307.7 207.1h1.9v1.9h-1.9zM307.6 212.6h1.9v1.9h-1.9zM308.2 203.9h1.9v1.9h-1.9zM308.7 209.8h1.9v1.9h-1.9zM308.9 208.9h1.9v1.9h-1.9zM310.0 202.9h1.9v1.9h-1.9zM310.4 203.3h1.9v1.9h-1.9zM310.4 207.8h1.9v1.9h-1.9zM310.9 208.5h1.9v1.9h-1.9zM311.4 212.5h1.9v1.9h-1.9zM311.9 210.2h1.9v1.9h-1.9zM312.2 205.0h1.9v1.9h-1.9zM312.4 206.2h1.9v1.9h-1.9zM312.6 202.2h1.9v1.9h-1.9zM313.2 203.0h1.9v1.9h-1.9zM314.2 209.4h1.9v1.9h-1.9zM314.4 213.0h1.9v1.9h-1.9zM314.6 208.5h1.9v1.9h-1.9zM315.3 208.1h1.9v1.9h-1.9zM315.8 211.3h1.9v1.9h-1.9zM315.7 205.7h1.9v1.9h-1.9zM316.7 211.6h1.9v1.9h-1.9zM316.8 212.9h1.9v1.9h-1.9zM317.4 206.7h1.9v1.9h-1.9zM317.6 212.3h1.9v1.9h-1.9zM318.4 213.4h1.9v1.9h-1.9zM318.3 206.9h1.9v1.9h-1.9zM319.1 212.5h1.9v1.9h-1.9zM319.0 209.8h1.9v1.9h-1.9zM319.7 206.9h1.9v1.9h-1.9zM320.2 206.3h1.9v1.9h-1.9zM320.8 218.1h1.9v1.9h-1.9zM321.1 205.9h1.9v1.9h-1.9zM321.4 214.1h1.9v1.9h-1.9zM321.8 219.3h1.9v1.9h-1.9zM322.1 209.3h1.9v1.9h-1.9zM322.5 217.5h1.9v1.9h-1.9zM323.2 214.3h1.9v1.9h-1.9zM323.7 214.5h1.9v1.9h-1.9zM323.9 213.4h1.9v1.9h-1.9zM324.2 212.2h1.9v1.9h-1.9zM324.5 211.9h1.9v1.9h-1.9zM325.0 206.0h1.9v1.9h-1.9zM325.4 212.0h1.9v1.9h-1.9zM326.7 210.1h1.9v1.9h-1.9zM326.1 216.9h1.9v1.9h-1.9zM327.1 214.2h1.9v1.9h-1.9zM327.3 213.6h1.9v1.9h-1.9zM327.9 212.4h1.9v1.9h-1.9zM328.1 209.6h1.9v1.9h-1.9zM328.8 212.2h1.9v1.9h-1.9zM329.0 216.7h1.9v1.9h-1.9zM329.5 218.2h1.9v1.9h-1.9zM329.8 211.7h1.9v1.9h-1.9zM330.5 213.8h1.9v1.9h-1.9zM331.2 206.8h1.9v1.9h-1.9zM331.1 218.7h1.9v1.9h-1.9zM331.7 210.3h1.9v1.9h-1.9zM331.9 219.3h1.9v1.9h-1.9zM332.3 216.8h1.9v1.9h-1.9zM332.7 222.0h1.9v1.9h-1.9zM333.0 222.9h1.9v1.9h-1.9zM333.5 207.9h1.9v1.9h-1.9zM334.1 225.0h1.9v1.9h-1.9zM334.4 209.8h1.9v1.9h-1.9zM335.1 216.0h1.9v1.9h-1.9zM335.3 220.3h1.9v1.9h-1.9zM335.7 218.3h1.9v1.9h-1.9zM336.0 223.3h1.9v1.9h-1.9zM336.4 215.3h1.9v1.9h-1.9zM336.8 220.9h1.9v1.9h-1.9zM337.3 218.6h1.9v1.9h-1.9zM337.6 221.5h1.9v1.9h-1.9zM338.1 221.0h1.9v1.9h-1.9zM338.2 220.5h1.9v1.9h-1.9zM339.1 220.1h1.9v1.9h-1.9zM339.7 215.8h1.9v1.9h-1.9zM339.5 224.5h1.9v1.9h-1.9zM340.5 223.0h1.9v1.9h-1.9zM340.8 219.1h1.9v1.9h-1.9zM341.0 220.5h1.9v1.9h-1.9zM341.7 216.2h1.9v1.9h-1.9zM341.8 216.1h1.9v1.9h-1.9zM342.1 217.3h1.9v1.9h-1.9zM342.8 221.3h1.9v1.9h-1.9zM343.3 226.4h1.9v1.9h-1.9zM343.5 215.9h1.9v1.9h-1.9zM344.3 218.4h1.9v1.9h-1.9zM344.1 210.9h1.9v1.9h-1.9zM344.8 224.9h1.9v1.9h-1.9zM345.3 210.9h1.9v1.9h-1.9zM346.1 221.1h1.9v1.9h-1.9zM346.5 221.9h1.9v1.9h-1.9zM346.8 219.8h1.9v1.9h-1.9zM347.1 222.3h1.9v1.9h-1.9zM347.7 216.5h1.9v1.9h-1.9zM347.5 221.0h1.9v1.9h-1.9zM348.2 220.3h1.9v1.9h-1.9zM348.9 215.4h1.9v1.9h-1.9zM348.9 211.5h1.9v1.9h-1.9zM349.5 216.7h1.9v1.9h-1.9zM349.7 212.6h1.9v1.9h-1.9zM350.6 222.2h1.9v1.9h-1.9zM350.5 220.4h1.9v1.9h-1.9zM351.5 221.4h1.9v1.9h-1.9zM351.4 220.0h1.9v1.9h-1.9zM352.3 226.3h1.9v1.9h-1.9zM352.6 225.0h1.9v1.9h-1.9zM353.2 218.9h1.9v1.9h-1.9zM353.4 238.2h1.9v1.9h-1.9zM353.4 219.4h1.9v1.9h-1.9zM353.9 220.3h1.9v1.9h-1.9zM354.5 229.2h1.9v1.9h-1.9zM354.7 221.6h1.9v1.9h-1.9zM355.5 225.4h1.9v1.9h-1.9zM356.0 224.9h1.9v1.9h-1.9zM356.7 218.6h1.9v1.9h-1.9zM356.6 229.1h1.9v1.9h-1.9zM356.8 229.4h1.9v1.9h-1.9zM357.9 222.8h1.9v1.9h-1.9zM357.9 221.5h1.9v1.9h-1.9zM358.4 243.9h1.9v1.9h-1.9zM359.0 223.6h1.9v1.9h-1.9zM358.9 220.9h1.9v1.9h-1.9zM359.3 222.3h1.9v1.9h-1.9zM360.2 222.6h1.9v1.9h-1.9zM360.2 228.3h1.9v1.9h-1.9zM360.4 228.4h1.9v1.9h-1.9zM361.6 228.2h1.9v1.9h-1.9zM361.6 224.8h1.9v1.9h-1.9zM362.0 227.9h1.9v1.9h-1.9zM362.8 220.7h1.9v1.9h-1.9zM362.7 227.7h1.9v1.9h-1.9zM363.1 224.0h1.9v1.9h-1.9zM363.5 225.6h1.9v1.9h-1.9zM364.0 227.9h1.9v1.9h-1.9zM364.6 223.5h1.9v1.9h-1.9zM365.2 224.5h1.9v1.9h-1.9zM365.4 230.7h1.9v1.9h-1.9zM365.6 225.5h1.9v1.9h-1.9zM366.0 223.2h1.9v1.9h-1.9zM366.8 230.6h1.9v1.9h-1.9zM367.5 229.0h1.9v1.9h-1.9zM367.6 225.6h1.9v1.9h-1.9zM367.8 234.2h1.9v1.9h-1.9zM368.5 226.1h1.9v1.9h-1.9zM368.4 228.2h1.9v1.9h-1.9zM369.1 235.7h1.9v1.9h-1.9zM369.8 227.1h1.9v1.9h-1.9zM370.5 231.4h1.9v1.9h-1.9zM370.7 226.4h1.9v1.9h-1.9zM371.3 232.5h1.9v1.9h-1.9zM371.6 228.2h1.9v1.9h-1.9zM371.3 230.8h1.9v1.9h-1.9zM371.9 227.5h1.9v1.9h-1.9zM373.0 227.5h1.9v1.9h-1.9zM373.4 225.2h1.9v1.9h-1.9zM373.6 231.4h1.9v1.9h-1.9zM373.7 231.6h1.9v1.9h-1.9zM374.4 226.8h1.9v1.9h-1.9zM374.2 235.7h1.9v1.9h-1.9zM375.3 227.7h1.9v1.9h-1.9zM376.0 229.5h1.9v1.9h-1.9zM376.0 226.7h1.9v1.9h-1.9zM375.8 224.8h1.9v1.9h-1.9zM376.8 226.2h1.9v1.9h-1.9zM377.2 232.3h1.9v1.9h-1.9zM377.7 237.6h1.9v1.9h-1.9zM378.3 225.7h1.9v1.9h-1.9zM378.4 231.9h1.9v1.9h-1.9zM378.9 232.5h1.9v1.9h-1.9zM379.4 229.1h1.9v1.9h-1.9zM380.3 227.7h1.9v1.9h-1.9zM380.3 236.3h1.9v1.9h-1.9zM381.0 234.0h1.9v1.9h-1.9zM381.2 239.3h1.9v1.9h-1.9zM381.2 230.5h1.9v1.9h-1.9zM381.8 230.9h1.9v1.9h-1.9zM382.2 235.1h1.9v1.9h-1.9zM382.9 236.3h1.9v1.9h-1.9zM383.1 227.5h1.9v1.9h-1.9zM383.5 229.9h1.9v1.9h-1.9zM384.3 235.4h1.9v1.9h-1.9zM384.4 233.5h1.9v1.9h-1.9zM385.6 238.5h1.9v1.9h-1.9zM385.6 230.9h1.9v1.9h-1.9zM385.7 234.8h1.9v1.9h-1.9zM386.3 233.7h1.9v1.9h-1.9zM386.8 230.9h1.9v1.9h-1.9zM386.7 235.5h1.9v1.9h-1.9zM387.4 228.9h1.9v1.9h-1.9zM387.8 236.7h1.9v1.9h-1.9zM388.1 232.7h1.9v1.9h-1.9zM388.7 234.2h1.9v1.9h-1.9zM389.0 222.7h1.9v1.9h-1.9zM389.6 232.4h1.9v1.9h-1.9zM390.0 231.7h1.9v1.9h-1.9zM390.4 233.8h1.9v1.9h-1.9zM390.8 231.5h1.9v1.9h-1.9zM391.5 228.1h1.9v1.9h-1.9zM391.6 232.2h1.9v1.9h-1.9zM392.0 233.9h1.9v1.9h-1.9zM392.3 229.0h1.9v1.9h-1.9zM392.6 240.4h1.9v1.9h-1.9zM393.1 240.4h1.9v1.9h-1.9zM393.7 236.7h1.9v1.9h-1.9zM393.9 219.7h1.9v1.9h-1.9zM94.0 86.4h1.9v1.9h-1.9zM97.7 169.3h1.9v1.9h-1.9zM77.4 198.2h1.9v1.9h-1.9zM82.4 114.9h1.9v1.9h-1.9zM97.1 203.1h1.9v1.9h-1.9zM73.7 207.0h1.9v1.9h-1.9zM74.1 173.3h1.9v1.9h-1.9zM83.3 197.3h1.9v1.9h-1.9zM106.6 97.2h1.9v1.9h-1.9zM82.0 196.5h1.9v1.9h-1.9zM80.3 106.4h1.9v1.9h-1.9zM83.0 89.8h1.9v1.9h-1.9zM74.3 194.9h1.9v1.9h-1.9zM98.3 188.8h1.9v1.9h-1.9zM72.4 168.8h1.9v1.9h-1.9zM81.9 170.8h1.9v1.9h-1.9zM78.3 122.5h1.9v1.9h-1.9zM103.1 173.8h1.9v1.9h-1.9zM88.8 150.5h1.9v1.9h-1.9zM77.0 141.2h1.9v1.9h-1.9zM101.1 194.6h1.9v1.9h-1.9zM72.9 186.3h1.9v1.9h-1.9z"/>
<path fill="#3d0a9e" d="M72.3 141.1h1.9v1.9h-1.9zM72.6 97.7h1.9v1.9h-1.9zM73.1 144.0h1.9v1.9h-1.9zM73.7 111.5h1.9v1.9h-1.9zM74.1 146.1h1.9v1.9h-1.9zM74.4 173.7h1.9v1.9h-1.9zM74.4 53.0h1.9v1.9h-1.9zM75.4 130.4h1.9v1.9h-1.9zM75.1 148.4h1.9v1.9h-1.9zM76.2 117.1h1.9v1.9h-1.9zM76.6 73.2h1.9v1.9h-1.9zM77.3 98.3h1.9v1.9h-1.9zM77.7 64.0h1.9v1.9h-1.9zM77.9 116.3h1.9v1.9h-1.9zM78.3 144.2h1.9v1.9h-1.9zM78.9 198.8h1.9v1.9h-1.9zM79.6 146.5h1.9v1.9h-1.9zM79.5 210.8h1.9v1.9h-1.9zM80.1 165.2h1.9v1.9h-1.9zM80.7 139.1h1.9v1.9h-1.9zM80.7 114.9h1.9v1.9h-1.9zM81.1 146.9h1.9v1.9h-1.9zM81.9 134.3h1.9v1.9h-1.9zM82.2 91.1h1.9v1.9h-1.9zM82.4 66.4h1.9v1.9h-1.9zM82.8 189.6h1.9v1.9h-1.9zM83.7 128.7h1.9v1.9h-1.9zM83.8 126.9h1.9v1.9h-1.9zM83.9 138.4h1.9v1.9h-1.9zM84.9 142.8h1.9v1.9h-1.9zM85.2 166.8h1.9v1.9h-1.9zM85.4 132.4h1.9v1.9h-1.9zM85.9 165.0h1.9v1.9h-1.9zM86.2 88.2h1.9v1.9h-1.9zM87.2 116.2h1.9v1.9h-1.9zM87.1 119.8h1.9v1.9h-1.9zM87.5 164.4h1.9v1.9h-1.9zM87.7 171.9h1.9v1.9h-1.9zM88.1 147.7h1.9v1.9h-1.9zM89.0 159.3h1.9v1.9h-1.9zM89.0 158.1h1.9v1.9h-1.9zM89.3 149.5h1.9v1.9h-1.9zM90.2 165.0h1.9v1.9h-1.9zM90.2 103.0h1.9v1.9h-1.9zM90.5 178.9h1.9v1.9h-1.9zM91.3 193.3h1.9v1.9h-1.9zM91.5 150.6h1.9v1.9h-1.9zM92.1 190.5h1.9v1.9h-1.9zM92.2 139.1h1.9v1.9h-1.9zM93.2 196.5h1.9v1.9h-1.9zM93.3 164.0h1.9v1.9h-1.9zM94.2 150.1h1.9v1.9h-1.9zM93.9 156.3h1.9v1.9h-1.9zM94.5 146.5h1.9v1.9h-1.9zM94.9 141.6h1.9v1.9h-1.9zM95.4 204.0h1.9v1.9h-1.9zM96.1 154.4h1.9v1.9h-1.9zM96.1 169.9h1.9v1.9h-1.9zM96.7 181.8h1.9v1.9h-1.9zM97.5 146.0h1.9v1.9h-1.9zM97.6 160.7h1.9v1.9h-1.9zM98.2 163.0h1.9v1.9h-1.9zM98.4 158.8h1.9v1.9h-1.9zM98.9 199.4h1.9v1.9h-1.9zM99.5 162.6h1.9v1.9h-1.9zM99.8 219.3h1.9v1.9h-1.9zM100.3 191.4h1.9v1.9h-1.9zM100.2 166.7h1.9v1.9h-1.9zM101.2 213.5h1.9v1.9h-1.9zM101.1 212.8h1.9v1.9h-1.9zM101.5 144.7h1.9v1.9h-1.9zM101.8 176.7h1.9v1.9h-1.9zM102.6 138.6h1.9v1.9h-1.9zM102.8 172.7h1.9v1.9h-1.9zM103.2 150.6h1.9v1.9h-1.9zM103.9 148.7h1.9v1.9h-1.9zM104.1 183.4h1.9v1.9h-1.9zM104.8 159.9h1.9v1.9h-1.9zM105.2 148.3h1.9v1.9h-1.9zM105.8 207.2h1.9v1.9h-1.9zM105.6 173.5h1.9v1.9h-1.9zM106.4 167.4h1.9v1.9h-1.9zM107.1 174.9h1.9v1.9h-1.9zM107.1 172.8h1.9v1.9h-1.9zM107.5 145.0h1.9v1.9h-1.9zM108.1 164.5h1.9v1.9h-1.9zM108.8 155.4h1.9v1.9h-1.9zM108.9 172.3h1.9v1.9h-1.9zM109.5 170.0h1.9v1.9h-1.9zM109.9 171.2h1.9v1.9h-1.9zM109.9 159.4h1.9v1.9h-1.9zM110.3 164.8h1.9v1.9h-1.9zM110.9 184.6h1.9v1.9h-1.9zM110.8 172.3h1.9v1.9h-1.9zM111.9 165.0h1.9v1.9h-1.9zM112.2 149.7h1.9v1.9h-1.9zM112.7 171.3h1.9v1.9h-1.9zM113.0 172.7h1.9v1.9h-1.9zM113.8 139.2h1.9v1.9h-1.9zM114.0 163.2h1.9v1.9h-1.9zM114.3 155.2h1.9v1.9h-1.9zM114.9 152.3h1.9v1.9h-1.9zM115.1 150.0h1.9v1.9h-1.9zM115.7 161.9h1.9v1.9h-1.9zM116.1 145.1h1.9v1.9h-1.9zM116.4 152.9h1.9v1.9h-1.9zM116.5 143.4h1.9v1.9h-1.9zM117.6 142.0h1.9v1.9h-1.9zM117.4 137.2h1.9v1.9h-1.9zM118.3 150.7h1.9v1.9h-1.9zM118.6 135.8h1.9v1.9h-1.9zM119.5 132.2h1.9v1.9h-1.9zM119.2 133.5h1.9v1.9h-1.9zM119.6 136.9h1.9v1.9h-1.9zM120.5 140.4h1.9v1.9h-1.9zM120.8 139.8h1.9v1.9h-1.9zM121.0 139.9h1.9v1.9h-1.9zM121.9 122.7h1.9v1.9h-1.9zM121.7 131.5h1.9v1.9h-1.9zM122.3 123.2h1.9v1.9h-1.9zM122.7 124.2h1.9v1.9h-1.9zM123.2 121.0h1.9v1.9h-1.9zM123.8 120.8h1.9v1.9h-1.9zM124.1 116.8h1.9v1.9h-1.9zM124.7 107.1h1.9v1.9h-1.9zM124.5 114.6h1.9v1.9h-1.9zM125.5 106.8h1.9v1.9h-1.9zM125.5 126.1h1.9v1.9h-1.9zM126.1 101.4h1.9v1.9h-1.9zM126.3 99.7h1.9v1.9h-1.9zM127.3 106.5h1.9v1.9h-1.9zM127.4 99.3h1.9v1.9h-1.9zM127.5 98.4h1.9v1.9h-1.9zM128.2 93.3h1.9v1.9h-1.9zM128.2 98.2h1.9v1.9h-1.9zM129.2 93.4h1.9v1.9h-1.9zM129.6 93.8h1.9v1.9h-1.9zM130.1 89.7h1.9v1.9h-1.9zM130.7 94.9h1.9v1.9h-1.9zM130.7 94.5h1.9v1.9h-1.9zM131.8 88.9h1.9v1.9h-1.9zM131.4 89.8h1.9v1.9h-1.9zM131.9 90.3h1.9v1.9h-1.9zM132.7 92.5h1.9v1.9h-1.9zM132.7 89.4h1.9v1.9h-1.9zM133.2 85.7h1.9v1.9h-1.9zM133.5 83.7h1.9v1.9h-1.9zM134.4 81.4h1.9v1.9h-1.9zM134.4 79.9h1.9v1.9h-1.9zM134.8 81.4h1.9v1.9h-1.9zM135.5 90.0h1.9v1.9h-1.9zM136.0 83.1h1.9v1.9h-1.9zM136.2 82.9h1.9v1.9h-1.9zM136.7 79.0h1.9v1.9h-1.9zM137.1 86.1h1.9v1.9h-1.9zM137.2 75.8h1.9v1.9h-1.9zM137.9 67.1h1.9v1.9h-1.9zM138.1 85.6h1.9v1.9h-1.9zM138.8 78.5h1.9v1.9h-1.9zM139.3 78.0h1.9v1.9h-1.9zM139.3 77.9h1.9v1.9h-1.9zM140.5 76.0h1.9v1.9h-1.9zM140.4 79.1h1.9v1.9h-1.9zM141.3 80.6h1.9v1.9h-1.9zM141.0 76.0h1.9v1.9h-1.9zM141.9 74.7h1.9v1.9h-1.9zM142.0 75.9h1.9v1.9h-1.9zM142.7 84.5h1.9v1.9h-1.9zM142.7 75.2h1.9v1.9h-1.9zM143.1 76.8h1.9v1.9h-1.9zM143.7 84.2h1.9v1.9h-1.9zM144.1 75.8h1.9v1.9h-1.9zM144.6 78.9h1.9v1.9h-1.9zM145.0 74.9h1.9v1.9h-1.9zM145.4 83.9h1.9v1.9h-1.9zM145.7 76.3h1.9v1.9h-1.9zM146.0 76.4h1.9v1.9h-1.9zM146.8 81.5h1.9v1.9h-1.9zM146.9 78.6h1.9v1.9h-1.9zM147.6 78.4h1.9v1.9h-1.9zM148.0 79.4h1.9v1.9h-1.9zM148.3 74.5h1.9v1.9h-1.9zM148.9 71.8h1.9v1.9h-1.9zM149.2 79.0h1.9v1.9h-1.9zM149.5 71.8h1.9v1.9h-1.9zM150.1 80.2h1.9v1.9h-1.9zM150.4 80.7h1.9v1.9h-1.9zM151.0 82.4h1.9v1.9h-1.9zM151.4 81.6h1.9v1.9h-1.9zM151.9 78.6h1.9v1.9h-1.9zM151.8 83.0h1.9v1.9h-1.9zM152.9 83.7h1.9v1.9h-1.9zM153.3 83.0h1.9v1.9h-1.9zM153.5 82.0h1.9v1.9h-1.9zM153.7 77.4h1.9v1.9h-1.9zM154.4 88.0h1.9v1.9h-1.9zM154.7 90.2h1.9v1.9h-1.9zM155.0 83.2h1.9v1.9h-1.9zM155.6 86.2h1.9v1.9h-1.9zM156.0 88.8h1.9v1.9h-1.9zM156.7 88.4h1.9v1.9h-1.9zM156.9 87.7h1.9v1.9h-1.9zM157.4 83.1h1.9v1.9h-1.9zM157.2 87.2h1.9v1.9h-1.9zM157.9 86.7h1.9v1.9h-1.9zM158.7 80.4h1.9v1.9h-1.9zM158.9 91.0h1.9v1.9h-1.9zM159.3 93.2h1.9v1.9h-1.9zM160.2 93.2h1.9v1.9h-1.9zM160.2 96.3h1.9v1.9h-1.9zM160.6 96.0h1.9v1.9h-1.9zM161.0 97.5h1.9v1.9h-1.9zM161.8 95.0h1.9v1.9h-1.9zM161.6 96.1h1.9v1.9h-1.9zM162.5 95.8h1.9v1.9h-1.9zM162.5 102.3h1.9v1.9h-1.9zM162.7 100.8h1.9v1.9h-1.9zM163.7 104.5h1.9v1.9h-1.9zM163.9 100.1h1.9v1.9h-1.9zM164.2 112.0h1.9v1.9h-1.9zM165.0 105.0h1.9v1.9h-1.9zM165.2 106.4h1.9v1.9h-1.9zM165.7 105.3h1.9v1.9h-1.9zM165.9 111.1h1.9v1.9h-1.9zM167.0 113.4h1.9v1.9h-1.9zM167.3 110.3h1.9v1.9h-1.9zM167.3 110.7h1.9v1.9h-1.9zM167.3 113.9h1.9v1.9h-1.9zM168.0 108.0h1.9v1.9h-1.9zM168.7 113.9h1.9v1.9h-1.9zM168.8 114.1h1.9v1.9h-1.9zM169.7 115.1h1.9v1.9h-1.9zM169.7 117.3h1.9v1.9h-1.9zM169.9 117.6h1.9v1.9h-1.9zM171.3 115.6h1.9v1.9h-1.9zM171.3 124.0h1.9v1.9h-1.9zM171.4 129.1h1.9v1.9h-1.9zM172.1 127.0h1.9v1.9h-1.9zM172.8 121.7h1.9v1.9h-1.9zM172.3 126.7h1.9v1.9h-1.9zM173.3 128.0h1.9v1.9h-1.9zM173.2 129.2h1.9v1.9h-1.9zM173.9 129.1h1.9v1.9h-1.9zM173.9 126.5h1.9v1.9h-1.9zM175.1 134.2h1.9v1.9h-1.9zM174.8 138.1h1.9v1.9h-1.9zM175.6 128.4h1.9v1.9h-1.9zM176.2 133.0h1.9v1.9h-1.9zM176.5 128.1h1.9v1.9h-1.9zM176.8 133.5h1.9v1.9h-1.9zM177.4 133.3h1.9v1.9h-1.9zM178.1 143.3h1.9v1.9h-1.9zM178.6 143.1h1.9v1.9h-1.9zM178.6 138.0h1.9v1.9h-1.9zM179.0 139.4h1.9v1.9h-1.9zM180.1 135.9h1.9v1.9h-1.9zM180.0 140.4h1.9v1.9h-1.9zM180.3 144.1h1.9v1.9h-1.9zM180.8 145.6h1.9v1.9h-1.9zM181.2 148.7h1.9v1.9h-1.9zM181.1 141.7h1.9v1.9h-1.9zM182.2 141.8h1.9v1.9h-1.9zM182.0 147.2h1.9v1.9h-1.9zM182.7 148.4h1.9v1.9h-1.9zM182.8 148.3h1.9v1.9h-1.9zM183.5 145.6h1.9v1.9h-1.9zM184.5 149.0h1.9v1.9h-1.9zM184.3 147.5h1.9v1.9h-1.9zM185.1 145.4h1.9v1.9h-1.9zM185.4 147.1h1.9v1.9h-1.9zM185.8 142.8h1.9v1.9h-1.9zM186.4 152.0h1.9v1.9h-1.9zM186.7 151.4h1.9v1.9h-1.9zM186.7 153.3h1.9v1.9h-1.9zM187.5 151.8h1.9v1.9h-1.9zM187.9 148.0h1.9v1.9h-1.9zM188.2 149.1h1.9v1.9h-1.9zM188.8 153.8h1.9v1.9h-1.9zM189.0 152.3h1.9v1.9h-1.9zM190.2 155.0h1.9v1.9h-1.9zM189.8 152.0h1.9v1.9h-1.9zM190.3 159.1h1.9v1.9h-1.9zM190.6 156.6h1.9v1.9h-1.9zM190.9 155.4h1.9v1.9h-1.9zM191.6 154.3h1.9v1.9h-1.9zM192.3 151.6h1.9v1.9h-1.9zM192.3 163.1h1.9v1.9h-1.9zM192.6 161.4h1.9v1.9h-1.9zM193.4 156.5h1.9v1.9h-1.9zM194.0 164.2h1.9v1.9h-1.9zM194.8 155.4h1.9v1.9h-1.9zM194.6 163.6h1.9v1.9h-1.9zM194.9 162.3h1.9v1.9h-1.9zM195.5 147.3h1.9v1.9h-1.9zM195.9 162.3h1.9v1.9h-1.9zM196.5 165.3h1.9v1.9h-1.9zM196.8 170.4h1.9v1.9h-1.9zM196.9 163.6h1.9v1.9h-1.9zM197.7 163.0h1.9v1.9h-1.9zM197.9 162.1h1.9v1.9h-1.9zM198.1 164.5h1.9v1.9h-1.9zM198.6 164.4h1.9v1.9h-1.9zM199.0 163.9h1.9v1.9h-1.9zM199.9 165.8h1.9v1.9h-1.9zM200.0 174.1h1.9v1.9h-1.9zM200.5 168.6h1.9v1.9h-1.9zM201.2 171.9h1.9v1.9h-1.9zM201.4 166.4h1.9v1.9h-1.9zM201.9 164.4h1.9v1.9h-1.9zM202.0 167.3h1.9v1.9h-1.9zM202.8 159.6h1.9v1.9h-1.9zM203.3 168.3h1.9v1.9h-1.9zM203.4 166.4h1.9v1.9h-1.9zM204.1 172.7h1.9v1.9h-1.9zM204.6 166.2h1.9v1.9h-1.9zM204.6 168.4h1.9v1.9h-1.9zM205.0 172.5h1.9v1.9h-1.9zM205.4 170.7h1.9v1.9h-1.9zM205.8 170.7h1.9v1.9h-1.9zM206.4 167.8h1.9v1.9h-1.9zM207.1 167.6h1.9v1.9h-1.9zM207.5 170.6h1.9v1.9h-1.9zM207.4 172.1h1.9v1.9h-1.9zM208.5 173.0h1.9v1.9h-1.9zM208.2 176.4h1.9v1.9h-1.9zM209.1 172.7h1.9v1.9h-1.9zM209.5 170.0h1.9v1.9h-1.9zM209.2 170.1h1.9v1.9h-1.9zM210.4 172.8h1.9v1.9h-1.9zM210.7 169.6h1.9v1.9h-1.9zM210.6 167.2h1.9v1.9h-1.9zM211.4 170.5h1.9v1.9h-1.9zM212.1 174.5h1.9v1.9h-1.9zM212.4 170.8h1.9v1.9h-1.9zM212.6 174.7h1.9v1.9h-1.9zM212.9 170.3h1.9v1.9h-1.9zM213.6 174.7h1.9v1.9h-1.9zM214.0 167.9h1.9v1.9h-1.9zM214.4 169.5h1.9v1.9h-1.9zM214.6 177.7h1.9v1.9h-1.9zM215.2 169.7h1.9v1.9h-1.9zM215.2 171.4h1.9v1.9h-1.9zM216.1 170.4h1.9v1.9h-1.9zM216.4 168.6h1.9v1.9h-1.9zM216.4 172.4h1.9v1.9h-1.9zM217.0 167.4h1.9v1.9h-1.9zM217.9 177.3h1.9v1.9h-1.9zM218.1 166.4h1.9v1.9h-1.9zM219.0 171.3h1.9v1.9h-1.9zM218.7 172.3h1.9v1.9h-1.9zM219.6 173.8h1.9v1.9h-1.9zM219.3 171.5h1.9v1.9h-1.9zM220.1 170.6h1.9v1.9h-1.9zM220.3 168.8h1.9v1.9h-1.9zM221.4 172.2h1.9v1.9h-1.9zM221.4 167.7h1.9v1.9h-1.9zM221.7 175.5h1.9v1.9h-1.9zM222.2 175.1h1.9v1.9h-1.9zM222.6 167.7h1.9v1.9h-1.9zM223.0 153.7h1.9v1.9h-1.9zM223.9 173.7h1.9v1.9h-1.9zM224.3 167.7h1.9v1.9h-1.9zM224.4 169.2h1.9v1.9h-1.9zM224.2 166.0h1.9v1.9h-1.9zM225.2 167.9h1.9v1.9h-1.9zM225.6 172.6h1.9v1.9h-1.9zM226.1 176.2h1.9v1.9h-1.9zM226.6 169.4h1.9v1.9h-1.9zM227.1 168.7h1.9v1.9h-1.9zM227.9 174.9h1.9v1.9h-1.9zM227.9 180.6h1.9v1.9h-1.9zM227.9 181.3h1.9v1.9h-1.9zM228.5 172.9h1.9v1.9h-1.9zM229.2 171.3h1.9v1.9h-1.9zM229.2 170.6h1.9v1.9h-1.9zM229.8 171.8h1.9v1.9h-1.9zM230.4 175.9h1.9v1.9h-1.9zM230.7 173.3h1.9v1.9h-1.9zM230.9 170.8h1.9v1.9h-1.9zM231.4 176.8h1.9v1.9h-1.9zM232.0 170.0h1.9v1.9h-1.9zM232.2 169.1h1.9v1.9h-1.9zM232.3 163.3h1.9v1.9h-1.9zM233.4 171.5h1.9v1.9h-1.9zM234.1 166.6h1.9v1.9h-1.9zM234.0 172.7h1.9v1.9h-1.9zM234.8 175.3h1.9v1.9h-1.9zM235.1 171.8h1.9v1.9h-1.9zM235.4 169.0h1.9v1.9h-1.9zM235.8 167.7h1.9v1.9h-1.9zM235.8 179.8h1.9v1.9h-1.9zM236.6 167.9h1.9v1.9h-1.9zM236.9 172.6h1.9v1.9h-1.9zM237.2 167.8h1.9v1.9h-1.9zM237.6 172.8h1.9v1.9h-1.9zM238.4 169.4h1.9v1.9h-1.9zM238.3 168.5h1.9v1.9h-1.9zM238.6 166.4h1.9v1.9h-1.9zM239.5 169.4h1.9v1.9h-1.9zM240.0 167.6h1.9v1.9h-1.9zM240.4 170.3h1.9v1.9h-1.9zM240.9 167.4h1.9v1.9h-1.9zM241.1 172.9h1.9v1.9h-1.9zM241.9 174.0h1.9v1.9h-1.9zM242.0 175.7h1.9v1.9h-1.9zM242.5 173.6h1.9v1.9h-1.9zM242.5 168.6h1.9v1.9h-1.9zM243.6 167.3h1.9v1.9h-1.9zM243.7 178.6h1.9v1.9h-1.9zM244.1 167.5h1.9v1.9h-1.9zM244.5 172.9h1.9v1.9h-1.9zM244.8 170.5h1.9v1.9h-1.9zM245.8 158.8h1.9v1.9h-1.9zM246.0 171.5h1.9v1.9h-1.9zM246.1 175.3h1.9v1.9h-1.9zM246.8 169.4h1.9v1.9h-1.9zM247.4 175.1h1.9v1.9h-1.9zM247.1 175.8h1.9v1.9h-1.9zM247.9 170.3h1.9v1.9h-1.9zM248.1 174.2h1.9v1.9h-1.9zM248.8 176.2h1.9v1.9h-1.9zM249.3 174.3h1.9v1.9h-1.9zM249.5 161.8h1.9v1.9h-1.9zM250.3 167.3h1.9v1.9h-1.9zM251.0 169.1h1.9v1.9h-1.9zM250.9 169.3h1.9v1.9h-1.9zM251.5 172.6h1.9v1.9h-1.9zM251.8 169.2h1.9v1.9h-1.9zM252.2 173.9h1.9v1.9h-1.9zM252.4 170.8h1.9v1.9h-1.9zM253.0 176.3h1.9v1.9h-1.9zM253.7 173.9h1.9v1.9h-1.9zM253.7 172.5h1.9v1.9h-1.9zM254.6 173.3h1.9v1.9h-1.9zM255.0 173.1h1.9v1.9h-1.9zM254.8 172.3h1.9v1.9h-1.9zM255.3 166.5h1.9v1.9h-1.9zM256.4 176.5h1.9v1.9h-1.9zM256.3 175.8h1.9v1.9h-1.9zM256.6 172.6h1.9v1.9h-1.9zM256.8 172.3h1.9v1.9h-1.9zM257.7 173.6h1.9v1.9h-1.9zM258.2 175.9h1.9v1.9h-1.9zM258.3 167.1h1.9v1.9h-1.9zM258.2 178.3h1.9v1.9h-1.9zM259.7 170.6h1.9v1.9h-1.9zM259.4 174.7h1.9v1.9h-1.9zM260.1 179.2h1.9v1.9h-1.9zM260.8 173.3h1.9v1.9h-1.9zM261.3 184.3h1.9v1.9h-1.9zM261.7 176.6h1.9v1.9h-1.9zM261.9 170.2h1.9v1.9h-1.9zM262.3 178.3h1.9v1.9h-1.9zM262.7 172.4h1.9v1.9h-1.9zM262.8 172.9h1.9v1.9h-1.9zM263.2 173.9h1.9v1.9h-1.9zM264.0 169.9h1.9v1.9h-1.9zM264.2 183.6h1.9v1.9h-1.9zM264.7 179.8h1.9v1.9h-1.9zM264.9 183.1h1.9v1.9h-1.9zM265.7 172.1h1.9v1.9h-1.9zM266.1 172.2h1.9v1.9h-1.9zM266.6 179.8h1.9v1.9h-1.9zM266.8 180.1h1.9v1.9h-1.9zM266.7 179.8h1.9v1.9h-1.9zM268.1 177.6h1.9v1.9h-1.9zM267.8 170.9h1.9v1.9h-1.9zM268.8 182.9h1.9v1.9h-1.9zM269.1 180.3h1.9v1.9h-1.9zM270.1 177.5h1.9v1.9h-1.9zM269.6 183.1h1.9v1.9h-1.9zM270.6 186.3h1.9v1.9h-1.9zM270.6 181.2h1.9v1.9h-1.9zM271.1 173.5h1.9v1.9h-1.9zM271.4 178.3h1.9v1.9h-1.9zM271.9 189.5h1.9v1.9h-1.9zM272.2 187.2h1.9v1.9h-1.9zM272.7 186.5h1.9v1.9h-1.9zM273.6 178.6h1.9v1.9h-1.9zM273.3 181.1h1.9v1.9h-1.9zM274.4 180.0h1.9v1.9h-1.9zM274.2 193.3h1.9v1.9h-1.9zM275.0 187.5h1.9v1.9h-1.9zM275.4 187.6h1.9v1.9h-1.9zM275.2 183.4h1.9v1.9h-1.9zM276.1 184.2h1.9v1.9h-1.9zM276.6 182.6h1.9v1.9h-1.9zM276.7 181.2h1.9v1.9h-1.9zM277.6 189.6h1.9v1.9h-1.9zM277.4 185.8h1.9v1.9h-1.9zM277.5 193.0h1.9v1.9h-1.9zM278.4 197.5h1.9v1.9h-1.9zM279.1 188.7h1.9v1.9h-1.9zM279.6 182.9h1.9v1.9h-1.9zM279.9 189.5h1.9v1.9h-1.9zM280.4 197.7h1.9v1.9h-1.9zM281.0 182.2h1.9v1.9h-1.9zM281.1 186.1h1.9v1.9h-1.9zM281.4 186.0h1.9v1.9h-1.9zM282.1 188.4h1.9v1.9h-1.9zM282.5 188.4h1.9v1.9h-1.9zM283.5 190.4h1.9v1.9h-1.9zM283.2 198.0h1.9v1.9h-1.9zM284.0 188.2h1.9v1.9h-1.9zM284.0 188.3h1.9v1.9h-1.9zM284.4 188.5h1.9v1.9h-1.9zM285.3 191.5h1.9v1.9h-1.9zM285.5 194.4h1.9v1.9h-1.9zM285.9 198.4h1.9v1.9h-1.9zM286.5 215.2h1.9v1.9h-1.9zM286.8 199.7h1.9v1.9h-1.9zM287.1 198.4h1.9v1.9h-1.9zM287.3 190.7h1.9v1.9h-1.9zM288.0 193.7h1.9v1.9h-1.9zM288.6 189.2h1.9v1.9h-1.9zM288.7 200.9h1.9v1.9h-1.9zM288.7 197.2h1.9v1.9h-1.9zM289.1 198.2h1.9v1.9h-1.9zM289.9 199.4h1.9v1.9h-1.9zM290.4 201.1h1.9v1.9h-1.9zM290.7 201.7h1.9v1.9h-1.9zM291.6 196.9h1.9v1.9h-1.9zM291.3 193.2h1.9v1.9h-1.9zM291.4 199.5h1.9v1.9h-1.9zM292.4 197.2h1.9v1.9h-1.9zM292.6 203.3h1.9v1.9h-1.9zM293.7 209.8h1.9v1.9h-1.9zM293.7 199.2h1.9v1.9h-1.9zM294.2 202.9h1.9v1.9h-1.9zM294.4 198.7h1.9v1.9h-1.9zM295.5 206.1h1.9v1.9h-1.9zM295.6 194.7h1.9v1.9h-1.9zM295.7 201.7h1.9v1.9h-1.9zM295.9 199.6h1.9v1.9h-1.9zM296.8 202.8h1.9v1.9h-1.9zM297.1 204.6h1.9v1.9h-1.9zM297.4 208.3h1.9v1.9h-1.9zM297.7 203.2h1.9v1.9h-1.9zM297.8 200.9h1.9v1.9h-1.9zM298.7 199.5h1.9v1.9h-1.9zM299.2 194.9h1.9v1.9h-1.9zM299.8 201.7h1.9v1.9h-1.9zM300.4 197.0h1.9v1.9h-1.9zM300.7 199.2h1.9v1.9h-1.9zM300.9 200.6h1.9v1.9h-1.9zM301.1 206.2h1.9v1.9h-1.9zM301.5 194.0h1.9v1.9h-1.9zM301.9 199.5h1.9v1.9h-1.9zM302.4 203.4h1.9v1.9h-1.9zM303.1 203.6h1.9v1.9h-1.9zM303.2 198.0h1.9v1.9h-1.9zM304.0 195.9h1.9v1.9h-1.9zM304.5 200.7h1.9v1.9h-1.9zM304.4 202.1h1.9v1.9h-1.9zM305.6 201.1h1.9v1.9h-1.9zM305.3 202.9h1.9v1.9h-1.9zM306.0 204.0h1.9v1.9h-1.9zM306.7 212.4h1.9v1.9h-1.9zM306.4 206.0h1.9v1.9h-1.9zM307.1 204.7h1.9v1.9h-1.9zM307.5 197.4h1.9v1.9h-1.9zM308.0 204.0h1.9v1.9h-1.9zM308.2 207.3h1.9v1.9h-1.9zM308.8 207.0h1.9v1.9h-1.9zM309.3 204.0h1.9v1.9h-1.9zM310.1 210.7h1.9v1.9h-1.9zM310.3 209.6h1.9v1.9h-1.9zM310.2 201.3h1.9v1.9h-1.9zM310.8 205.4h1.9v1.9h-1.9zM311.5 207.4h1.9v1.9h-1.9zM311.7 202.0h1.9v1.9h-1.9zM312.0 203.1h1.9v1.9h-1.9zM312.8 207.5h1.9v1.9h-1.9zM312.8 204.1h1.9v1.9h-1.9zM313.8 209.6h1.9v1.9h-1.9zM314.0 206.3h1.9v1.9h-1.9zM314.6 212.1h1.9v1.9h-1.9zM315.0 208.9h1.9v1.9h-1.9zM315.2 208.2h1.9v1.9h-1.9zM315.5 209.1h1.9v1.9h-1.9zM316.2 211.8h1.9v1.9h-1.9zM315.9 211.9h1.9v1.9h-1.9zM316.6 208.9h1.9v1.9h-1.9zM317.4 209.7h1.9v1.9h-1.9zM317.2 207.1h1.9v1.9h-1.9zM318.3 212.3h1.9v1.9h-1.9zM319.1 206.4h1.9v1.9h-1.9zM318.9 206.9h1.9v1.9h-1.9zM319.8 206.4h1.9v1.9h-1.9zM320.1 207.7h1.9v1.9h-1.9zM320.5 214.5h1.9v1.9h-1.9zM320.3 203.5h1.9v1.9h-1.9zM320.9 205.5h1.9v1.9h-1.9zM321.3 229.4h1.9v1.9h-1.9zM322.0 213.9h1.9v1.9h-1.9zM322.6 206.6h1.9v1.9h-1.9zM323.0 209.4h1.9v1.9h-1.9zM323.0 211.9h1.9v1.9h-1.9zM323.6 208.7h1.9v1.9h-1.9zM323.6 215.9h1.9v1.9h-1.9zM324.5 213.3h1.9v1.9h-1.9zM324.6 215.7h1.9v1.9h-1.9zM324.7 215.5h1.9v1.9h-1.9zM325.6 215.9h1.9v1.9h-1.9zM325.8 207.1h1.9v1.9h-1.9zM325.9 211.0h1.9v1.9h-1.9zM326.6 215.3h1.9v1.9h-1.9zM326.9 218.1h1.9v1.9h-1.9zM327.8 219.6h1.9v1.9h-1.9zM328.1 213.6h1.9v1.9h-1.9zM328.9 216.7h1.9v1.9h-1.9zM329.5 210.3h1.9v1.9h-1.9zM330.0 214.4h1.9v1.9h-1.9zM330.0 214.7h1.9v1.9h-1.9zM330.6 209.1h1.9v1.9h-1.9zM330.7 211.5h1.9v1.9h-1.9zM331.3 213.7h1.9v1.9h-1.9zM331.4 206.3h1.9v1.9h-1.9zM331.6 212.9h1.9v1.9h-1.9zM332.2 216.2h1.9v1.9h-1.9zM332.9 209.1h1.9v1.9h-1.9zM333.5 206.4h1.9v1.9h-1.9zM333.6 218.2h1.9v1.9h-1.9zM334.1 210.5h1.9v1.9h-1.9zM334.8 218.8h1.9v1.9h-1.9zM335.0 217.9h1.9v1.9h-1.9zM335.4 216.4h1.9v1.9h-1.9zM336.2 218.7h1.9v1.9h-1.9zM336.1 214.8h1.9v1.9h-1.9zM336.5 214.4h1.9v1.9h-1.9zM336.9 210.7h1.9v1.9h-1.9zM337.6 223.5h1.9v1.9h-1.9zM338.0 212.0h1.9v1.9h-1.9zM338.4 222.5h1.9v1.9h-1.9zM338.7 217.0h1.9v1.9h-1.9zM339.2 215.1h1.9v1.9h-1.9zM339.2 218.2h1.9v1.9h-1.9zM340.2 221.8h1.9v1.9h-1.9zM340.6 221.7h1.9v1.9h-1.9zM340.7 215.7h1.9v1.9h-1.9zM341.2 216.8h1.9v1.9h-1.9zM341.7 216.3h1.9v1.9h-1.9zM342.0 213.7h1.9v1.9h-1.9zM342.3 215.1h1.9v1.9h-1.9zM343.0 224.8h1.9v1.9h-1.9zM343.4 217.3h1.9v1.9h-1.9zM343.8 217.3h1.9v1.9h-1.9zM344.7 223.0h1.9v1.9h-1.9zM344.3 214.7h1.9v1.9h-1.9zM345.0 224.8h1.9v1.9h-1.9zM345.1 221.7h1.9v1.9h-1.9zM345.8 217.1h1.9v1.9h-1.9zM346.1 218.2h1.9v1.9h-1.9zM346.8 217.3h1.9v1.9h-1.9zM347.0 224.5h1.9v1.9h-1.9zM347.3 217.5h1.9v1.9h-1.9zM348.1 218.7h1.9v1.9h-1.9zM348.4 219.7h1.9v1.9h-1.9zM348.9 218.6h1.9v1.9h-1.9zM349.4 220.7h1.9v1.9h-1.9zM349.4 224.3h1.9v1.9h-1.9zM349.8 225.7h1.9v1.9h-1.9zM350.3 215.8h1.9v1.9h-1.9zM350.5 214.4h1.9v1.9h-1.9zM351.1 216.0h1.9v1.9h-1.9zM351.9 220.3h1.9v1.9h-1.9zM351.9 219.5h1.9v1.9h-1.9zM352.3 227.4h1.9v1.9h-1.9zM353.1 221.1h1.9v1.9h-1.9zM353.2 228.0h1.9v1.9h-1.9zM353.9 221.0h1.9v1.9h-1.9zM354.2 222.1h1.9v1.9h-1.9zM354.7 213.9h1.9v1.9h-1.9zM355.0 217.1h1.9v1.9h-1.9zM355.2 224.7h1.9v1.9h-1.9zM355.8 225.0h1.9v1.9h-1.9zM356.5 217.1h1.9v1.9h-1.9zM356.9 209.2h1.9v1.9h-1.9zM356.9 219.4h1.9v1.9h-1.9zM357.6 227.5h1.9v1.9h-1.9zM358.2 216.2h1.9v1.9h-1.9zM358.7 229.2h1.9v1.9h-1.9zM358.8 220.7h1.9v1.9h-1.9zM359.5 224.7h1.9v1.9h-1.9zM359.3 228.1h1.9v1.9h-1.9zM359.5 224.6h1.9v1.9h-1.9zM360.4 226.5h1.9v1.9h-1.9zM360.7 231.4h1.9v1.9h-1.9zM361.2 224.1h1.9v1.9h-1.9zM361.7 225.2h1.9v1.9h-1.9zM362.4 230.1h1.9v1.9h-1.9zM363.0 226.0h1.9v1.9h-1.9zM362.8 224.1h1.9v1.9h-1.9zM363.4 223.3h1.9v1.9h-1.9zM363.7 226.3h1.9v1.9h-1.9zM364.1 224.5h1.9v1.9h-1.9zM364.3 220.2h1.9v1.9h-1.9zM365.0 225.1h1.9v1.9h-1.9zM366.0 221.0h1.9v1.9h-1.9zM366.1 219.9h1.9v1.9h-1.9zM366.7 223.6h1.9v1.9h-1.9zM366.7 231.5h1.9v1.9h-1.9zM367.7 233.7h1.9v1.9h-1.9zM367.3 223.2h1.9v1.9h-1.9zM367.5 233.1h1.9v1.9h-1.9zM369.0 225.0h1.9v1.9h-1.9zM369.1 224.3h1.9v1.9h-1.9zM369.6 231.5h1.9v1.9h-1.9zM369.8 227.7h1.9v1.9h-1.9zM369.9 226.0h1.9v1.9h-1.9zM370.2 222.6h1.9v1.9h-1.9zM371.0 230.4h1.9v1.9h-1.9zM371.5 223.3h1.9v1.9h-1.9zM372.1 229.0h1.9v1.9h-1.9zM371.9 224.3h1.9v1.9h-1.9zM372.6 229.3h1.9v1.9h-1.9zM372.4 230.8h1.9v1.9h-1.9zM373.8 226.8h1.9v1.9h-1.9zM374.0 236.0h1.9v1.9h-1.9zM374.5 225.9h1.9v1.9h-1.9zM375.2 231.7h1.9v1.9h-1.9zM375.5 223.6h1.9v1.9h-1.9zM375.5 229.8h1.9v1.9h-1.9zM376.3 225.6h1.9v1.9h-1.9zM376.6 222.6h1.9v1.9h-1.9zM377.3 229.5h1.9v1.9h-1.9zM377.5 229.4h1.9v1.9h-1.9zM378.1 234.3h1.9v1.9h-1.9zM377.9 225.7h1.9v1.9h-1.9zM378.4 212.7h1.9v1.9h-1.9zM379.3 229.9h1.9v1.9h-1.9zM379.2 229.2h1.9v1.9h-1.9zM379.7 225.3h1.9v1.9h-1.9zM379.9 228.4h1.9v1.9h-1.9zM380.7 227.5h1.9v1.9h-1.9zM381.0 235.5h1.9v1.9h-1.9zM381.1 222.7h1.9v1.9h-1.9zM381.9 234.7h1.9v1.9h-1.9zM382.7 223.9h1.9v1.9h-1.9zM382.6 226.5h1.9v1.9h-1.9zM382.9 232.4h1.9v1.9h-1.9zM383.7 224.1h1.9v1.9h-1.9zM384.3 238.9h1.9v1.9h-1.9zM384.4 230.4h1.9v1.9h-1.9zM385.4 228.8h1.9v1.9h-1.9zM385.4 222.7h1.9v1.9h-1.9zM385.9 227.6h1.9v1.9h-1.9zM386.3 230.6h1.9v1.9h-1.9zM387.1 221.7h1.9v1.9h-1.9zM386.6 234.4h1.9v1.9h-1.9zM387.2 229.8h1.9v1.9h-1.9zM387.8 234.8h1.9v1.9h-1.9zM388.3 221.6h1.9v1.9h-1.9zM389.1 227.3h1.9v1.9h-1.9zM388.9 224.8h1.9v1.9h-1.9zM389.6 237.0h1.9v1.9h-1.9zM390.2 227.3h1.9v1.9h-1.9zM390.7 226.3h1.9v1.9h-1.9zM390.9 231.7h1.9v1.9h-1.9zM391.5 250.7h1.9v1.9h-1.9zM391.6 229.4h1.9v1.9h-1.9zM391.6 230.4h1.9v1.9h-1.9zM392.9 226.1h1.9v1.9h-1.9zM392.7 236.0h1.9v1.9h-1.9zM393.0 231.6h1.9v1.9h-1.9zM393.6 225.8h1.9v1.9h-1.9zM394.0 225.3h1.9v1.9h-1.9zM87.3 90.1h1.9v1.9h-1.9zM87.4 141.1h1.9v1.9h-1.9zM74.6 191.4h1.9v1.9h-1.9zM93.4 169.2h1.9v1.9h-1.9zM80.6 104.7h1.9v1.9h-1.9zM72.1 197.2h1.9v1.9h-1.9zM82.5 147.0h1.9v1.9h-1.9zM77.0 138.3h1.9v1.9h-1.9zM88.6 141.5h1.9v1.9h-1.9zM97.5 109.1h1.9v1.9h-1.9zM73.3 194.9h1.9v1.9h-1.9zM74.7 124.1h1.9v1.9h-1.9zM93.6 87.8h1.9v1.9h-1.9zM84.3 126.0h1.9v1.9h-1.9zM103.6 152.5h1.9v1.9h-1.9zM84.1 167.8h1.9v1.9h-1.9zM96.6 122.0h1.9v1.9h-1.9zM72.1 160.7h1.9v1.9h-1.9zM81.7 111.6h1.9v1.9h-1.9zM92.7 179.5h1.9v1.9h-1.9zM105.9 207.1h1.9v1.9h-1.9zM75.5 134.1h1.9v1.9h-1.9z"/>
<path fill="none" stroke="#666" stroke-width="1.15" d="M124.5 148.5 L125.2 151.0 L125.8 145.9 L126.4 149.1 L127.0 149.7 L127.7 150.6 L128.3 153.1 L128.9 148.3 L129.6 148.5 L130.2 148.7 L130.8 143.5 L131.5 148.4 L132.1 156.6 L132.7 153.5 L133.3 149.5 L134.0 156.2 L134.6 149.0 L135.2 151.4 L135.9 150.1 L136.5 152.2 L137.1 148.9 L137.8 155.4 L138.4 149.8 L139.0 154.6 L139.6 159.4 L140.3 161.8 L140.9 158.9 L141.5 155.5 L142.2 153.6 L142.8 155.2 L143.4 155.7 L144.1 161.7 L144.7 163.8 L145.3 155.6 L145.9 160.6 L146.6 165.5 L147.2 165.2 L147.8 157.6 L148.5 164.7 L149.1 170.3 L149.7 169.8 L150.4 162.9 L151.0 168.9 L151.6 170.8 L152.2 170.9 L152.9 171.0 L153.5 164.8 L154.1 168.2 L154.8 170.8 L155.4 173.3 L156.0 173.5 L156.7 170.2 L157.3 170.2 L157.9 173.7 L158.5 170.3 L159.2 171.9 L159.8 176.1 L160.4 171.2 L161.1 176.5 L161.7 169.6 L162.3 170.0 L163.0 172.7 L163.6 175.6 L164.2 171.5 L164.8 177.9 L165.5 174.2 L166.1 168.9 L166.7 169.5 L167.4 174.2 L168.0 166.5 L168.6 164.8 L169.3 165.8 L169.9 162.9 L170.5 163.6 L171.1 165.3 L171.8 167.4 L172.4 163.2 L173.0 162.7 L173.7 159.2 L174.3 159.5 L174.9 160.1 L175.6 158.0 L176.2 159.5 L176.8 155.4 L177.4 157.1 L178.1 151.9 L178.7 153.4 L179.3 152.7 L180.0 152.7 L180.6 147.0 L181.2 148.3 L181.9 148.8 L182.5 145.1 L183.1 146.5 L183.7 144.8 L184.4 140.0 L185.0 139.5 L185.6 136.8 L186.3 137.6 L186.9 131.6 L187.5 133.3 L188.2 127.9 L188.8 126.8 L189.4 129.8 L190.0 126.0 L190.7 127.9 L191.3 130.1 L191.9 126.5 L192.6 128.5 L193.2 131.7 L193.8 132.0 L194.5 133.4 L195.1 132.4 L195.7 135.8 L196.3 139.1 L197.0 138.8 L197.6 140.9 L198.2 142.6 L198.9 142.2 L199.5 144.6 L200.1 145.4 L200.8 146.7 L201.4 147.4 L202.0 153.5 L202.6 152.5 L203.3 156.3 L203.9 155.5 L204.5 159.5 L205.2 162.1 L205.8 163.8 L206.4 164.5 L207.1 168.9 L207.7 166.3 L208.3 171.1 L208.9 169.7 L209.6 173.5 L210.2 172.7 L210.8 174.9 L211.5 181.1 L212.1 182.1 L212.7 180.2 L213.4 182.1 L214.0 183.8 L214.6 189.1 L215.2 188.5 L215.9 191.5 L216.5 191.4 L217.1 193.3 L217.8 191.0 L218.4 195.1 L219.0 193.8 L219.7 196.5 L220.3 194.9 L220.9 196.7 L221.5 199.9 L222.2 196.9 L222.8 198.0 L223.4 199.2 L224.1 199.4 L224.7 203.1 L225.3 203.7 L226.0 203.7 L226.6 201.9 L227.2 203.1 L227.8 203.0 L228.5 203.5 L229.1 203.6 L229.7 205.3 L230.4 204.0 L231.0 200.9 L231.6 204.7 L232.3 203.8 L232.9 205.0 L233.5 202.6 L234.1 201.9 L234.8 203.3 L235.4 201.7 L236.0 203.4 L236.7 203.0 L237.3 203.5 L237.9 199.7 L238.6 203.3 L239.2 199.5 L239.8 201.0 L240.4 200.3 L241.1 202.8 L241.7 201.4 L242.3 201.6 L243.0 197.8 L243.6 198.5 L244.2 200.0 L244.9 199.4 L245.5 197.6 L246.1 196.6 L246.7 194.9 L247.4 195.9 L248.0 197.1 L248.6 195.9 L249.3 195.9 L249.9 194.2 L250.5 191.0 L251.2 190.8 L251.8 191.4 L252.4 193.2 L253.0 190.4 L253.7 192.1 L254.3 189.0 L254.9 189.6 L255.6 188.7 L256.2 184.4 L256.8 185.9 L257.5 185.9 L258.1 187.3 L258.7 185.6 L259.3 181.9 L260.0 181.4 L260.6 181.6 L261.2 180.2 L261.9 179.5 L262.5 179.7 L263.1 176.2 L263.8 177.4 L264.4 174.7 L265.0 173.6 L265.6 177.0 L266.3 172.0 L266.9 174.2 L267.5 173.9 L268.2 169.4 L268.8 168.5 L269.4 167.3 L270.1 170.8 L270.7 167.8 L271.3 165.2 L271.9 168.6 L272.6 165.8 L273.2 166.4 L273.8 161.4 L274.5 163.1 L275.1 163.2 L275.7 160.8 L276.4 160.3 L277.0 157.2 L277.6 157.2 L278.2 156.7 L278.9 156.9 L279.5 153.9 L280.1 153.5 L280.8 155.4 L281.4 156.7 L282.0 152.2 L282.7 152.9 L283.3 152.0 L283.9 152.7 L284.5 150.8 L285.2 149.9 L285.8 146.8 L286.4 146.0 L287.1 147.6 L287.7 145.3 L288.3 145.7 L289.0 144.2 L289.6 146.9 L290.2 143.7 L290.8 144.9 L291.5 144.0 L292.1 143.9 L292.7 141.1 L293.4 139.9 L294.0 142.9 L294.6 140.3 L295.3 140.8 L295.9 138.7 L296.5 135.9 L297.1 135.7 L297.8 135.2 L298.4 133.9 L299.0 136.7 L299.7 137.3 L300.3 133.6 L300.9 135.7 L301.6 130.2 L302.2 130.4 L302.8 130.7 L303.4 130.0 L304.1 126.0 L304.7 129.9 L305.3 130.1 L306.0 126.5 L306.6 126.8 L307.2 129.2 L307.9 128.9 L308.5 130.4 L309.1 133.1 L309.7 133.0 L310.4 131.2 L311.0 133.1 L311.6 136.6 L312.3 137.7 L312.9 135.2 L313.5 134.7 L314.2 139.1 L314.8 136.8 L315.4 137.6 L316.0 139.3 L316.7 138.3 L317.3 142.1 L317.9 143.8 L318.6 141.8 L319.2 144.3 L319.8 142.3 L320.5 144.2 L321.1 143.8 L321.7 144.3 L322.3 146.0 L323.0 147.2 L323.6 146.2 L324.2 150.2 L324.9 151.0 L325.5 149.9 L326.1 151.5 L326.8 151.5 L327.4 151.5 L328.0 156.9 L328.6 157.7 L329.3 156.2 L329.9 159.1 L330.5 158.6 L331.2 162.1 L331.8 161.5 L332.4 164.1 L333.1 163.8 L333.7 165.1 L334.3 166.8 L334.9 169.2 L335.6 166.9 L336.2 171.3 L336.8 172.6 L337.5 175.5 L338.1 173.4 L338.7 176.5 L339.4 176.1 L340.0 178.5 L340.6 176.6 L341.2 182.1 L341.9 180.0 L342.5 182.8 L343.1 182.3 L343.8 187.6 L344.4 187.6 L345.0 189.5 L345.7 190.2 L346.3 192.1 L346.9 192.0 L347.5 190.2 L348.2 191.3 L348.8 195.9 L349.4 194.6 L350.1 197.9 L350.7 197.6 L351.3 200.8 L352.0 199.1 L352.6 198.8 L353.2 203.6 L353.8 201.8 L354.5 203.2 L355.1 206.1 L355.7 204.2 L356.4 208.7 L357.0 204.8 L357.6 209.4 L358.3 210.7 L358.9 210.4 L359.5 209.0 L360.1 209.3 L360.8 213.6 L361.4 214.3 L362.0 215.4 L362.7 217.2 L363.3 216.2 L363.9 218.8 L364.6 219.9 L365.2 218.7 L365.8 220.6 L366.4 218.4 L367.1 223.7 L367.7 222.1 L368.3 223.1 L369.0 225.1 L369.6 227.0 L370.2 225.0 L370.9 228.4 L371.5 229.8 L372.1 228.5 L372.7 229.7 L373.4 232.9 L374.0 230.9 L374.6 234.1 L375.3 235.4 L375.9 233.4 L376.5 234.0 L377.2 234.1 L377.8 235.0 L378.4 239.2 L379.0 237.0 L379.7 237.8 L380.3 240.5 L380.9 239.4 L381.6 240.2 L382.2 244.3 L382.8 245.3 L383.5 244.8 L384.1 245.6 L384.7 244.1 L385.3 244.6 L386.0 247.5 L386.6 246.5 L387.2 245.3 L387.9 246.3 L388.5 248.7 L389.1 247.2 L389.8 249.6 L390.4 246.6 L391.0 245.6 L391.6 246.5 L392.3 246.4 L392.9 246.9 L393.5 251.1 L394.2 249.5 L394.8 248.5 L395.4 247.1 L396.1 250.7 L396.7 249.9 L397.3 248.0 L397.9 249.2 L398.6 251.2 L399.2 251.9 L399.8 251.9 L400.5 250.1 L401.1 249.8 L401.7 249.3 L402.4 247.3 L403.0 248.8 L403.6 251.6 L404.2 249.3 L404.9 250.9 L405.5 252.6 L406.1 251.7 L406.8 249.3 L407.4 248.9 L408.0 252.5 L408.7 248.9 L409.3 251.5 L409.9 251.2 L410.5 250.8 L411.2 249.5 L411.8 253.0 L412.4 252.0 L413.1 250.2 L413.7 248.9 L414.3 250.2 L415.0 248.4 L415.6 249.1 L416.2 249.4 L416.8 249.1 L417.5 251.1 L418.1 249.1 L418.7 248.8 L419.4 248.7"/>
<path fill="none" stroke="#767676" stroke-width="1.1" stroke-dasharray="3.2 1.4" d="M73.5 107.8 L74.1 139.8 L74.8 158.3 L75.4 133.7 L76.0 85.4 L76.6 151.5 L77.8 120.0 L77.8 120.0 L78.5 146.0 L79.2 121.9 L79.8 116.1 L80.4 157.7 L81.1 121.9 L81.7 114.9 L82.3 166.7 L82.9 110.2 L83.6 167.9 L84.2 119.0 L84.8 127.4 L85.5 142.9 L86.1 112.0 L86.7 167.0 L87.4 121.1 L88.0 112.1 L88.6 127.2 L89.2 144.6 L89.9 165.4 L90.5 158.8 L91.0 80.0 L91.8 128.9 L92.4 136.1 L93.0 133.7 L93.7 123.8 L94.3 129.5 L94.9 110.5 L95.5 166.3 L96.0 105.0 L96.8 131.6 L97.4 130.5 L98.1 117.1 L98.7 136.8 L99.3 136.2 L100.0 158.0 L100.6 142.1 L101.0 100.0 L101.8 133.8 L102.5 132.3 L103.1 127.6 L103.7 115.7 L104.4 101.4 L105.0 85.0 L105.6 172.5 L106.3 165.2 L106.9 169.6 L107.5 143.7 L108.1 172.0 L108.8 120.6 L109.4 124.0 L110.0 163.5 L110.7 112.0 L111.3 168.3 L111.9 159.8 L112.6 134.0 L113.2 158.7 L113.8 133.7 L114.4 126.1 L115.1 164.7 L115.7 129.6 L116.3 153.3 L117.0 144.1 L117.6 123.2 L118.2 148.8 L118.9 134.4 L119.5 149.1 L120.1 99.5 L120.7 92.7 L121.4 161.1 L122.0 144.5 L122.6 150.3 L123.3 142.8 L123.9 153.2 L124.5 148.5 L125.2 151.0 L125.8 145.9"/>
<path fill="none" stroke="#8c8c8c" stroke-width="1.3" stroke-dasharray="4 1.5" d="M77.8 11V175"/>
<path fill="none" stroke="#262626" stroke-width="2" d="M93.0 256.0 L94.0 255.5 L95.0 255.1 L96.0 254.6 L97.0 254.2 L98.0 253.8 L99.0 253.4 L100.0 253.0 L101.0 252.6 L102.0 252.3 L103.0 251.9 L104.0 251.6 L105.0 251.2 L106.0 250.8 L107.0 250.5 L108.0 250.2 L109.0 249.9 L110.0 249.7 L111.0 249.4 L112.0 249.2 L113.0 249.1 L114.0 249.0 L115.0 248.9 L116.0 248.9 L117.0 248.8 L118.0 248.7 L119.0 248.7 L120.0 248.6 L121.0 248.6 L122.0 248.5 L123.0 248.5 L124.0 248.4 L125.0 248.4 L126.0 248.4 L127.0 248.3 L128.0 248.3 L129.0 248.3 L130.0 248.2 L131.0 248.2 L132.0 248.2 L133.0 248.2 L134.0 248.1 L135.0 248.1 L136.0 248.1 L137.0 248.1 L138.0 248.0 L139.0 248.0 L140.0 248.0 L141.0 248.0 L142.0 248.0 L143.0 247.9 L144.0 247.9 L145.0 247.9 L146.0 247.9 L147.0 247.8 L148.0 247.8 L149.0 247.8 L150.0 247.8 L151.0 247.8 L152.0 247.7 L153.0 247.7 L154.0 247.7 L155.0 247.7 L156.0 247.7 L157.0 247.6 L158.0 247.6 L159.0 247.6 L160.0 247.6 L161.0 247.6 L162.0 247.6 L163.0 247.6 L164.0 247.5 L165.0 247.5 L166.0 247.5 L167.0 247.5 L168.0 247.5 L169.0 247.5 L170.0 247.5 L171.0 247.5 L172.0 247.5 L173.0 247.5 L174.0 247.5 L175.0 247.5 L176.0 247.5 L177.0 247.5 L178.0 247.5 L179.0 247.5 L180.0 247.5 L181.0 247.5 L182.0 247.5 L183.0 247.5 L184.0 247.5 L185.0 247.5 L186.0 247.5 L187.0 247.5 L188.0 247.6 L189.0 247.6 L190.0 247.6 L191.0 247.6 L192.0 247.6 L193.0 247.6 L194.0 247.6 L195.0 247.6 L196.0 247.6 L197.0 247.6 L198.0 247.6 L199.0 247.6 L200.0 247.7 L201.0 247.7 L202.0 247.7 L203.0 247.7 L204.0 247.7 L205.0 247.7 L206.0 247.7 L207.0 247.7 L208.0 247.7 L209.0 247.8 L210.0 247.8 L211.0 247.8 L212.0 247.8 L213.0 247.8 L214.0 247.8 L215.0 247.8 L216.0 247.8 L217.0 247.9 L218.0 247.9 L219.0 247.9 L220.0 247.9 L221.0 247.9 L222.0 247.9 L223.0 247.9 L224.0 248.0 L225.0 248.0 L226.0 248.0 L227.0 248.0 L228.0 248.0 L229.0 248.0 L230.0 248.0 L231.0 248.1 L232.0 248.1 L233.0 248.1 L234.0 248.1 L235.0 248.1 L236.0 248.1 L237.0 248.2 L238.0 248.2 L239.0 248.2 L240.0 248.2 L241.0 248.2 L242.0 248.2 L243.0 248.2 L244.0 248.3 L245.0 248.3 L246.0 248.3 L247.0 248.3 L248.0 248.3 L249.0 248.3 L250.0 248.4 L251.0 248.4 L252.0 248.4 L253.0 248.4 L254.0 248.4 L255.0 248.4 L256.0 248.4 L257.0 248.5 L258.0 248.5 L259.0 248.5 L260.0 248.5 L261.0 248.5 L262.0 248.5 L263.0 248.5 L264.0 248.6 L265.0 248.6 L266.0 248.6 L267.0 248.6 L268.0 248.6 L269.0 248.6 L270.0 248.7 L271.0 248.7 L272.0 248.7 L273.0 248.7 L274.0 248.7 L275.0 248.7 L276.0 248.8 L277.0 248.8 L278.0 248.8 L279.0 248.8 L280.0 248.8 L281.0 248.9 L282.0 248.9 L283.0 248.9 L284.0 248.9 L285.0 248.9 L286.0 249.0 L287.0 249.0 L288.0 249.0 L289.0 249.0 L290.0 249.0 L291.0 249.1 L292.0 249.1 L293.0 249.1 L294.0 249.1 L295.0 249.1 L296.0 249.2 L297.0 249.2 L298.0 249.2 L299.0 249.2 L300.0 249.2 L301.0 249.3 L302.0 249.3 L303.0 249.3 L304.0 249.3 L305.0 249.3 L306.0 249.4 L307.0 249.4 L308.0 249.4 L309.0 249.4 L310.0 249.4 L311.0 249.5 L312.0 249.5 L313.0 249.5 L314.0 249.5 L315.0 249.6 L316.0 249.6 L317.0 249.6 L318.0 249.6 L319.0 249.6 L320.0 249.7 L321.0 249.7 L322.0 249.7 L323.0 249.7 L324.0 249.7 L325.0 249.7 L326.0 249.8 L327.0 249.8 L328.0 249.8 L329.0 249.8 L330.0 249.8 L331.0 249.9 L332.0 249.9 L333.0 249.9 L334.0 249.9 L335.0 249.9 L336.0 249.9 L337.0 250.0 L338.0 250.0 L339.0 250.0 L340.0 250.0 L341.0 250.0 L342.0 250.0 L343.0 250.0 L344.0 250.1 L345.0 250.1 L346.0 250.1 L347.0 250.1 L348.0 250.1 L349.0 250.1 L350.0 250.1 L351.0 250.1 L352.0 250.2 L353.0 250.2 L354.0 250.2 L355.0 250.2 L356.0 250.2 L357.0 250.2 L358.0 250.2 L359.0 250.2 L360.0 250.3 L361.0 250.3 L362.0 250.3 L363.0 250.3 L364.0 250.3 L365.0 250.3 L366.0 250.3 L367.0 250.3 L368.0 250.3 L369.0 250.3 L370.0 250.4 L371.0 250.4 L372.0 250.4 L373.0 250.4 L374.0 250.4 L375.0 250.4 L376.0 250.4 L377.0 250.4 L378.0 250.4 L379.0 250.4 L380.0 250.5 L381.0 250.5 L382.0 250.5 L383.0 250.5 L384.0 250.5 L385.0 250.5 L386.0 250.5 L387.0 250.5 L388.0 250.5 L389.0 250.5 L390.0 250.6 L391.0 250.6 L392.0 250.6 L393.0 250.6 L394.0 250.6 L395.0 250.6 L396.0 250.6 L397.0 250.6 L398.0 250.7 L399.0 250.7 L400.0 250.7 L401.0 250.7 L402.0 250.7 L403.0 250.7 L404.0 250.7 L405.0 250.7 L406.0 250.8 L407.0 250.8 L408.0 250.8 L409.0 250.8 L410.0 250.8 L411.0 250.8 L412.0 250.9 L413.0 250.9 L414.0 250.9 L415.0 250.9 L416.0 250.9 L417.0 250.9 L418.0 251.0 L419.0 251.0 L420.0 251.0 L421.0 251.0 L422.0 251.0 L423.0 251.1 L424.0 251.1 L425.0 251.1 L426.0 251.1 L427.0 251.2 L428.0 251.2 L429.0 251.2 L430.0 251.3 L431.0 251.3 L432.0 251.3 L433.0 251.4 L434.0 251.4 L435.0 251.4 L436.0 251.5 L437.0 251.5 L438.0 251.5 L439.0 251.6 L440.0 251.6 L441.0 251.6 L442.0 251.7 L443.0 251.7 L444.0 251.8 L445.0 251.8 L446.0 251.8 L447.0 251.9 L448.0 251.9 L449.0 252.0 L450.0 252.0"/>
<path fill="none" stroke="#f99b2c" stroke-width="2" d="M80.0 255.0 L81.0 253.0 L82.0 251.1 L83.0 249.2 L84.0 247.4 L85.0 245.7 L86.0 244.0 L87.0 242.3 L88.0 240.4 L89.0 238.5 L90.0 236.8 L91.0 235.3 L92.0 234.4 L93.0 234.0 L94.0 234.1 L95.0 234.5 L96.0 235.1 L97.0 235.8 L98.0 236.5 L99.0 237.2 L100.0 237.9 L101.0 238.5 L102.0 238.9 L103.0 239.0 L104.0 238.9 L105.0 238.8 L106.0 238.5 L107.0 238.2 L108.0 237.7 L109.0 237.2 L110.0 236.7 L111.0 236.1 L112.0 235.5 L113.0 234.9 L114.0 234.3 L115.0 233.6 L116.0 233.0 L117.0 232.4 L118.0 231.9 L119.0 231.4 L120.0 231.0 L121.0 230.6 L122.0 230.2 L123.0 229.8 L124.0 229.3 L125.0 228.9 L126.0 228.5 L127.0 228.0 L128.0 227.6 L129.0 227.2 L130.0 226.8 L131.0 226.4 L132.0 226.0 L133.0 225.7 L134.0 225.4 L135.0 225.2 L136.0 224.9 L137.0 224.7 L138.0 224.6 L139.0 224.5 L140.0 224.5 L141.0 224.5 L142.0 224.6 L143.0 224.8 L144.0 224.9 L145.0 225.2 L146.0 225.4 L147.0 225.7 L148.0 226.0 L149.0 226.2 L150.0 226.5 L151.0 226.8 L152.0 227.1 L153.0 227.5 L154.0 228.0 L155.0 228.4 L156.0 228.9 L157.0 229.4 L158.0 229.9 L159.0 230.4 L160.0 230.9 L161.0 231.4 L162.0 231.8 L163.0 232.3 L164.0 232.7 L165.0 233.0 L166.0 233.3 L167.0 233.7 L168.0 234.0 L169.0 234.3 L170.0 234.6 L171.0 234.9 L172.0 235.2 L173.0 235.5 L174.0 235.7 L175.0 235.8 L176.0 235.9 L177.0 236.0 L178.0 236.0 L179.0 236.1 L180.0 236.1 L181.0 236.1 L182.0 236.1 L183.0 236.1 L184.0 236.1 L185.0 236.2 L186.0 236.2 L187.0 236.2 L188.0 236.2 L189.0 236.2 L190.0 236.2 L191.0 236.2 L192.0 236.2 L193.0 236.3 L194.0 236.3 L195.0 236.3 L196.0 236.3 L197.0 236.3 L198.0 236.3 L199.0 236.3 L200.0 236.3 L201.0 236.3 L202.0 236.3 L203.0 236.3 L204.0 236.3 L205.0 236.3 L206.0 236.3 L207.0 236.4 L208.0 236.4 L209.0 236.4 L210.0 236.4 L211.0 236.4 L212.0 236.4 L213.0 236.4 L214.0 236.4 L215.0 236.4 L216.0 236.4 L217.0 236.5 L218.0 236.5 L219.0 236.5 L220.0 236.5 L221.0 236.5 L222.0 236.5 L223.0 236.6 L224.0 236.6 L225.0 236.6 L226.0 236.6 L227.0 236.6 L228.0 236.7 L229.0 236.7 L230.0 236.7 L231.0 236.8 L232.0 236.8 L233.0 236.8 L234.0 236.8 L235.0 236.9 L236.0 236.9 L237.0 236.9 L238.0 237.0 L239.0 237.0 L240.0 237.1 L241.0 237.1 L242.0 237.1 L243.0 237.2 L244.0 237.2 L245.0 237.3 L246.0 237.3 L247.0 237.3 L248.0 237.4 L249.0 237.4 L250.0 237.5 L251.0 237.5 L252.0 237.6 L253.0 237.6 L254.0 237.7 L255.0 237.7 L256.0 237.8 L257.0 237.8 L258.0 237.9 L259.0 237.9 L260.0 238.0 L261.0 238.1 L262.0 238.1 L263.0 238.2 L264.0 238.3 L265.0 238.4 L266.0 238.5 L267.0 238.6 L268.0 238.7 L269.0 238.9 L270.0 239.0 L271.0 239.1 L272.0 239.2 L273.0 239.3 L274.0 239.4 L275.0 239.6 L276.0 239.7 L277.0 239.8 L278.0 239.8 L279.0 239.9 L280.0 240.0 L281.0 240.1 L282.0 240.1 L283.0 240.2 L284.0 240.2 L285.0 240.3 L286.0 240.3 L287.0 240.4 L288.0 240.4 L289.0 240.5 L290.0 240.5 L291.0 240.6 L292.0 240.6 L293.0 240.7 L294.0 240.7 L295.0 240.8 L296.0 240.8 L297.0 240.8 L298.0 240.9 L299.0 240.9 L300.0 241.0 L301.0 241.1 L302.0 241.1 L303.0 241.2 L304.0 241.2 L305.0 241.3 L306.0 241.3 L307.0 241.4 L308.0 241.5 L309.0 241.5 L310.0 241.6 L311.0 241.7 L312.0 241.7 L313.0 241.8 L314.0 241.9 L315.0 241.9 L316.0 242.0 L317.0 242.1 L318.0 242.1 L319.0 242.2 L320.0 242.2 L321.0 242.3 L322.0 242.4 L323.0 242.4 L324.0 242.5 L325.0 242.6 L326.0 242.6 L327.0 242.7 L328.0 242.8 L329.0 242.8 L330.0 242.9 L331.0 243.0 L332.0 243.0 L333.0 243.1 L334.0 243.2 L335.0 243.2 L336.0 243.3 L337.0 243.3 L338.0 243.4 L339.0 243.4 L340.0 243.5 L341.0 243.6 L342.0 243.6 L343.0 243.7 L344.0 243.7 L345.0 243.8 L346.0 243.8 L347.0 243.8 L348.0 243.9 L349.0 243.9 L350.0 244.0 L351.0 244.0 L352.0 244.1 L353.0 244.1 L354.0 244.2 L355.0 244.2 L356.0 244.3 L357.0 244.3 L358.0 244.4 L359.0 244.4 L360.0 244.5 L361.0 244.6 L362.0 244.6 L363.0 244.7 L364.0 244.8 L365.0 244.8 L366.0 244.9 L367.0 245.0 L368.0 245.0 L369.0 245.1 L370.0 245.2 L371.0 245.2 L372.0 245.3 L373.0 245.4 L374.0 245.5 L375.0 245.6 L376.0 245.6 L377.0 245.7 L378.0 245.8 L379.0 245.9 L380.0 246.0 L381.0 246.1 L382.0 246.2 L383.0 246.3 L384.0 246.4 L385.0 246.5 L386.0 246.7 L387.0 246.8 L388.0 246.9 L389.0 247.1 L390.0 247.2 L391.0 247.3 L392.0 247.5 L393.0 247.6 L394.0 247.8 L395.0 247.9 L396.0 248.1 L397.0 248.2 L398.0 248.4 L399.0 248.5 L400.0 248.7 L401.0 248.9 L402.0 249.0 L403.0 249.1 L404.0 249.3 L405.0 249.4 L406.0 249.6 L407.0 249.7 L408.0 249.8 L409.0 250.0 L410.0 250.1 L411.0 250.2 L412.0 250.3 L413.0 250.4 L414.0 250.5 L415.0 250.6 L416.0 250.7 L417.0 250.8 L418.0 250.9 L419.0 250.9 L420.0 251.0 L421.0 251.1 L422.0 251.1 L423.0 251.2 L424.0 251.2 L425.0 251.3 L426.0 251.3 L427.0 251.3 L428.0 251.4 L429.0 251.4 L430.0 251.5 L431.0 251.5 L432.0 251.6 L433.0 251.6 L434.0 251.7 L435.0 251.7 L436.0 251.7 L437.0 251.8 L438.0 251.8 L439.0 251.8 L440.0 251.9 L441.0 251.9 L442.0 251.9 L443.0 251.9 L444.0 251.9 L445.0 252.0 L446.0 252.0 L447.0 252.0 L448.0 252.0 L449.0 252.0 L450.0 252.0"/>
<path fill="none" stroke="#e3655f" stroke-width="2" d="M72.5 144.4 L73.5 145.3 L74.5 146.3 L75.5 147.4 L76.5 148.6 L77.5 150.0 L78.5 151.5 L79.5 153.2 L80.5 154.9 L81.5 156.8 L82.5 158.7 L83.5 160.7 L84.5 162.7 L85.5 164.8 L86.5 166.8 L87.5 168.9 L88.5 171.0 L89.5 173.0 L90.5 175.2 L91.5 177.5 L92.5 179.9 L93.5 182.3 L94.5 184.6 L95.5 186.9 L96.5 189.1 L97.5 191.1 L98.5 192.9 L99.5 194.9 L100.5 196.9 L101.5 198.9 L102.5 200.7 L103.5 202.2 L104.5 203.3 L105.5 203.9 L106.5 203.9 L107.5 203.4 L108.5 202.5 L109.5 201.1 L110.5 199.5 L111.5 197.7 L112.5 195.8 L113.5 193.9 L114.5 191.9 L115.5 190.0 L116.5 187.8 L117.5 185.3 L118.5 182.6 L119.5 179.8 L120.5 177.0 L121.5 174.3 L122.5 171.9 L123.5 169.9 L124.5 168.2 L125.5 166.6 L126.5 164.9 L127.5 163.3 L128.5 161.8 L129.5 160.3 L130.5 158.9 L131.5 157.6 L132.5 156.5 L133.5 155.6 L134.5 154.8 L135.5 154.3 L136.5 154.0 L137.5 154.0 L138.5 154.1 L139.5 154.3 L140.5 154.5 L141.5 154.8 L142.5 155.2 L143.5 155.6 L144.5 156.0 L145.5 156.5 L146.5 157.0 L147.5 157.6 L148.5 158.1 L149.5 158.7 L150.5 159.3 L151.5 160.1 L152.5 160.9 L153.5 162.0 L154.5 163.1 L155.5 164.3 L156.5 165.6 L157.5 167.0 L158.5 168.4 L159.5 169.8 L160.5 171.2 L161.5 172.6 L162.5 173.9 L163.5 175.2 L164.5 176.4 L165.5 177.6 L166.5 178.7 L167.5 179.9 L168.5 181.0 L169.5 182.2 L170.5 183.3 L171.5 184.5 L172.5 185.6 L173.5 186.7 L174.5 187.8 L175.5 188.8 L176.5 189.8 L177.5 190.8 L178.5 191.7 L179.5 192.6 L180.5 193.4 L181.5 194.2 L182.5 195.1 L183.5 195.9 L184.5 196.7 L185.5 197.6 L186.5 198.4 L187.5 199.2 L188.5 200.0 L189.5 200.7 L190.5 201.4 L191.5 202.1 L192.5 202.8 L193.5 203.4 L194.5 204.0 L195.5 204.5 L196.5 204.9 L197.5 205.3 L198.5 205.6 L199.5 205.9 L200.5 206.1 L201.5 206.3 L202.5 206.4 L203.5 206.6 L204.5 206.8 L205.5 206.9 L206.5 207.1 L207.5 207.2 L208.5 207.4 L209.5 207.5 L210.5 207.7 L211.5 207.8 L212.5 207.9 L213.5 208.0 L214.5 208.1 L215.5 208.2 L216.5 208.3 L217.5 208.4 L218.5 208.5 L219.5 208.6 L220.5 208.7 L221.5 208.7 L222.5 208.8 L223.5 208.8 L224.5 208.9 L225.5 208.9 L226.5 209.0 L227.5 209.0 L228.5 209.0 L229.5 209.0 L230.5 209.0 L231.5 209.0 L232.5 209.0 L233.5 209.0 L234.5 209.0 L235.5 209.0 L236.5 209.0 L237.5 209.0 L238.5 209.0 L239.5 209.0 L240.5 209.0 L241.5 209.0 L242.5 209.0 L243.5 209.0 L244.5 209.0 L245.5 209.0 L246.5 209.0 L247.5 209.0 L248.5 209.0 L249.5 209.0 L250.5 209.0 L251.5 209.0 L252.5 209.0 L253.5 209.0 L254.5 209.0 L255.5 209.1 L256.5 209.1 L257.5 209.2 L258.5 209.3 L259.5 209.5 L260.5 209.6 L261.5 209.8 L262.5 209.9 L263.5 210.1 L264.5 210.3 L265.5 210.5 L266.5 210.7 L267.5 211.0 L268.5 211.2 L269.5 211.4 L270.5 211.7 L271.5 211.9 L272.5 212.2 L273.5 212.4 L274.5 212.6 L275.5 212.9 L276.5 213.1 L277.5 213.4 L278.5 213.7 L279.5 214.0 L280.5 214.3 L281.5 214.6 L282.5 215.0 L283.5 215.3 L284.5 215.7 L285.5 216.1 L286.5 216.5 L287.5 216.9 L288.5 217.3 L289.5 217.8 L290.5 218.2 L291.5 218.6 L292.5 219.0 L293.5 219.4 L294.5 219.8 L295.5 220.3 L296.5 220.7 L297.5 221.1 L298.5 221.4 L299.5 221.8 L300.5 222.2 L301.5 222.5 L302.5 222.9 L303.5 223.3 L304.5 223.7 L305.5 224.1 L306.5 224.4 L307.5 224.8 L308.5 225.2 L309.5 225.6 L310.5 225.9 L311.5 226.3 L312.5 226.7 L313.5 227.0 L314.5 227.4 L315.5 227.7 L316.5 228.0 L317.5 228.3 L318.5 228.6 L319.5 228.9 L320.5 229.1 L321.5 229.4 L322.5 229.6 L323.5 229.9 L324.5 230.1 L325.5 230.3 L326.5 230.6 L327.5 230.8 L328.5 231.0 L329.5 231.2 L330.5 231.4 L331.5 231.6 L332.5 231.8 L333.5 232.0 L334.5 232.2 L335.5 232.4 L336.5 232.6 L337.5 232.8 L338.5 232.9 L339.5 233.1 L340.5 233.3 L341.5 233.5 L342.5 233.7 L343.5 233.8 L344.5 234.0 L345.5 234.2 L346.5 234.4 L347.5 234.5 L348.5 234.7 L349.5 234.9 L350.5 235.1 L351.5 235.3 L352.5 235.4 L353.5 235.6 L354.5 235.8 L355.5 235.9 L356.5 236.1 L357.5 236.3 L358.5 236.4 L359.5 236.6 L360.5 236.7 L361.5 236.9 L362.5 237.1 L363.5 237.2 L364.5 237.4 L365.5 237.5 L366.5 237.7 L367.5 237.8 L368.5 238.0 L369.5 238.1 L370.5 238.3 L371.5 238.5 L372.5 238.6 L373.5 238.8 L374.5 239.0 L375.5 239.2 L376.5 239.3 L377.5 239.5 L378.5 239.7 L379.5 239.9 L380.5 240.1 L381.5 240.3 L382.5 240.5 L383.5 240.8 L384.5 241.0 L385.5 241.3 L386.5 241.5 L387.5 241.8 L388.5 242.1 L389.5 242.3 L390.5 242.6 L391.5 242.9 L392.5 243.2 L393.5 243.5 L394.5 243.8 L395.5 244.1 L396.5 244.4 L397.5 244.7 L398.5 245.0 L399.5 245.3 L400.5 245.6 L401.5 245.9 L402.5 246.2 L403.5 246.5 L404.5 246.8 L405.5 247.1 L406.5 247.3 L407.5 247.6 L408.5 247.9 L409.5 248.1 L410.5 248.4 L411.5 248.6 L412.5 248.8 L413.5 249.0 L414.5 249.2 L415.5 249.4 L416.5 249.5 L417.5 249.7 L418.5 249.8 L419.5 249.9 L420.5 250.1 L421.5 250.2 L422.5 250.3 L423.5 250.4 L424.5 250.5 L425.5 250.6 L426.5 250.6 L427.5 250.7 L428.5 250.8 L429.5 250.9 L430.5 251.0 L431.5 251.1 L432.5 251.2 L433.5 251.3 L434.5 251.3 L435.5 251.4 L436.5 251.5 L437.5 251.6 L438.5 251.6 L439.5 251.7 L440.5 251.7 L441.5 251.8 L442.5 251.8 L443.5 251.9 L444.5 251.9 L445.5 251.9 L446.5 252.0 L447.5 252.0 L448.5 252.0 L449.5 252.0"/>
<path fill="none" stroke="#b3238f" stroke-width="2" d="M72.5 165.0 L73.5 165.1 L74.5 165.3 L75.5 165.6 L76.5 165.9 L77.5 166.3 L78.5 166.8 L79.5 167.3 L80.5 167.9 L81.5 168.5 L82.5 169.1 L83.5 169.7 L84.5 170.3 L85.5 171.2 L86.5 172.2 L87.5 173.4 L88.5 174.7 L89.5 176.1 L90.5 177.5 L91.5 178.9 L92.5 180.2 L93.5 181.4 L94.5 182.6 L95.5 183.8 L96.5 185.1 L97.5 186.4 L98.5 187.7 L99.5 189.0 L100.5 190.1 L101.5 190.9 L102.5 191.6 L103.5 192.0 L104.5 191.9 L105.5 191.3 L106.5 190.1 L107.5 188.5 L108.5 186.6 L109.5 184.4 L110.5 182.1 L111.5 179.7 L112.5 177.3 L113.5 175.0 L114.5 173.0 L115.5 170.8 L116.5 168.5 L117.5 166.2 L118.5 163.8 L119.5 161.4 L120.5 158.9 L121.5 156.6 L122.5 154.3 L123.5 152.1 L124.5 150.0 L125.5 147.8 L126.5 145.6 L127.5 143.4 L128.5 141.3 L129.5 139.3 L130.5 137.5 L131.5 135.9 L132.5 134.5 L133.5 133.5 L134.5 132.5 L135.5 131.6 L136.5 130.7 L137.5 129.9 L138.5 129.2 L139.5 128.6 L140.5 128.2 L141.5 128.0 L142.5 128.0 L143.5 128.2 L144.5 128.4 L145.5 128.8 L146.5 129.3 L147.5 129.8 L148.5 130.5 L149.5 131.2 L150.5 131.9 L151.5 132.6 L152.5 133.4 L153.5 134.5 L154.5 135.7 L155.5 137.3 L156.5 138.9 L157.5 140.7 L158.5 142.6 L159.5 144.6 L160.5 146.5 L161.5 148.5 L162.5 150.4 L163.5 152.2 L164.5 153.8 L165.5 155.5 L166.5 157.3 L167.5 159.0 L168.5 160.8 L169.5 162.6 L170.5 164.4 L171.5 166.2 L172.5 167.9 L173.5 169.6 L174.5 171.3 L175.5 172.9 L176.5 174.4 L177.5 175.8 L178.5 177.2 L179.5 178.4 L180.5 179.6 L181.5 180.7 L182.5 181.8 L183.5 182.9 L184.5 183.9 L185.5 185.0 L186.5 186.0 L187.5 186.9 L188.5 187.8 L189.5 188.7 L190.5 189.4 L191.5 190.2 L192.5 190.8 L193.5 191.3 L194.5 191.8 L195.5 192.2 L196.5 192.5 L197.5 192.9 L198.5 193.2 L199.5 193.6 L200.5 193.9 L201.5 194.2 L202.5 194.5 L203.5 194.8 L204.5 195.0 L205.5 195.3 L206.5 195.5 L207.5 195.7 L208.5 195.9 L209.5 196.1 L210.5 196.2 L211.5 196.3 L212.5 196.4 L213.5 196.5 L214.5 196.5 L215.5 196.5 L216.5 196.5 L217.5 196.5 L218.5 196.4 L219.5 196.4 L220.5 196.3 L221.5 196.2 L222.5 196.2 L223.5 196.1 L224.5 196.0 L225.5 195.9 L226.5 195.8 L227.5 195.8 L228.5 195.7 L229.5 195.6 L230.5 195.5 L231.5 195.4 L232.5 195.3 L233.5 195.3 L234.5 195.2 L235.5 195.1 L236.5 195.1 L237.5 195.0 L238.5 195.0 L239.5 195.0 L240.5 195.0 L241.5 195.0 L242.5 195.0 L243.5 195.0 L244.5 195.0 L245.5 195.0 L246.5 195.0 L247.5 195.0 L248.5 195.0 L249.5 195.0 L250.5 195.0 L251.5 195.0 L252.5 195.0 L253.5 195.0 L254.5 195.1 L255.5 195.2 L256.5 195.4 L257.5 195.6 L258.5 195.9 L259.5 196.2 L260.5 196.5 L261.5 196.8 L262.5 197.2 L263.5 197.5 L264.5 197.8 L265.5 198.2 L266.5 198.5 L267.5 198.8 L268.5 199.2 L269.5 199.6 L270.5 200.0 L271.5 200.4 L272.5 200.8 L273.5 201.2 L274.5 201.6 L275.5 202.1 L276.5 202.5 L277.5 202.9 L278.5 203.4 L279.5 203.8 L280.5 204.2 L281.5 204.6 L282.5 205.1 L283.5 205.5 L284.5 206.0 L285.5 206.4 L286.5 206.9 L287.5 207.3 L288.5 207.8 L289.5 208.3 L290.5 208.7 L291.5 209.2 L292.5 209.7 L293.5 210.1 L294.5 210.6 L295.5 211.0 L296.5 211.5 L297.5 211.9 L298.5 212.4 L299.5 212.8 L300.5 213.2 L301.5 213.6 L302.5 214.1 L303.5 214.5 L304.5 214.9 L305.5 215.3 L306.5 215.7 L307.5 216.2 L308.5 216.6 L309.5 217.0 L310.5 217.4 L311.5 217.8 L312.5 218.2 L313.5 218.6 L314.5 219.0 L315.5 219.4 L316.5 219.7 L317.5 220.1 L318.5 220.5 L319.5 220.8 L320.5 221.2 L321.5 221.5 L322.5 221.9 L323.5 222.2 L324.5 222.5 L325.5 222.9 L326.5 223.2 L327.5 223.5 L328.5 223.9 L329.5 224.2 L330.5 224.5 L331.5 224.8 L332.5 225.1 L333.5 225.4 L334.5 225.7 L335.5 226.0 L336.5 226.3 L337.5 226.6 L338.5 226.9 L339.5 227.2 L340.5 227.5 L341.5 227.8 L342.5 228.1 L343.5 228.3 L344.5 228.6 L345.5 228.9 L346.5 229.1 L347.5 229.4 L348.5 229.6 L349.5 229.9 L350.5 230.1 L351.5 230.4 L352.5 230.6 L353.5 230.8 L354.5 231.0 L355.5 231.2 L356.5 231.5 L357.5 231.7 L358.5 231.9 L359.5 232.1 L360.5 232.3 L361.5 232.5 L362.5 232.7 L363.5 232.9 L364.5 233.1 L365.5 233.2 L366.5 233.4 L367.5 233.6 L368.5 233.8 L369.5 234.0 L370.5 234.2 L371.5 234.4 L372.5 234.6 L373.5 234.7 L374.5 234.9 L375.5 235.1 L376.5 235.3 L377.5 235.5 L378.5 235.7 L379.5 235.9 L380.5 236.1 L381.5 236.3 L382.5 236.5 L383.5 236.7 L384.5 236.8 L385.5 237.0 L386.5 237.2 L387.5 237.4 L388.5 237.6 L389.5 237.7 L390.5 237.9 L391.5 238.1 L392.5 238.3 L393.5 238.5 L394.5 238.7 L395.5 238.9 L396.5 239.1 L397.5 239.4 L398.5 239.6 L399.5 239.9 L400.5 240.1 L401.5 240.5 L402.5 240.8 L403.5 241.2 L404.5 241.6 L405.5 242.1 L406.5 242.5 L407.5 243.0 L408.5 243.5 L409.5 244.0 L410.5 244.5 L411.5 245.0 L412.5 245.4 L413.5 245.9 L414.5 246.3 L415.5 246.7 L416.5 247.1 L417.5 247.4 L418.5 247.7 L419.5 247.9 L420.5 248.1 L421.5 248.2 L422.5 248.4 L423.5 248.6 L424.5 248.7 L425.5 248.9 L426.5 249.0 L427.5 249.2 L428.5 249.3 L429.5 249.5 L430.5 249.6 L431.5 249.7 L432.5 249.8 L433.5 250.0 L434.5 250.1 L435.5 250.2 L436.5 250.3 L437.5 250.4 L438.5 250.5 L439.5 250.6 L440.5 250.6 L441.5 250.7 L442.5 250.8 L443.5 250.8 L444.5 250.9 L445.5 250.9 L446.5 250.9 L447.5 251.0 L448.5 251.0 L449.5 251.0"/>
<path fill="none" stroke="#6e0ea8" stroke-width="2" d="M72.5 144.0 L73.5 144.1 L74.5 144.4 L75.5 144.7 L76.5 145.1 L77.5 145.6 L78.5 146.1 L79.5 146.7 L80.5 147.4 L81.5 148.4 L82.5 149.7 L83.5 151.4 L84.5 153.2 L85.5 155.1 L86.5 157.1 L87.5 159.1 L88.5 161.0 L89.5 163.0 L90.5 165.3 L91.5 167.6 L92.5 169.9 L93.5 172.1 L94.5 174.1 L95.5 175.9 L96.5 177.8 L97.5 179.7 L98.5 181.6 L99.5 183.5 L100.5 185.1 L101.5 186.4 L102.5 187.4 L103.5 187.9 L104.5 187.9 L105.5 187.5 L106.5 186.6 L107.5 185.5 L108.5 184.1 L109.5 182.5 L110.5 180.8 L111.5 179.1 L112.5 176.6 L113.5 173.6 L114.5 170.2 L115.5 166.5 L116.5 162.9 L117.5 159.6 L118.5 156.5 L119.5 153.7 L120.5 151.0 L121.5 148.4 L122.5 145.8 L123.5 143.2 L124.5 140.5 L125.5 137.7 L126.5 134.7 L127.5 131.4 L128.5 127.9 L129.5 123.3 L130.5 118.1 L131.5 112.8 L132.5 108.1 L133.5 104.5 L134.5 102.2 L135.5 100.1 L136.5 98.2 L137.5 96.6 L138.5 95.4 L139.5 94.4 L140.5 93.7 L141.5 93.1 L142.5 92.5 L143.5 92.0 L144.5 91.7 L145.5 91.5 L146.5 91.5 L147.5 91.7 L148.5 92.0 L149.5 92.5 L150.5 93.0 L151.5 93.7 L152.5 94.4 L153.5 95.7 L154.5 97.4 L155.5 99.3 L156.5 101.3 L157.5 103.2 L158.5 105.0 L159.5 106.9 L160.5 108.9 L161.5 110.9 L162.5 112.9 L163.5 114.9 L164.5 117.0 L165.5 119.1 L166.5 121.2 L167.5 123.3 L168.5 125.3 L169.5 127.4 L170.5 129.5 L171.5 131.6 L172.5 133.9 L173.5 136.1 L174.5 138.4 L175.5 140.6 L176.5 142.7 L177.5 144.7 L178.5 146.6 L179.5 148.3 L180.5 149.7 L181.5 151.1 L182.5 152.4 L183.5 153.7 L184.5 155.0 L185.5 156.2 L186.5 157.3 L187.5 158.4 L188.5 159.5 L189.5 160.5 L190.5 161.5 L191.5 162.4 L192.5 163.3 L193.5 164.2 L194.5 165.1 L195.5 165.9 L196.5 166.6 L197.5 167.4 L198.5 168.1 L199.5 168.9 L200.5 169.6 L201.5 170.3 L202.5 171.0 L203.5 171.7 L204.5 172.3 L205.5 172.8 L206.5 173.2 L207.5 173.6 L208.5 173.9 L209.5 174.1 L210.5 174.3 L211.5 174.4 L212.5 174.6 L213.5 174.7 L214.5 174.9 L215.5 175.0 L216.5 175.1 L217.5 175.2 L218.5 175.4 L219.5 175.5 L220.5 175.6 L221.5 175.6 L222.5 175.7 L223.5 175.8 L224.5 175.8 L225.5 175.9 L226.5 175.9 L227.5 176.0 L228.5 176.0 L229.5 176.0 L230.5 176.0 L231.5 176.0 L232.5 175.9 L233.5 175.8 L234.5 175.7 L235.5 175.6 L236.5 175.4 L237.5 175.3 L238.5 175.2 L239.5 175.1 L240.5 175.0 L241.5 175.0 L242.5 175.0 L243.5 175.0 L244.5 175.0 L245.5 175.1 L246.5 175.1 L247.5 175.1 L248.5 175.2 L249.5 175.2 L250.5 175.3 L251.5 175.4 L252.5 175.5 L253.5 175.5 L254.5 175.7 L255.5 175.9 L256.5 176.2 L257.5 176.5 L258.5 176.9 L259.5 177.3 L260.5 177.8 L261.5 178.2 L262.5 178.7 L263.5 179.2 L264.5 179.7 L265.5 180.3 L266.5 180.9 L267.5 181.6 L268.5 182.4 L269.5 183.3 L270.5 184.2 L271.5 185.1 L272.5 186.1 L273.5 187.0 L274.5 187.8 L275.5 188.6 L276.5 189.4 L277.5 190.1 L278.5 190.8 L279.5 191.4 L280.5 192.1 L281.5 192.7 L282.5 193.4 L283.5 194.0 L284.5 194.6 L285.5 195.2 L286.5 195.8 L287.5 196.5 L288.5 197.1 L289.5 197.7 L290.5 198.3 L291.5 198.9 L292.5 199.6 L293.5 200.2 L294.5 200.8 L295.5 201.4 L296.5 202.0 L297.5 202.6 L298.5 203.2 L299.5 203.7 L300.5 204.3 L301.5 204.8 L302.5 205.3 L303.5 205.8 L304.5 206.3 L305.5 206.8 L306.5 207.3 L307.5 207.7 L308.5 208.2 L309.5 208.7 L310.5 209.1 L311.5 209.6 L312.5 210.0 L313.5 210.4 L314.5 210.9 L315.5 211.3 L316.5 211.7 L317.5 212.1 L318.5 212.4 L319.5 212.8 L320.5 213.2 L321.5 213.5 L322.5 213.9 L323.5 214.2 L324.5 214.5 L325.5 214.8 L326.5 215.1 L327.5 215.4 L328.5 215.7 L329.5 216.0 L330.5 216.2 L331.5 216.5 L332.5 216.8 L333.5 217.1 L334.5 217.3 L335.5 217.6 L336.5 217.9 L337.5 218.2 L338.5 218.5 L339.5 218.8 L340.5 219.2 L341.5 219.5 L342.5 219.8 L343.5 220.2 L344.5 220.5 L345.5 220.9 L346.5 221.3 L347.5 221.6 L348.5 222.0 L349.5 222.4 L350.5 222.8 L351.5 223.1 L352.5 223.5 L353.5 223.9 L354.5 224.2 L355.5 224.6 L356.5 224.9 L357.5 225.2 L358.5 225.5 L359.5 225.9 L360.5 226.1 L361.5 226.4 L362.5 226.7 L363.5 227.0 L364.5 227.2 L365.5 227.5 L366.5 227.7 L367.5 228.0 L368.5 228.2 L369.5 228.4 L370.5 228.7 L371.5 228.9 L372.5 229.1 L373.5 229.4 L374.5 229.6 L375.5 229.8 L376.5 230.1 L377.5 230.3 L378.5 230.6 L379.5 230.9 L380.5 231.1 L381.5 231.4 L382.5 231.7 L383.5 232.0 L384.5 232.2 L385.5 232.5 L386.5 232.8 L387.5 233.1 L388.5 233.3 L389.5 233.6 L390.5 233.9 L391.5 234.2 L392.5 234.5 L393.5 234.8 L394.5 235.1 L395.5 235.5 L396.5 235.8 L397.5 236.1 L398.5 236.5 L399.5 236.8 L400.5 237.2 L401.5 237.6 L402.5 238.0 L403.5 238.5 L404.5 238.9 L405.5 239.4 L406.5 239.9 L407.5 240.5 L408.5 241.0 L409.5 241.5 L410.5 242.0 L411.5 242.5 L412.5 243.1 L413.5 243.5 L414.5 244.0 L415.5 244.4 L416.5 244.9 L417.5 245.2 L418.5 245.6 L419.5 245.9 L420.5 246.1 L421.5 246.4 L422.5 246.6 L423.5 246.9 L424.5 247.1 L425.5 247.4 L426.5 247.6 L427.5 247.8 L428.5 248.1 L429.5 248.3 L430.5 248.5 L431.5 248.7 L432.5 248.9 L433.5 249.2 L434.5 249.3 L435.5 249.5 L436.5 249.7 L437.5 249.9 L438.5 250.0 L439.5 250.2 L440.5 250.3 L441.5 250.5 L442.5 250.6 L443.5 250.7 L444.5 250.8 L445.5 250.8 L446.5 250.9 L447.5 250.9 L448.5 251.0 L449.5 251.0"/>
<path fill="none" stroke="#3d0a9e" stroke-width="2" d="M72.5 142.0 L73.5 142.0 L74.5 142.1 L75.5 142.1 L76.5 142.2 L77.5 142.3 L78.5 142.3 L79.5 142.4 L80.5 142.6 L81.5 142.7 L82.5 142.9 L83.5 143.2 L84.5 143.5 L85.5 144.1 L86.5 145.4 L87.5 147.2 L88.5 149.3 L89.5 151.6 L90.5 153.9 L91.5 156.2 L92.5 158.9 L93.5 162.0 L94.5 165.0 L95.5 167.9 L96.5 170.1 L97.5 171.7 L98.5 173.2 L99.5 174.6 L100.5 175.8 L101.5 176.8 L102.5 177.5 L103.5 177.9 L104.5 177.9 L105.5 177.4 L106.5 176.4 L107.5 175.1 L108.5 173.5 L109.5 171.9 L110.5 170.0 L111.5 167.5 L112.5 164.4 L113.5 160.9 L114.5 157.3 L115.5 153.7 L116.5 150.4 L117.5 147.1 L118.5 143.9 L119.5 140.6 L120.5 137.2 L121.5 133.6 L122.5 129.8 L123.5 125.4 L124.5 120.3 L125.5 114.8 L126.5 109.6 L127.5 105.0 L128.5 101.6 L129.5 98.7 L130.5 96.1 L131.5 93.7 L132.5 91.5 L133.5 89.6 L134.5 87.9 L135.5 86.5 L136.5 85.2 L137.5 84.1 L138.5 83.1 L139.5 82.3 L140.5 81.7 L141.5 81.1 L142.5 80.6 L143.5 80.3 L144.5 80.0 L145.5 80.0 L146.5 80.1 L147.5 80.1 L148.5 80.3 L149.5 80.4 L150.5 80.6 L151.5 81.1 L152.5 81.8 L153.5 82.6 L154.5 83.5 L155.5 84.5 L156.5 85.6 L157.5 86.8 L158.5 88.2 L159.5 89.8 L160.5 91.8 L161.5 94.0 L162.5 96.4 L163.5 99.0 L164.5 101.7 L165.5 104.5 L166.5 107.3 L167.5 110.1 L168.5 112.7 L169.5 115.3 L170.5 117.7 L171.5 120.1 L172.5 122.6 L173.5 125.0 L174.5 127.5 L175.5 129.9 L176.5 132.3 L177.5 134.6 L178.5 136.8 L179.5 139.0 L180.5 141.0 L181.5 142.8 L182.5 144.5 L183.5 146.1 L184.5 147.7 L185.5 149.2 L186.5 150.7 L187.5 152.1 L188.5 153.5 L189.5 154.8 L190.5 156.1 L191.5 157.3 L192.5 158.5 L193.5 159.6 L194.5 160.6 L195.5 161.6 L196.5 162.6 L197.5 163.4 L198.5 164.3 L199.5 165.2 L200.5 166.0 L201.5 166.9 L202.5 167.7 L203.5 168.4 L204.5 169.1 L205.5 169.7 L206.5 170.2 L207.5 170.6 L208.5 170.9 L209.5 171.1 L210.5 171.3 L211.5 171.4 L212.5 171.6 L213.5 171.7 L214.5 171.9 L215.5 172.0 L216.5 172.1 L217.5 172.3 L218.5 172.4 L219.5 172.5 L220.5 172.6 L221.5 172.6 L222.5 172.7 L223.5 172.8 L224.5 172.9 L225.5 172.9 L226.5 172.9 L227.5 173.0 L228.5 173.0 L229.5 173.0 L230.5 173.0 L231.5 172.9 L232.5 172.8 L233.5 172.7 L234.5 172.5 L235.5 172.3 L236.5 172.2 L237.5 172.0 L238.5 171.8 L239.5 171.7 L240.5 171.6 L241.5 171.5 L242.5 171.5 L243.5 171.5 L244.5 171.5 L245.5 171.6 L246.5 171.6 L247.5 171.6 L248.5 171.7 L249.5 171.7 L250.5 171.8 L251.5 171.9 L252.5 172.0 L253.5 172.1 L254.5 172.2 L255.5 172.5 L256.5 172.8 L257.5 173.1 L258.5 173.6 L259.5 174.0 L260.5 174.5 L261.5 175.1 L262.5 175.6 L263.5 176.2 L264.5 176.7 L265.5 177.3 L266.5 177.9 L267.5 178.7 L268.5 179.5 L269.5 180.3 L270.5 181.2 L271.5 182.1 L272.5 183.0 L273.5 183.9 L274.5 184.8 L275.5 185.6 L276.5 186.4 L277.5 187.1 L278.5 187.9 L279.5 188.6 L280.5 189.4 L281.5 190.1 L282.5 190.8 L283.5 191.6 L284.5 192.3 L285.5 193.0 L286.5 193.7 L287.5 194.3 L288.5 195.0 L289.5 195.7 L290.5 196.3 L291.5 197.0 L292.5 197.6 L293.5 198.2 L294.5 198.8 L295.5 199.4 L296.5 200.0 L297.5 200.6 L298.5 201.2 L299.5 201.7 L300.5 202.3 L301.5 202.8 L302.5 203.3 L303.5 203.9 L304.5 204.4 L305.5 204.9 L306.5 205.4 L307.5 205.8 L308.5 206.3 L309.5 206.8 L310.5 207.2 L311.5 207.7 L312.5 208.1 L313.5 208.5 L314.5 208.9 L315.5 209.3 L316.5 209.7 L317.5 210.1 L318.5 210.5 L319.5 210.8 L320.5 211.2 L321.5 211.5 L322.5 211.8 L323.5 212.2 L324.5 212.5 L325.5 212.8 L326.5 213.1 L327.5 213.4 L328.5 213.6 L329.5 213.9 L330.5 214.2 L331.5 214.5 L332.5 214.8 L333.5 215.1 L334.5 215.3 L335.5 215.6 L336.5 215.9 L337.5 216.2 L338.5 216.5 L339.5 216.8 L340.5 217.2 L341.5 217.5 L342.5 217.8 L343.5 218.2 L344.5 218.5 L345.5 218.9 L346.5 219.3 L347.5 219.6 L348.5 220.0 L349.5 220.4 L350.5 220.8 L351.5 221.1 L352.5 221.5 L353.5 221.9 L354.5 222.2 L355.5 222.6 L356.5 222.9 L357.5 223.2 L358.5 223.5 L359.5 223.9 L360.5 224.1 L361.5 224.4 L362.5 224.7 L363.5 225.0 L364.5 225.2 L365.5 225.5 L366.5 225.7 L367.5 226.0 L368.5 226.2 L369.5 226.4 L370.5 226.7 L371.5 226.9 L372.5 227.1 L373.5 227.4 L374.5 227.6 L375.5 227.8 L376.5 228.1 L377.5 228.3 L378.5 228.6 L379.5 228.9 L380.5 229.1 L381.5 229.4 L382.5 229.7 L383.5 229.9 L384.5 230.2 L385.5 230.5 L386.5 230.8 L387.5 231.0 L388.5 231.3 L389.5 231.6 L390.5 231.9 L391.5 232.2 L392.5 232.5 L393.5 232.8 L394.5 233.1 L395.5 233.4 L396.5 233.8 L397.5 234.1 L398.5 234.5 L399.5 234.8 L400.5 235.2 L401.5 235.6 L402.5 236.1 L403.5 236.6 L404.5 237.1 L405.5 237.6 L406.5 238.2 L407.5 238.7 L408.5 239.3 L409.5 239.9 L410.5 240.5 L411.5 241.1 L412.5 241.6 L413.5 242.2 L414.5 242.7 L415.5 243.2 L416.5 243.7 L417.5 244.1 L418.5 244.5 L419.5 244.8 L420.5 245.1 L421.5 245.4 L422.5 245.7 L423.5 246.0 L424.5 246.3 L425.5 246.6 L426.5 246.9 L427.5 247.2 L428.5 247.4 L429.5 247.7 L430.5 247.9 L431.5 248.2 L432.5 248.4 L433.5 248.7 L434.5 248.9 L435.5 249.1 L436.5 249.3 L437.5 249.6 L438.5 249.7 L439.5 249.9 L440.5 250.1 L441.5 250.2 L442.5 250.4 L443.5 250.5 L444.5 250.6 L445.5 250.7 L446.5 250.8 L447.5 250.9 L448.5 251.0 L449.5 251.0"/>
<path fill="#262626" d="M417.7 245.1h1.9v1.9h-1.9zM408.5 246.8h1.9v1.9h-1.9zM409.8 215.9h1.9v1.9h-1.9zM417.9 236.4h1.9v1.9h-1.9zM403.5 238.6h1.9v1.9h-1.9zM412.0 241.0h1.9v1.9h-1.9zM397.4 249.0h1.9v1.9h-1.9z"/>
<path fill="#3d0a9e" d="M442.4 240.7h1.9v1.9h-1.9zM449.1 212.1h1.9v1.9h-1.9zM402.9 233.0h1.9v1.9h-1.9zM421.4 242.4h1.9v1.9h-1.9zM432.8 248.1h1.9v1.9h-1.9zM422.7 224.4h1.9v1.9h-1.9zM397.7 242.5h1.9v1.9h-1.9z"/>
<path fill="#b3238f" d="M447.4 217.8h1.9v1.9h-1.9zM418.5 251.1h1.9v1.9h-1.9zM440.5 236.2h1.9v1.9h-1.9zM428.7 230.4h1.9v1.9h-1.9zM410.0 251.0h1.9v1.9h-1.9z"/>
<path fill="#f99b2c" d="M425.3 244.1h1.9v1.9h-1.9zM436.7 233.6h1.9v1.9h-1.9zM433.1 245.8h1.9v1.9h-1.9zM431.4 219.1h1.9v1.9h-1.9zM431.8 225.3h1.9v1.9h-1.9zM419.4 246.2h1.9v1.9h-1.9zM444.4 233.1h1.9v1.9h-1.9z"/>
<path fill="#6e0ea8" d="M415.8 225.1h1.9v1.9h-1.9zM428.9 246.2h1.9v1.9h-1.9zM413.5 236.2h1.9v1.9h-1.9zM439.0 241.5h1.9v1.9h-1.9zM428.4 236.4h1.9v1.9h-1.9zM442.2 239.8h1.9v1.9h-1.9zM427.8 201.4h1.9v1.9h-1.9z"/>
<path fill="#e3655f" d="M426.6 219.2h1.9v1.9h-1.9zM431.2 237.7h1.9v1.9h-1.9zM398.7 249.9h1.9v1.9h-1.9zM418.7 248.6h1.9v1.9h-1.9zM398.6 249.6h1.9v1.9h-1.9zM427.2 239.3h1.9v1.9h-1.9zM409.1 230.1h1.9v1.9h-1.9z"/>
<path fill="#262626" d="M426.6 246.2h1.9v1.9h-1.9zM431.5 237.3h1.9v1.9h-1.9zM419.4 250.3h1.9v1.9h-1.9zM447.7 231.7h1.9v1.9h-1.9zM447.1 211.2h1.9v1.9h-1.9z"/>
<path fill="#3d0a9e" d="M406.9 245.3h1.9v1.9h-1.9zM404.5 224.9h1.9v1.9h-1.9zM412.7 242.1h1.9v1.9h-1.9zM426.8 218.9h1.9v1.9h-1.9zM417.1 252.9h1.9v1.9h-1.9z"/>
<path fill="#b3238f" d="M403.9 252.8h1.9v1.9h-1.9zM431.1 207.8h1.9v1.9h-1.9zM402.0 239.6h1.9v1.9h-1.9zM408.9 250.2h1.9v1.9h-1.9zM429.8 207.9h1.9v1.9h-1.9zM396.6 236.0h1.9v1.9h-1.9z"/>
<path fill="#f99b2c" d="M414.6 210.1h1.9v1.9h-1.9zM414.0 224.5h1.9v1.9h-1.9zM404.2 244.1h1.9v1.9h-1.9zM439.7 228.2h1.9v1.9h-1.9zM439.4 230.5h1.9v1.9h-1.9zM396.4 252.5h1.9v1.9h-1.9zM438.1 242.2h1.9v1.9h-1.9z"/>
<path fill="#6e0ea8" d="M419.5 232.9h1.9v1.9h-1.9zM416.4 251.6h1.9v1.9h-1.9zM397.4 232.6h1.9v1.9h-1.9zM424.6 244.7h1.9v1.9h-1.9zM413.4 239.0h1.9v1.9h-1.9zM407.1 242.1h1.9v1.9h-1.9zM420.3 252.2h1.9v1.9h-1.9zM438.1 227.0h1.9v1.9h-1.9zM422.5 251.5h1.9v1.9h-1.9z"/>
<path fill="#e3655f" d="M442.4 238.5h1.9v1.9h-1.9zM429.2 243.3h1.9v1.9h-1.9zM407.0 246.3h1.9v1.9h-1.9zM411.7 227.2h1.9v1.9h-1.9zM430.6 197.4h1.9v1.9h-1.9zM401.3 249.8h1.9v1.9h-1.9zM395.1 242.6h1.9v1.9h-1.9zM405.4 235.2h1.9v1.9h-1.9z"/>
<path fill="#262626" d="M431.1 250.7h1.9v1.9h-1.9zM397.9 244.0h1.9v1.9h-1.9zM421.9 245.1h1.9v1.9h-1.9zM413.0 247.5h1.9v1.9h-1.9zM401.4 241.3h1.9v1.9h-1.9z"/>
<path fill="#3d0a9e" d="M395.5 229.9h1.9v1.9h-1.9zM424.6 246.3h1.9v1.9h-1.9zM426.5 229.5h1.9v1.9h-1.9zM434.8 239.4h1.9v1.9h-1.9zM416.9 239.9h1.9v1.9h-1.9zM436.9 252.6h1.9v1.9h-1.9zM415.6 235.2h1.9v1.9h-1.9zM411.1 228.9h1.9v1.9h-1.9zM409.9 238.3h1.9v1.9h-1.9zM438.8 250.0h1.9v1.9h-1.9zM446.3 232.2h1.9v1.9h-1.9z"/>
<path fill="#b3238f" d="M415.0 231.2h1.9v1.9h-1.9zM432.7 249.7h1.9v1.9h-1.9zM430.3 238.2h1.9v1.9h-1.9zM433.7 234.9h1.9v1.9h-1.9zM406.3 218.1h1.9v1.9h-1.9zM431.7 241.3h1.9v1.9h-1.9z"/>
<path fill="#f99b2c" d="M394.3 231.5h1.9v1.9h-1.9zM438.8 237.4h1.9v1.9h-1.9zM399.5 239.3h1.9v1.9h-1.9zM415.4 207.9h1.9v1.9h-1.9zM407.7 247.7h1.9v1.9h-1.9zM398.7 243.8h1.9v1.9h-1.9z"/>
<path fill="#6e0ea8" d="M405.4 250.1h1.9v1.9h-1.9zM408.7 242.9h1.9v1.9h-1.9zM432.0 244.5h1.9v1.9h-1.9zM441.2 235.8h1.9v1.9h-1.9zM398.9 253.0h1.9v1.9h-1.9zM422.3 230.8h1.9v1.9h-1.9z"/>
<path fill="#e3655f" d="M429.0 245.2h1.9v1.9h-1.9zM395.0 248.9h1.9v1.9h-1.9zM415.1 249.3h1.9v1.9h-1.9zM404.5 218.1h1.9v1.9h-1.9zM422.1 240.9h1.9v1.9h-1.9zM427.1 241.7h1.9v1.9h-1.9z"/>
<path fill="#262626" d="M419.0 217.9h1.9v1.9h-1.9zM434.1 214.4h1.9v1.9h-1.9zM399.1 247.4h1.9v1.9h-1.9zM405.7 237.8h1.9v1.9h-1.9zM424.3 246.5h1.9v1.9h-1.9zM442.3 252.0h1.9v1.9h-1.9z"/>
<path fill="#3d0a9e" d="M408.4 240.8h1.9v1.9h-1.9zM428.5 208.4h1.9v1.9h-1.9zM430.3 252.6h1.9v1.9h-1.9zM433.8 232.0h1.9v1.9h-1.9zM437.8 240.0h1.9v1.9h-1.9zM443.3 250.5h1.9v1.9h-1.9zM425.0 246.3h1.9v1.9h-1.9zM447.3 251.1h1.9v1.9h-1.9z"/>
<path fill="#b3238f" d="M397.4 232.9h1.9v1.9h-1.9zM410.3 250.0h1.9v1.9h-1.9zM405.0 237.9h1.9v1.9h-1.9zM444.3 245.5h1.9v1.9h-1.9zM428.4 241.0h1.9v1.9h-1.9zM418.0 247.1h1.9v1.9h-1.9zM440.7 219.8h1.9v1.9h-1.9zM436.1 247.0h1.9v1.9h-1.9z"/>
<path fill="#f99b2c" d="M436.6 228.0h1.9v1.9h-1.9zM420.7 243.4h1.9v1.9h-1.9zM446.5 239.0h1.9v1.9h-1.9zM408.2 242.9h1.9v1.9h-1.9zM422.6 199.4h1.9v1.9h-1.9zM442.5 238.4h1.9v1.9h-1.9zM434.1 246.7h1.9v1.9h-1.9zM403.4 238.3h1.9v1.9h-1.9zM403.9 250.4h1.9v1.9h-1.9z"/>
<path fill="#6e0ea8" d="M411.0 219.9h1.9v1.9h-1.9zM426.7 240.9h1.9v1.9h-1.9z"/>
<path fill="#e3655f" d="M416.2 249.7h1.9v1.9h-1.9zM439.8 246.9h1.9v1.9h-1.9zM432.3 216.4h1.9v1.9h-1.9zM423.9 247.3h1.9v1.9h-1.9zM398.6 232.3h1.9v1.9h-1.9zM406.1 245.1h1.9v1.9h-1.9zM434.9 251.7h1.9v1.9h-1.9z"/>
<path fill="#262626" d="M432.7 249.6h1.9v1.9h-1.9zM443.1 240.5h1.9v1.9h-1.9zM428.3 242.7h1.9v1.9h-1.9zM425.6 248.9h1.9v1.9h-1.9zM437.1 245.5h1.9v1.9h-1.9zM410.0 251.2h1.9v1.9h-1.9zM442.8 228.2h1.9v1.9h-1.9zM423.4 217.8h1.9v1.9h-1.9zM429.5 224.5h1.9v1.9h-1.9z"/>
<path fill="#3d0a9e" d="M394.5 239.4h1.9v1.9h-1.9zM441.7 238.1h1.9v1.9h-1.9zM401.7 239.4h1.9v1.9h-1.9zM424.0 244.3h1.9v1.9h-1.9zM401.2 232.7h1.9v1.9h-1.9z"/>
<path fill="#b3238f" d="M411.2 243.4h1.9v1.9h-1.9zM422.3 248.2h1.9v1.9h-1.9zM415.2 249.5h1.9v1.9h-1.9zM409.4 246.3h1.9v1.9h-1.9zM398.1 251.3h1.9v1.9h-1.9zM421.0 245.4h1.9v1.9h-1.9z"/>
<path fill="#f99b2c" d="M406.9 239.2h1.9v1.9h-1.9zM411.7 244.8h1.9v1.9h-1.9zM432.5 230.7h1.9v1.9h-1.9zM422.9 238.2h1.9v1.9h-1.9zM422.7 249.9h1.9v1.9h-1.9zM416.0 240.2h1.9v1.9h-1.9zM417.1 239.3h1.9v1.9h-1.9zM433.4 242.3h1.9v1.9h-1.9z"/>
<path fill="#6e0ea8" d="M422.9 246.4h1.9v1.9h-1.9zM395.5 230.3h1.9v1.9h-1.9zM423.7 234.9h1.9v1.9h-1.9zM433.8 237.2h1.9v1.9h-1.9zM406.9 247.5h1.9v1.9h-1.9z"/>
<path fill="#e3655f" d="M417.6 176.1h1.9v1.9h-1.9zM449.7 248.5h1.9v1.9h-1.9zM448.5 216.3h1.9v1.9h-1.9zM434.1 236.1h1.9v1.9h-1.9zM403.2 249.2h1.9v1.9h-1.9zM406.9 248.3h1.9v1.9h-1.9zM407.8 250.8h1.9v1.9h-1.9z"/>
<path fill="#262626" d="M423.4 236.6h1.9v1.9h-1.9zM446.8 252.2h1.9v1.9h-1.9zM416.9 252.5h1.9v1.9h-1.9zM415.9 241.4h1.9v1.9h-1.9zM440.9 249.9h1.9v1.9h-1.9zM405.0 242.7h1.9v1.9h-1.9zM396.6 249.9h1.9v1.9h-1.9zM436.6 250.2h1.9v1.9h-1.9zM402.2 243.7h1.9v1.9h-1.9z"/>
<path fill="#3d0a9e" d="M414.5 231.8h1.9v1.9h-1.9zM427.6 247.7h1.9v1.9h-1.9zM440.9 241.8h1.9v1.9h-1.9zM408.0 233.3h1.9v1.9h-1.9zM442.0 235.9h1.9v1.9h-1.9zM418.0 213.0h1.9v1.9h-1.9z"/>
<path fill="#b3238f" d="M443.6 250.2h1.9v1.9h-1.9zM405.2 225.4h1.9v1.9h-1.9zM411.5 225.9h1.9v1.9h-1.9zM400.0 252.8h1.9v1.9h-1.9zM414.1 248.0h1.9v1.9h-1.9zM398.6 239.2h1.9v1.9h-1.9z"/>
<path fill="#f99b2c" d="M443.0 186.6h1.9v1.9h-1.9zM402.5 245.6h1.9v1.9h-1.9zM428.8 217.6h1.9v1.9h-1.9zM438.5 245.6h1.9v1.9h-1.9zM410.2 237.1h1.9v1.9h-1.9zM434.3 224.5h1.9v1.9h-1.9zM431.3 220.2h1.9v1.9h-1.9z"/>
<path fill="#6e0ea8" d="M427.2 231.2h1.9v1.9h-1.9zM404.8 222.1h1.9v1.9h-1.9zM403.0 238.4h1.9v1.9h-1.9zM433.6 230.5h1.9v1.9h-1.9z"/>
<path fill="#e3655f" d="M394.5 251.4h1.9v1.9h-1.9zM439.7 252.5h1.9v1.9h-1.9zM443.7 246.0h1.9v1.9h-1.9zM413.0 252.8h1.9v1.9h-1.9zM441.5 250.4h1.9v1.9h-1.9zM422.1 231.2h1.9v1.9h-1.9zM445.0 214.2h1.9v1.9h-1.9zM423.6 245.7h1.9v1.9h-1.9z"/>
<path fill="#262626" d="M444.9 226.5h1.9v1.9h-1.9zM400.4 237.1h1.9v1.9h-1.9zM404.0 245.5h1.9v1.9h-1.9zM400.7 238.0h1.9v1.9h-1.9zM398.3 244.6h1.9v1.9h-1.9zM435.8 233.3h1.9v1.9h-1.9zM411.0 241.6h1.9v1.9h-1.9z"/>
<path fill="#3d0a9e" d="M399.6 236.3h1.9v1.9h-1.9zM448.4 248.1h1.9v1.9h-1.9zM443.8 250.4h1.9v1.9h-1.9zM446.3 244.8h1.9v1.9h-1.9zM444.6 214.7h1.9v1.9h-1.9zM406.8 244.5h1.9v1.9h-1.9zM425.2 247.8h1.9v1.9h-1.9z"/>
<path fill="#b3238f" d="M425.1 224.4h1.9v1.9h-1.9zM427.6 233.1h1.9v1.9h-1.9zM438.8 235.5h1.9v1.9h-1.9zM396.0 252.6h1.9v1.9h-1.9zM410.9 241.3h1.9v1.9h-1.9z"/>
<path fill="#f99b2c" d="M397.0 252.3h1.9v1.9h-1.9zM424.5 245.7h1.9v1.9h-1.9zM401.7 241.4h1.9v1.9h-1.9zM402.6 252.8h1.9v1.9h-1.9zM427.9 247.2h1.9v1.9h-1.9zM394.2 246.0h1.9v1.9h-1.9zM437.2 235.2h1.9v1.9h-1.9z"/>
<path fill="#6e0ea8" d="M442.8 244.7h1.9v1.9h-1.9zM427.1 240.1h1.9v1.9h-1.9zM434.1 247.5h1.9v1.9h-1.9zM404.1 236.4h1.9v1.9h-1.9zM400.9 243.2h1.9v1.9h-1.9zM400.8 250.6h1.9v1.9h-1.9zM445.5 246.4h1.9v1.9h-1.9z"/>
<path fill="#e3655f" d="M436.5 244.1h1.9v1.9h-1.9zM417.2 228.2h1.9v1.9h-1.9zM397.6 250.9h1.9v1.9h-1.9zM418.1 226.5h1.9v1.9h-1.9zM416.3 252.0h1.9v1.9h-1.9zM416.8 248.0h1.9v1.9h-1.9zM420.8 243.8h1.9v1.9h-1.9z"/>
<path fill="#262626" d="M396.9 232.3h1.9v1.9h-1.9zM410.5 242.0h1.9v1.9h-1.9zM444.4 211.1h1.9v1.9h-1.9zM423.7 243.2h1.9v1.9h-1.9zM394.7 251.0h1.9v1.9h-1.9z"/>
<path fill="#3d0a9e" d="M410.2 222.2h1.9v1.9h-1.9zM429.2 241.8h1.9v1.9h-1.9zM402.5 229.1h1.9v1.9h-1.9z"/>
<path fill="#b3238f" d="M420.5 250.1h1.9v1.9h-1.9zM441.4 239.5h1.9v1.9h-1.9zM442.2 238.9h1.9v1.9h-1.9zM402.5 239.3h1.9v1.9h-1.9zM425.4 245.7h1.9v1.9h-1.9zM438.1 236.0h1.9v1.9h-1.9zM433.9 248.3h1.9v1.9h-1.9zM415.8 228.3h1.9v1.9h-1.9zM439.3 251.3h1.9v1.9h-1.9zM409.4 252.8h1.9v1.9h-1.9zM404.4 248.9h1.9v1.9h-1.9zM434.2 239.1h1.9v1.9h-1.9z"/>
<path fill="#f99b2c" d="M400.9 234.4h1.9v1.9h-1.9zM440.6 233.7h1.9v1.9h-1.9zM418.1 251.6h1.9v1.9h-1.9zM419.9 243.4h1.9v1.9h-1.9zM413.0 245.2h1.9v1.9h-1.9z"/>
<path fill="#6e0ea8" d="M394.4 245.7h1.9v1.9h-1.9zM437.1 240.8h1.9v1.9h-1.9zM397.6 229.7h1.9v1.9h-1.9zM425.0 252.7h1.9v1.9h-1.9zM411.8 226.4h1.9v1.9h-1.9zM410.6 228.0h1.9v1.9h-1.9zM431.5 246.5h1.9v1.9h-1.9z"/>
<path fill="#e3655f" d="M406.2 246.7h1.9v1.9h-1.9zM397.2 244.9h1.9v1.9h-1.9zM439.2 246.9h1.9v1.9h-1.9zM414.0 249.1h1.9v1.9h-1.9zM420.7 245.7h1.9v1.9h-1.9zM436.0 234.4h1.9v1.9h-1.9zM420.6 245.7h1.9v1.9h-1.9zM407.9 252.9h1.9v1.9h-1.9z"/>
<path fill="#262626" d="M430.2 237.6h1.9v1.9h-1.9zM414.1 236.5h1.9v1.9h-1.9zM406.2 235.8h1.9v1.9h-1.9zM415.0 239.8h1.9v1.9h-1.9zM446.1 231.8h1.9v1.9h-1.9zM403.2 243.1h1.9v1.9h-1.9zM422.4 207.1h1.9v1.9h-1.9zM429.2 245.9h1.9v1.9h-1.9z"/>
<path fill="#3d0a9e" d="M414.4 233.3h1.9v1.9h-1.9zM400.2 229.8h1.9v1.9h-1.9zM415.5 239.7h1.9v1.9h-1.9zM423.3 245.5h1.9v1.9h-1.9zM403.4 234.6h1.9v1.9h-1.9zM435.2 232.1h1.9v1.9h-1.9z"/>
<path fill="#b3238f" d="M404.6 234.6h1.9v1.9h-1.9zM417.0 243.1h1.9v1.9h-1.9zM432.1 249.3h1.9v1.9h-1.9zM426.7 218.6h1.9v1.9h-1.9zM414.5 251.1h1.9v1.9h-1.9zM396.9 241.3h1.9v1.9h-1.9zM429.7 242.0h1.9v1.9h-1.9zM416.3 244.0h1.9v1.9h-1.9z"/>
<path fill="#f99b2c" d="M410.9 240.0h1.9v1.9h-1.9zM423.6 243.6h1.9v1.9h-1.9zM412.6 230.7h1.9v1.9h-1.9zM405.3 238.7h1.9v1.9h-1.9zM430.1 157.1h1.9v1.9h-1.9z"/>
<path fill="#6e0ea8" d="M407.4 247.2h1.9v1.9h-1.9zM404.7 229.8h1.9v1.9h-1.9zM436.5 209.9h1.9v1.9h-1.9zM399.4 240.8h1.9v1.9h-1.9zM447.2 245.4h1.9v1.9h-1.9zM444.5 232.0h1.9v1.9h-1.9zM444.1 225.5h1.9v1.9h-1.9zM430.6 250.5h1.9v1.9h-1.9z"/>
<path fill="#e3655f" d="M447.6 251.5h1.9v1.9h-1.9zM414.4 234.9h1.9v1.9h-1.9zM446.6 248.1h1.9v1.9h-1.9zM437.3 249.0h1.9v1.9h-1.9zM410.0 223.0h1.9v1.9h-1.9z"/>
<path fill="#262626" d="M416.9 209.0h1.9v1.9h-1.9zM418.7 220.6h1.9v1.9h-1.9zM420.9 246.0h1.9v1.9h-1.9zM430.0 237.6h1.9v1.9h-1.9zM402.7 241.0h1.9v1.9h-1.9z"/>
<path fill="#3d0a9e" d="M405.3 242.3h1.9v1.9h-1.9zM440.5 252.2h1.9v1.9h-1.9zM419.4 240.0h1.9v1.9h-1.9zM419.3 252.0h1.9v1.9h-1.9zM404.1 245.4h1.9v1.9h-1.9zM412.2 245.9h1.9v1.9h-1.9zM408.7 237.0h1.9v1.9h-1.9zM434.2 242.0h1.9v1.9h-1.9zM405.8 228.3h1.9v1.9h-1.9z"/>
<path fill="#b3238f" d="M434.7 242.7h1.9v1.9h-1.9zM394.9 226.5h1.9v1.9h-1.9zM395.3 236.7h1.9v1.9h-1.9zM400.2 251.9h1.9v1.9h-1.9zM444.9 230.4h1.9v1.9h-1.9z"/>
<path fill="#f99b2c" d="M408.6 247.4h1.9v1.9h-1.9zM396.0 243.4h1.9v1.9h-1.9zM430.7 249.2h1.9v1.9h-1.9zM429.2 249.4h1.9v1.9h-1.9zM402.3 249.2h1.9v1.9h-1.9zM441.6 248.9h1.9v1.9h-1.9zM443.5 235.1h1.9v1.9h-1.9zM426.5 246.5h1.9v1.9h-1.9z"/>
<path fill="#6e0ea8" d="M440.0 249.8h1.9v1.9h-1.9zM436.1 213.9h1.9v1.9h-1.9zM415.7 232.4h1.9v1.9h-1.9zM410.3 229.2h1.9v1.9h-1.9zM421.1 250.6h1.9v1.9h-1.9zM441.6 163.6h1.9v1.9h-1.9zM409.0 226.8h1.9v1.9h-1.9zM421.1 250.3h1.9v1.9h-1.9zM424.4 243.0h1.9v1.9h-1.9zM398.6 239.8h1.9v1.9h-1.9z"/>
<path fill="#e3655f" d="M435.7 236.6h1.9v1.9h-1.9zM402.4 241.9h1.9v1.9h-1.9zM401.8 247.7h1.9v1.9h-1.9z"/>
<path fill="#262626" d="M435.0 195.5h1.9v1.9h-1.9zM447.5 248.2h1.9v1.9h-1.9zM406.7 234.5h1.9v1.9h-1.9zM420.4 246.0h1.9v1.9h-1.9zM394.2 251.5h1.9v1.9h-1.9z"/>
<path fill="#3d0a9e" d="M403.5 248.5h1.9v1.9h-1.9zM401.1 245.3h1.9v1.9h-1.9zM448.8 240.8h1.9v1.9h-1.9zM397.3 229.0h1.9v1.9h-1.9zM448.0 225.5h1.9v1.9h-1.9zM445.0 240.4h1.9v1.9h-1.9z"/>
<path fill="#b3238f" d="M399.5 246.9h1.9v1.9h-1.9zM448.4 211.0h1.9v1.9h-1.9zM426.2 243.2h1.9v1.9h-1.9zM430.1 240.5h1.9v1.9h-1.9zM436.8 244.9h1.9v1.9h-1.9zM440.0 251.3h1.9v1.9h-1.9zM426.8 245.8h1.9v1.9h-1.9zM437.5 239.2h1.9v1.9h-1.9z"/>
<path fill="#f99b2c" d="M425.0 249.8h1.9v1.9h-1.9zM398.0 237.2h1.9v1.9h-1.9zM421.4 216.4h1.9v1.9h-1.9zM410.4 247.4h1.9v1.9h-1.9zM413.4 247.6h1.9v1.9h-1.9zM427.4 234.1h1.9v1.9h-1.9z"/>
<path fill="#6e0ea8" d="M448.0 216.9h1.9v1.9h-1.9zM396.8 233.7h1.9v1.9h-1.9zM405.9 240.2h1.9v1.9h-1.9zM446.6 221.7h1.9v1.9h-1.9zM437.8 241.4h1.9v1.9h-1.9z"/>
<path fill="#e3655f" d="M437.7 225.3h1.9v1.9h-1.9zM409.5 243.0h1.9v1.9h-1.9zM440.2 250.4h1.9v1.9h-1.9zM400.1 220.0h1.9v1.9h-1.9zM444.4 221.1h1.9v1.9h-1.9zM430.2 219.5h1.9v1.9h-1.9zM412.7 250.5h1.9v1.9h-1.9zM426.0 233.8h1.9v1.9h-1.9zM400.0 243.7h1.9v1.9h-1.9zM397.8 234.0h1.9v1.9h-1.9z"/>
<path fill="#262626" d="M438.1 233.3h1.9v1.9h-1.9zM415.4 239.6h1.9v1.9h-1.9zM440.4 242.2h1.9v1.9h-1.9zM403.1 232.6h1.9v1.9h-1.9zM436.2 215.1h1.9v1.9h-1.9zM407.4 242.4h1.9v1.9h-1.9zM395.2 245.9h1.9v1.9h-1.9z"/>
<path fill="#3d0a9e" d="M411.7 226.1h1.9v1.9h-1.9zM417.7 239.9h1.9v1.9h-1.9zM396.1 230.0h1.9v1.9h-1.9zM420.3 247.4h1.9v1.9h-1.9zM422.3 232.5h1.9v1.9h-1.9zM421.6 222.1h1.9v1.9h-1.9z"/>
<path fill="#b3238f" d="M424.2 240.4h1.9v1.9h-1.9zM431.8 218.9h1.9v1.9h-1.9zM427.9 243.2h1.9v1.9h-1.9zM408.6 241.9h1.9v1.9h-1.9zM419.6 243.1h1.9v1.9h-1.9zM416.9 248.0h1.9v1.9h-1.9z"/>
<path fill="#f99b2c" d="M404.8 246.3h1.9v1.9h-1.9zM445.8 235.2h1.9v1.9h-1.9zM396.1 247.9h1.9v1.9h-1.9zM416.2 245.7h1.9v1.9h-1.9z"/>
<path fill="#6e0ea8" d="M433.9 246.0h1.9v1.9h-1.9zM401.6 238.3h1.9v1.9h-1.9zM399.8 237.3h1.9v1.9h-1.9zM429.9 250.3h1.9v1.9h-1.9zM402.4 235.1h1.9v1.9h-1.9zM419.1 228.8h1.9v1.9h-1.9z"/>
<path fill="#e3655f" d="M408.3 245.3h1.9v1.9h-1.9zM443.9 243.7h1.9v1.9h-1.9zM440.8 251.2h1.9v1.9h-1.9zM408.9 252.7h1.9v1.9h-1.9zM419.5 233.1h1.9v1.9h-1.9zM428.4 238.1h1.9v1.9h-1.9zM433.3 252.6h1.9v1.9h-1.9zM402.9 249.5h1.9v1.9h-1.9zM433.3 239.9h1.9v1.9h-1.9z"/>
<path fill="none" stroke="#a8a8a8" stroke-width="0.9" d="M385.0 251.0 L385.6 251.0 L386.3 251.0 L386.9 251.0 L387.5 251.0 L388.1 251.0 L388.8 251.0 L389.4 251.0 L390.0 251.0 L390.7 251.0 L391.3 251.0 L391.9 251.0 L392.6 251.0 L393.2 251.0 L393.8 251.0 L394.4 251.0 L395.1 251.0 L395.7 251.0 L396.3 251.0 L397.0 251.0 L397.6 251.0 L398.2 251.0 L398.9 251.0 L399.5 251.0 L400.1 251.0 L400.7 250.9 L401.4 250.5 L402.0 250.2 L402.6 250.5 L403.3 250.8 L403.9 250.9 L404.5 250.0 L405.2 248.9 L405.8 245.3 L406.4 250.4 L407.0 251.0 L407.7 249.7 L408.3 248.3 L408.9 247.1 L409.6 249.1 L410.2 242.1 L410.8 249.9 L411.5 249.5 L412.1 249.4 L412.7 238.9 L413.3 246.6 L414.0 248.1 L414.6 250.8 L415.2 247.3 L415.9 239.6 L416.5 238.3 L417.1 235.1 L417.8 249.4 L418.4 250.9 L419.0 249.6 L419.6 250.6 L420.3 234.7 L420.9 247.8 L421.5 234.5 L422.2 247.6 L422.8 250.2 L423.4 247.7 L424.1 239.5 L424.7 227.3 L425.3 238.1 L425.9 232.3 L426.6 241.2 L427.2 226.9 L427.8 228.9 L428.5 223.0 L429.1 228.4 L429.7 233.7 L430.4 228.0 L431.0 224.8 L431.6 233.4 L432.2 250.3 L432.9 241.5 L433.5 219.1 L434.1 231.3 L434.8 242.2 L435.4 221.4 L436.0 243.2 L436.7 242.0 L437.3 236.3 L437.9 229.9 L438.5 234.4 L439.2 243.5 L439.8 234.2 L440.4 242.5 L441.1 228.5 L441.7 233.6 L442.3 249.5 L443.0 229.5 L443.6 211.3 L444.2 229.3 L444.8 250.1 L445.5 232.5 L446.1 248.0 L446.7 238.9 L447.4 248.0 L448.0 211.4 L448.6 220.4 L449.3 231.6 L449.9 243.7"/>
<path fill="#7a1fb0" d="M428.1 138.8h1.9v1.9h-1.9zM428.1 151.4h1.9v1.9h-1.9zM440.1 159.1h1.9v1.9h-1.9zM436.1 179.1h1.9v1.9h-1.9z"/>
<path fill="#f99b2c" d="M428.1 147.8h1.9v1.9h-1.9zM445.1 132.1h1.9v1.9h-1.9zM428.1 171.9h1.9v1.9h-1.9zM442.1 167.1h1.9v1.9h-1.9z"/>
<path fill="#262626" d="M439.1 169.1h1.9v1.9h-1.9zM432.1 185.1h1.9v1.9h-1.9zM446.1 175.1h1.9v1.9h-1.9z"/>
</g>
<rect x="72.3" y="10.0" width="377.9" height="246.2" fill="none" stroke="#000" stroke-width="2.6"/>
<line x1="68" y1="10.4" x2="72" y2="10.4" stroke="#000" stroke-width="2"/>
<text class="tl" x="63" y="16.8" text-anchor="end" textLength="33.5" lengthAdjust="spacingAndGlyphs" font-size="16.2">0.06</text>
<line x1="68" y1="50.8" x2="72" y2="50.8" stroke="#000" stroke-width="2"/>
<text class="tl" x="63" y="57.2" text-anchor="end" textLength="33.5" lengthAdjust="spacingAndGlyphs" font-size="16.2">0.05</text>
<line x1="68" y1="91.1" x2="72" y2="91.1" stroke="#000" stroke-width="2"/>
<text class="tl" x="63" y="97.5" text-anchor="end" textLength="33.5" lengthAdjust="spacingAndGlyphs" font-size="16.2">0.04</text>
<line x1="68" y1="131.4" x2="72" y2="131.4" stroke="#000" stroke-width="2"/>
<text class="tl" x="63" y="137.8" text-anchor="end" textLength="33.5" lengthAdjust="spacingAndGlyphs" font-size="16.2">0.03</text>
<line x1="68" y1="171.7" x2="72" y2="171.7" stroke="#000" stroke-width="2"/>
<text class="tl" x="63" y="178.1" text-anchor="end" textLength="33.5" lengthAdjust="spacingAndGlyphs" font-size="16.2">0.02</text>
<line x1="68" y1="212.1" x2="72" y2="212.1" stroke="#000" stroke-width="2"/>
<text class="tl" x="63" y="218.5" text-anchor="end" textLength="33.5" lengthAdjust="spacingAndGlyphs" font-size="16.2">0.01</text>
<line x1="68" y1="252.4" x2="72" y2="252.4" stroke="#000" stroke-width="2"/>
<text class="tl" x="63" y="258.8" text-anchor="end" textLength="33.5" lengthAdjust="spacingAndGlyphs" font-size="16.2">0.00</text>
<line x1="72.5" y1="256" x2="72.5" y2="260" stroke="#000" stroke-width="2"/>
<text class="tl" x="72.5" y="276.2" text-anchor="middle" textLength="28" lengthAdjust="spacingAndGlyphs" font-size="16.2">400</text>
<line x1="135.5" y1="256" x2="135.5" y2="260" stroke="#000" stroke-width="2"/>
<text class="tl" x="135.5" y="276.2" text-anchor="middle" textLength="28" lengthAdjust="spacingAndGlyphs" font-size="16.2">500</text>
<line x1="198.5" y1="256" x2="198.5" y2="260" stroke="#000" stroke-width="2"/>
<text class="tl" x="198.5" y="276.2" text-anchor="middle" textLength="28" lengthAdjust="spacingAndGlyphs" font-size="16.2">600</text>
<line x1="261.5" y1="256" x2="261.5" y2="260" stroke="#000" stroke-width="2"/>
<text class="tl" x="261.5" y="276.2" text-anchor="middle" textLength="28" lengthAdjust="spacingAndGlyphs" font-size="16.2">700</text>
<line x1="324.5" y1="256" x2="324.5" y2="260" stroke="#000" stroke-width="2"/>
<text class="tl" x="324.5" y="276.2" text-anchor="middle" textLength="28" lengthAdjust="spacingAndGlyphs" font-size="16.2">800</text>
<line x1="387.5" y1="256" x2="387.5" y2="260" stroke="#000" stroke-width="2"/>
<text class="tl" x="387.5" y="276.2" text-anchor="middle" textLength="28" lengthAdjust="spacingAndGlyphs" font-size="16.2">900</text>
<line x1="450.5" y1="256" x2="450.5" y2="260" stroke="#000" stroke-width="2"/>
<text class="tl" x="450.5" y="276.2" text-anchor="middle" textLength="37.5" lengthAdjust="spacingAndGlyphs" font-size="16.2">1000</text>
<text class="tl" x="232" y="297.6" font-size="17.5" font-style="italic" textLength="10.5" lengthAdjust="spacingAndGlyphs">λ</text>
<text class="tl" x="249.5" y="297.6" font-size="17.5" textLength="42.3" lengthAdjust="spacingAndGlyphs">(nm)</text>
<text class="tl" transform="translate(19.6,154.6) rotate(-90)" font-size="16" textLength="44.7" lengthAdjust="spacingAndGlyphs">ΔAbs</text>
<text x="155" y="34.2" font-size="18.8" font-weight="bold" fill="#262626" style="fill:#262626" textLength="32" lengthAdjust="spacingAndGlyphs">521</text>
<text x="251" y="39.2" font-size="17" font-weight="bold" font-style="italic" style="fill:#15158a" textLength="54" lengthAdjust="spacingAndGlyphs">15 min</text>
<text x="277.8" y="76" font-size="16" font-weight="bold" textLength="57" lengthAdjust="spacingAndGlyphs">–2.63 V</text><text x="337.8" y="76" font-size="16" font-weight="bold" textLength="21" lengthAdjust="spacingAndGlyphs">vs.</text><text x="364.6" y="76" font-size="16" font-weight="bold" textLength="15" lengthAdjust="spacingAndGlyphs">Fc</text>
<text x="379.6" y="70.9" font-size="10.5" font-weight="bold" textLength="17" lengthAdjust="spacingAndGlyphs">+/0</text>
<path d="M266 53 L271 63.5 L261 63.5 Z" fill="#000"/>
<rect x="264.9" y="62" width="2.2" height="25.5" fill="#000"/>
<text x="251.5" y="110" font-size="17" font-style="italic" style="fill:#f28c2c;stroke:#f28c2c;stroke-width:0.5" textLength="32" lengthAdjust="spacingAndGlyphs">30 s</text>
</svg>
</body></html>
